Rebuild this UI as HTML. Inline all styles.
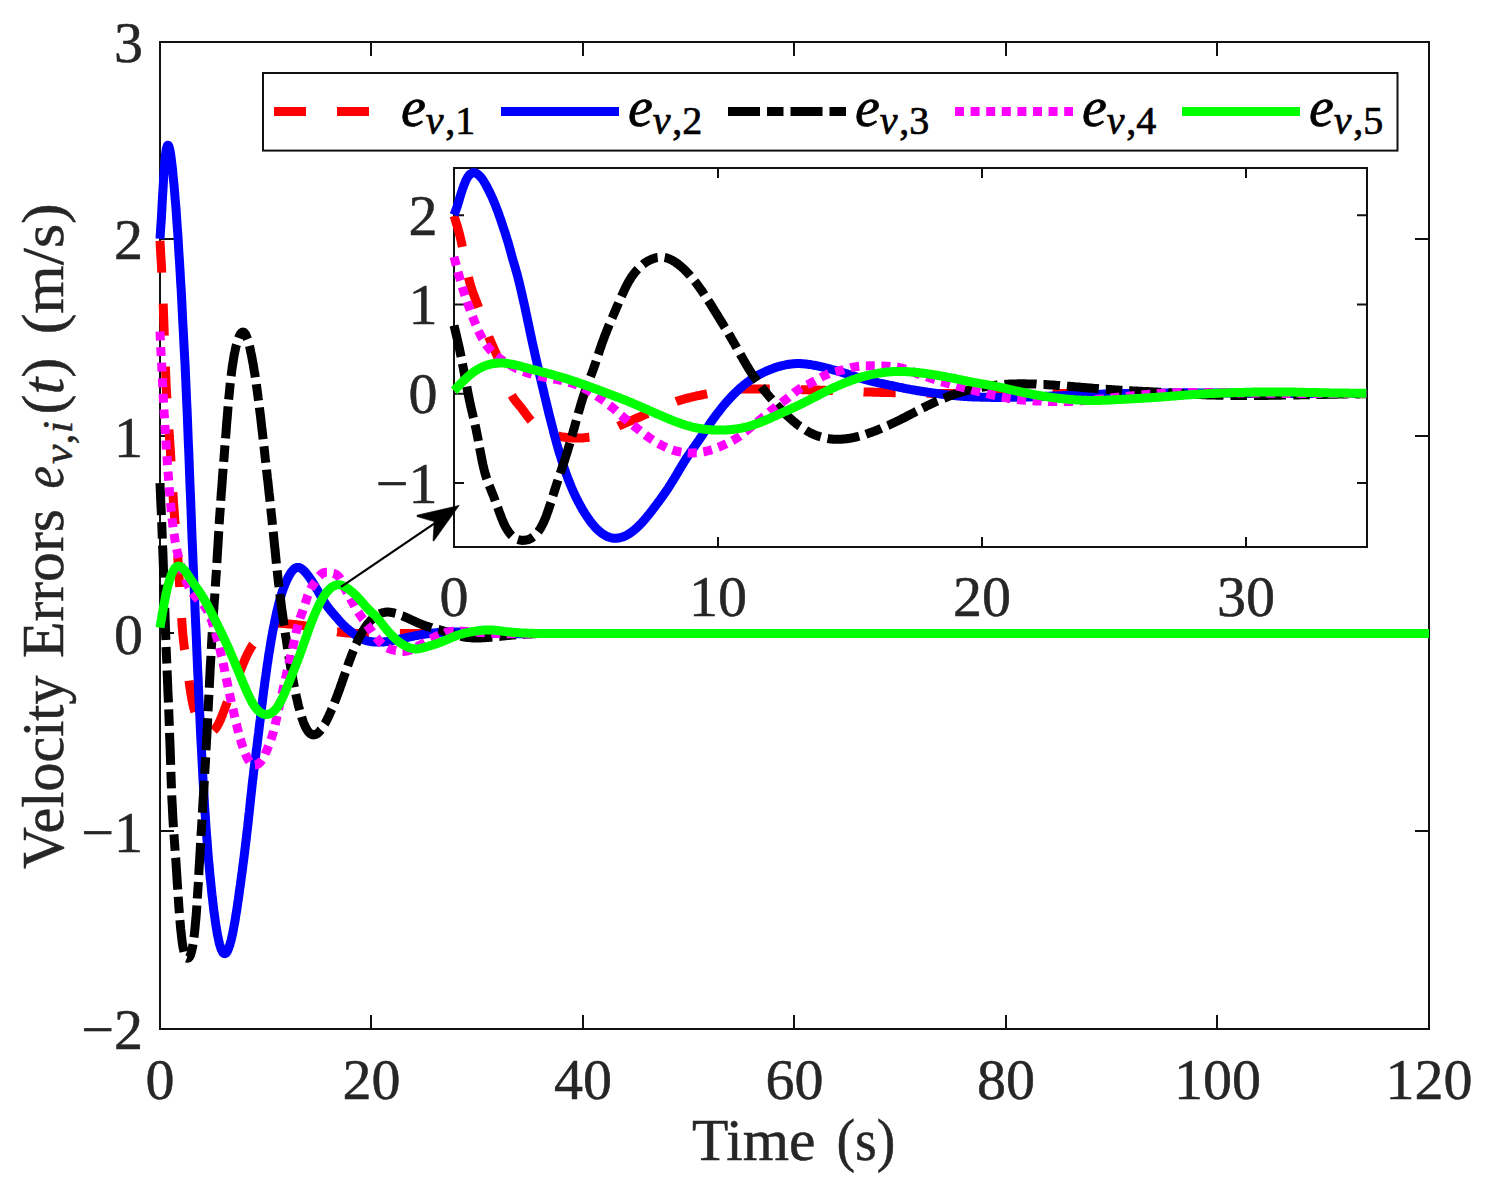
<!DOCTYPE html><html><head><meta charset="utf-8"><style>html,body{margin:0;padding:0;background:#fff;overflow:hidden}svg{display:block}</style></head><body>
<svg width="1486" height="1192" viewBox="0 0 1486 1192">
<rect width="1486" height="1192" fill="#fff"/>
<defs>
<clipPath id="cm"><rect x="154" y="42" width="1275" height="987"/></clipPath>
<clipPath id="ci"><rect x="448" y="168" width="919" height="379"/></clipPath>
</defs>
<rect x="160" y="42" width="1269" height="987" fill="none" stroke="#111111" stroke-width="2"/>
<path d="M160,1029 V1015 M160,42 V56 M371,1029 V1015 M371,42 V56 M583,1029 V1015 M583,42 V56 M794,1029 V1015 M794,42 V56 M1006,1029 V1015 M1006,42 V56 M1217,1029 V1015 M1217,42 V56 M1429,1029 V1015 M1429,42 V56 M160,1029 H174 M1429,1029 H1415 M160,831 H174 M1429,831 H1415 M160,633 H174 M1429,633 H1415 M160,436 H174 M1429,436 H1415 M160,239 H174 M1429,239 H1415 M160,42 H174 M1429,42 H1415" stroke="#111111" stroke-width="2" fill="none"/>
<path d="M160.0,240.7 L160.4,247.9 L160.8,255.2 L161.3,262.8 L161.7,270.8 L162.1,279.3 L162.5,288.5 L163.0,298.5 L163.4,309.4 L163.8,321.1 L164.2,333.3 L164.7,345.6 L165.1,357.6 L165.5,369.0 L165.9,379.4 L166.3,388.6 L166.8,396.8 L167.2,404.2 L167.6,411.0 L168.0,417.2 L168.5,423.2 L168.9,429.1 L169.3,435.0 L169.7,441.2 L170.2,447.7 L170.6,454.5 L171.0,461.4 L171.4,468.5 L171.8,475.5 L172.3,482.5 L172.7,489.4 L173.1,496.1 L173.5,502.6 L174.0,508.7 L174.4,514.4 L174.8,519.8 L175.2,525.1 L175.7,530.2 L176.1,535.3 L176.5,540.4 L176.9,545.7 L177.3,551.2 L177.8,557.0 L178.2,563.2 L178.6,569.7 L179.0,576.5 L179.5,583.4 L179.9,590.4 L180.3,597.4 L180.7,604.3 L181.2,611.0 L181.6,617.4 L182.0,623.4 L182.4,629.0 L182.8,633.9 L183.3,638.4 L183.7,642.3 L184.1,645.8 L184.5,649.1 L185.0,652.0 L185.4,654.8 L185.8,657.6 L186.2,660.3 L186.6,663.1 L187.1,666.1 L187.5,669.2 L187.9,672.3 L188.3,675.6 L188.8,678.8 L189.2,682.0 L189.6,685.1 L190.0,688.0 L190.5,690.9 L190.9,693.6 L191.3,696.1 L191.7,698.4 L192.1,700.7 L192.6,702.7 L193.0,704.7 L193.4,706.6 L193.8,708.3 L194.3,709.9 L194.7,711.4 L195.1,712.9 L195.5,714.2 L196.0,715.5 L196.4,716.7 L196.8,717.8 L197.2,718.9 L197.6,720.0 L198.1,720.9 L198.5,721.9 L198.9,722.8 L199.3,723.6 L199.8,724.4 L200.2,725.1 L200.6,725.8 L201.0,726.5 L201.5,727.1 L201.9,727.7 L202.3,728.3 L202.7,728.8 L203.1,729.2 L203.6,729.6 L204.0,730.0 L204.4,730.4 L204.8,730.7 L205.3,731.0 L205.7,731.3 L206.1,731.5 L206.5,731.7 L207.0,731.8 L207.4,732.0 L207.8,732.1 L208.2,732.2 L208.6,732.2 L209.1,732.2 L209.5,732.2 L209.9,732.2 L210.3,732.1 L210.8,732.0 L211.2,731.9 L211.6,731.7 L212.0,731.5 L212.5,731.3 L212.9,731.1 L213.3,730.8 L213.7,730.4 L214.1,730.0 L214.6,729.6 L215.0,729.1 L215.4,728.6 L215.8,728.1 L216.3,727.5 L216.7,726.9 L217.1,726.2 L217.5,725.5 L218.0,724.8 L218.4,724.0 L218.8,723.2 L219.2,722.3 L219.6,721.4 L220.1,720.5 L220.5,719.5 L220.9,718.5 L221.3,717.5 L221.8,716.4 L222.2,715.4 L222.6,714.3 L223.0,713.2 L223.4,712.1 L223.9,711.0 L224.3,709.8 L224.7,708.7 L225.1,707.6 L225.6,706.5 L226.0,705.5 L226.4,704.4 L226.8,703.3 L227.3,702.3 L227.7,701.2 L228.1,700.2 L228.5,699.2 L228.9,698.2 L229.4,697.1 L229.8,696.1 L230.2,695.1 L230.6,694.1 L231.1,693.1 L231.5,692.2 L231.9,691.2 L232.3,690.2 L232.8,689.2 L233.2,688.2 L233.6,687.2 L234.0,686.2 L234.4,685.2 L234.9,684.2 L235.3,683.2 L235.7,682.2 L236.1,681.2 L236.6,680.1 L237.0,679.1 L237.4,678.1 L237.8,677.0 L238.3,676.0 L238.7,674.9 L239.1,673.9 L239.5,672.8 L239.9,671.7 L240.4,670.7 L240.8,669.6 L241.2,668.6 L241.6,667.5 L242.1,666.5 L242.5,665.4 L242.9,664.4 L243.3,663.4 L243.8,662.3 L244.2,661.3 L244.6,660.4 L245.0,659.4 L245.4,658.4 L245.9,657.5 L246.3,656.5 L246.7,655.6 L247.1,654.7 L247.6,653.9 L248.0,653.0 L248.4,652.2 L248.8,651.4 L249.3,650.6 L249.7,649.9 L250.1,649.1 L250.5,648.4 L250.9,647.7 L251.4,647.0 L251.8,646.3 L252.2,645.7 L252.6,645.0 L253.1,644.4 L253.5,643.8 L253.9,643.2 L254.3,642.6 L254.8,642.1 L255.2,641.5 L255.6,641.0 L256.0,640.4 L256.4,639.9 L256.9,639.4 L257.3,638.9 L257.7,638.4 L258.1,637.9 L258.6,637.4 L259.0,636.9 L259.4,636.4 L259.8,635.9 L260.3,635.5 L260.7,635.0 L261.1,634.5 L261.5,634.1 L261.9,633.6 L262.4,633.2 L262.8,632.7 L263.2,632.3 L263.6,631.8 L264.1,631.4 L264.5,631.0 L264.9,630.6 L265.3,630.2 L265.8,629.8 L266.2,629.4 L266.6,629.0 L267.0,628.6 L267.4,628.2 L267.9,627.9 L268.3,627.6 L268.7,627.2 L269.1,626.9 L269.6,626.6 L270.0,626.3 L270.4,626.0 L270.8,625.7 L271.2,625.5 L271.7,625.2 L272.1,625.0 L272.5,624.8 L272.9,624.6 L273.4,624.4 L273.8,624.3 L274.2,624.1 L274.6,624.0 L275.1,623.9 L275.5,623.8 L275.9,623.7 L276.3,623.6 L276.7,623.5 L277.2,623.4 L277.6,623.4 L278.0,623.4 L278.4,623.3 L278.9,623.3 L279.3,623.3 L279.7,623.3 L280.1,623.3 L280.6,623.3 L281.0,623.3 L281.4,623.3 L281.8,623.3 L282.2,623.4 L282.7,623.4 L283.1,623.4 L283.5,623.5 L283.9,623.5 L284.4,623.6 L284.8,623.6 L285.2,623.6 L285.6,623.7 L286.1,623.7 L286.5,623.8 L286.9,623.8 L287.3,623.8 L287.7,623.9 L288.2,623.9 L288.6,624.0 L289.0,624.0 L289.4,624.1 L289.9,624.1 L290.3,624.1 L290.7,624.2 L291.1,624.2 L291.6,624.3 L292.0,624.3 L292.4,624.3 L292.8,624.4 L293.2,624.4 L293.7,624.5 L294.1,624.5 L294.5,624.6 L294.9,624.6 L295.4,624.7 L295.8,624.7 L296.2,624.7 L296.6,624.8 L297.1,624.8 L297.5,624.9 L297.9,624.9 L298.3,625.0 L298.7,625.0 L299.2,625.1 L299.6,625.1 L300.0,625.2 L300.4,625.2 L300.9,625.3 L301.3,625.3 L301.7,625.4 L302.1,625.5 L302.6,625.5 L303.0,625.6 L303.4,625.6 L303.8,625.7 L304.2,625.8 L304.7,625.8 L305.1,625.9 L305.5,626.0 L305.9,626.0 L306.4,626.1 L306.8,626.2 L307.2,626.2 L307.6,626.3 L308.1,626.4 L308.5,626.5 L308.9,626.5 L309.3,626.6 L309.7,626.7 L310.2,626.8 L310.6,626.9 L311.0,627.0 L311.4,627.1 L311.9,627.2 L312.3,627.3 L312.7,627.4 L313.1,627.5 L313.5,627.6 L314.0,627.7 L314.4,627.8 L314.8,627.8 L315.2,627.9 L315.7,628.0 L316.1,628.1 L316.5,628.2 L316.9,628.3 L317.4,628.4 L317.8,628.5 L318.2,628.6 L318.6,628.7 L319.0,628.8 L319.5,628.9 L319.9,629.0 L320.3,629.1 L320.7,629.2 L321.2,629.3 L321.6,629.4 L322.0,629.5 L322.4,629.6 L322.9,629.7 L323.3,629.7 L323.7,629.8 L324.1,629.9 L324.5,630.0 L325.0,630.1 L325.4,630.1 L325.8,630.2 L326.2,630.3 L326.7,630.3 L327.1,630.4 L327.5,630.5 L327.9,630.5 L328.4,630.6 L328.8,630.7 L329.2,630.7 L329.6,630.8 L330.0,630.9 L330.5,630.9 L330.9,631.0 L331.3,631.0 L331.7,631.1 L332.2,631.1 L332.6,631.2 L333.0,631.3 L333.4,631.3 L333.9,631.4 L334.3,631.4 L334.7,631.5 L335.1,631.5 L335.5,631.6 L336.0,631.6 L336.4,631.7 L336.8,631.8 L337.2,631.8 L337.7,631.9 L338.1,631.9 L338.5,632.0 L338.9,632.0 L339.4,632.1 L339.8,632.1 L340.2,632.2 L340.6,632.2 L341.0,632.3 L341.5,632.3 L341.9,632.4 L342.3,632.4 L342.7,632.5 L343.2,632.5 L343.6,632.6 L344.0,632.6 L344.4,632.7 L344.9,632.7 L345.3,632.7 L345.7,632.8 L346.1,632.8 L346.5,632.9 L347.0,632.9 L347.4,632.9 L347.8,633.0 L348.2,633.0 L348.7,633.0 L349.1,633.1 L349.5,633.1 L349.9,633.1 L350.4,633.1 L350.8,633.2 L351.2,633.2 L351.6,633.2 L352.0,633.2 L352.5,633.3 L352.9,633.3 L353.3,633.3 L353.7,633.3 L354.2,633.3 L354.6,633.3 L355.0,633.4 L355.4,633.4 L355.8,633.4 L356.3,633.4 L356.7,633.4 L357.1,633.4 L357.5,633.4 L358.0,633.5 L358.4,633.5 L358.8,633.5 L359.2,633.5 L359.7,633.5 L360.1,633.5 L360.5,633.5 L360.9,633.5 L361.3,633.5 L361.8,633.5 L362.2,633.5 L362.6,633.5 L363.0,633.5 L363.5,633.6 L363.9,633.6 L364.3,633.6 L364.7,633.6 L365.2,633.6 L365.6,633.6 L366.0,633.6 L366.4,633.6 L366.8,633.6 L367.3,633.6 L367.7,633.6 L368.1,633.6 L368.5,633.6 L369.0,633.6 L369.4,633.6 L369.8,633.6 L370.2,633.6 L370.7,633.6 L371.1,633.6 L371.5,633.6 L371.9,633.6 L372.3,633.6 L372.8,633.6 L373.2,633.6 L373.6,633.6 L374.0,633.6 L374.5,633.6 L374.9,633.6 L375.3,633.5 L375.7,633.5 L376.2,633.5 L376.6,633.5 L377.0,633.5 L377.4,633.5 L377.8,633.5 L378.3,633.5 L378.7,633.5 L379.1,633.5 L379.5,633.5 L380.0,633.5 L380.4,633.5 L380.8,633.5 L381.2,633.5 L381.7,633.5 L382.1,633.5 L382.5,633.5 L382.9,633.5 L383.3,633.5 L383.8,633.5 L384.2,633.5 L384.6,633.5 L385.0,633.5 L385.5,633.5 L385.9,633.5 L386.3,633.5 L386.7,633.5 L387.2,633.5 L387.6,633.5 L388.0,633.5 L388.4,633.5 L388.8,633.5 L389.3,633.5 L389.7,633.5 L390.1,633.5 L390.5,633.5 L391.0,633.5 L391.4,633.5 L391.8,633.5 L392.2,633.5 L392.6,633.5 L393.1,633.5 L393.5,633.5 L393.9,633.5 L394.3,633.5 L394.8,633.5 L395.2,633.5 L395.6,633.5 L396.0,633.5 L396.5,633.5 L396.9,633.5 L397.3,633.5 L397.7,633.5 L398.1,633.5 L398.6,633.5 L399.0,633.5 L399.4,633.5 L399.8,633.5 L400.3,633.5 L400.7,633.5 L401.1,633.5 L401.5,633.5 L402.0,633.5 L402.4,633.5 L402.8,633.5 L403.2,633.5 L403.6,633.5 L404.1,633.5 L404.5,633.5 L404.9,633.5 L405.3,633.5 L405.8,633.5 L406.2,633.5 L406.6,633.5 L407.0,633.5 L407.5,633.5 L407.9,633.5 L408.3,633.5 L408.7,633.5 L409.1,633.5 L409.6,633.5 L410.0,633.5 L410.4,633.5 L410.8,633.5 L411.3,633.5 L411.7,633.5 L412.1,633.5 L412.5,633.5 L413.0,633.5 L413.4,633.5 L413.8,633.5 L414.2,633.5 L414.6,633.5 L415.1,633.5 L415.5,633.5 L415.9,633.5 L416.3,633.5 L416.8,633.5 L417.2,633.5 L417.6,633.5 L418.0,633.5 L418.5,633.5 L418.9,633.5 L419.3,633.5 L419.7,633.5 L420.1,633.5 L420.6,633.5 L421.0,633.5 L421.4,633.5 L421.8,633.5 L422.3,633.5 L422.7,633.5 L423.1,633.5 L423.5,633.5 L424.0,633.5 L424.4,633.5 L424.8,633.5 L425.2,633.5 L425.6,633.5 L426.1,633.5 L426.5,633.5 L426.9,633.5 L427.3,633.5 L427.8,633.5 L428.2,633.5 L428.6,633.5 L429.0,633.5 L429.5,633.5 L429.9,633.5 L430.3,633.5 L430.7,633.5 L431.1,633.5 L431.6,633.5 L432.0,633.5 L432.4,633.5 L432.8,633.5 L433.3,633.5 L433.7,633.5 L434.1,633.5 L434.5,633.5 L434.9,633.5 L435.4,633.5 L435.8,633.5 L436.2,633.5 L436.6,633.5 L437.1,633.5 L437.5,633.5 L437.9,633.5 L438.3,633.5 L438.8,633.5 L439.2,633.5 L439.6,633.5 L440.0,633.5 L440.4,633.5 L440.9,633.5 L441.3,633.5 L441.7,633.6 L442.1,633.6 L442.6,633.6 L443.0,633.6 L443.4,633.6 L443.8,633.6 L444.3,633.6 L444.7,633.6 L445.1,633.6 L445.5,633.6 L445.9,633.6 L446.4,633.6 L446.8,633.6 L447.2,633.6 L447.6,633.6 L448.1,633.6 L448.5,633.6 L448.9,633.6 L449.3,633.6 L449.8,633.6 L450.2,633.6 L450.6,633.6 L451.0,633.6 L451.4,633.6 L451.9,633.6 L452.3,633.6 L452.7,633.6 L453.1,633.6 L453.6,633.6 L454.0,633.6 L454.4,633.6 L454.8,633.6 L455.3,633.6 L455.7,633.6 L456.1,633.6 L456.5,633.6 L456.9,633.6 L457.4,633.6 L457.8,633.6 L458.2,633.6 L458.6,633.6 L459.1,633.6 L459.5,633.6 L459.9,633.6 L460.3,633.6 L460.8,633.6 L461.2,633.6 L461.6,633.6 L462.0,633.6 L462.4,633.6 L462.9,633.6 L463.3,633.6 L463.7,633.6 L464.1,633.6 L464.6,633.6 L465.0,633.6 L465.4,633.6 L465.8,633.6 L466.3,633.6 L466.7,633.6 L467.1,633.6 L467.5,633.6 L467.9,633.6 L468.4,633.6 L468.8,633.6 L469.2,633.6 L469.6,633.6 L470.1,633.6 L470.5,633.6 L470.9,633.6 L471.3,633.6 L471.8,633.6 L472.2,633.6 L472.6,633.6 L473.0,633.6 L473.4,633.6 L473.9,633.6 L474.3,633.6 L474.7,633.6 L475.1,633.6 L475.6,633.6 L476.0,633.6 L476.4,633.6 L476.8,633.6 L477.2,633.6 L477.7,633.6 L478.1,633.6 L478.5,633.6 L478.9,633.6 L479.4,633.6 L479.8,633.6 L480.2,633.6 L480.6,633.6 L481.1,633.6 L481.5,633.6 L481.9,633.6 L482.3,633.6 L482.7,633.6 L483.2,633.6 L483.6,633.6 L484.0,633.6 L484.4,633.6 L484.9,633.6 L485.3,633.6 L485.7,633.6 L486.1,633.6 L486.6,633.6 L487.0,633.6 L487.4,633.6 L487.8,633.6 L488.2,633.6 L488.7,633.6 L489.1,633.6 L489.5,633.6 L489.9,633.6 L490.4,633.6 L490.8,633.6 L491.2,633.6 L491.6,633.6 L492.1,633.6 L492.5,633.6 L492.9,633.6 L493.3,633.6 L493.7,633.6 L494.2,633.6 L494.6,633.6 L495.0,633.6 L495.4,633.6 L495.9,633.6 L496.3,633.6 L496.7,633.6 L497.1,633.5 L497.6,633.5 L498.0,633.5 L498.4,633.5 L498.8,633.5 L499.2,633.5 L499.7,633.5 L500.1,633.5 L500.5,633.5 L500.9,633.5 L501.4,633.5 L501.8,633.5 L502.2,633.5 L502.6,633.5 L503.1,633.5 L503.5,633.5 L503.9,633.5 L504.3,633.5 L504.7,633.5 L505.2,633.5 L505.6,633.5 L506.0,633.5 L506.4,633.5 L506.9,633.5 L507.3,633.5 L507.7,633.5 L508.1,633.5 L508.6,633.5 L509.0,633.5 L509.4,633.5 L509.8,633.5 L510.2,633.5 L510.7,633.5 L511.1,633.5 L511.5,633.5 L511.9,633.5 L512.4,633.5 L512.8,633.5 L513.2,633.5 L513.6,633.5 L514.1,633.5 L514.5,633.5 L514.9,633.5 L515.3,633.5 L515.7,633.5 L516.2,633.5 L516.6,633.5 L517.0,633.5 L517.4,633.5 L517.9,633.5 L518.3,633.5 L518.7,633.5 L519.1,633.5 L519.5,633.5 L520.0,633.5 L520.4,633.5 L520.8,633.5 L521.2,633.5 L521.7,633.5 L522.1,633.5 L522.5,633.5 L522.9,633.5 L523.4,633.5 L523.8,633.5 L524.2,633.5 L524.6,633.5 L525.0,633.5 L525.5,633.5 L525.9,633.5 L526.3,633.5 L526.7,633.5 L527.2,633.5 L527.6,633.5 L528.0,633.5 L528.4,633.5 L528.9,633.5 L529.3,633.5 L529.7,633.5 L530.1,633.5 L530.5,633.5 L531.0,633.5 L531.4,633.5 L531.8,633.5 L532.2,633.5 L532.7,633.5 L533.1,633.5 L533.5,633.5 L533.9,633.5 L534.4,633.5 L534.8,633.5 L535.2,633.5 L535.6,633.5 L536.0,633.5 L536.5,633.5 L536.9,633.5 L537.3,633.5 L537.7,633.5 L538.2,633.5 L538.6,633.5 L539.0,633.5 L539.4,633.5 L539.9,633.5 L540.3,633.5 L540.7,633.5 L1429.0,633.5" fill="none" stroke="#ff0000" stroke-width="9" stroke-dasharray="32 31" stroke-linejoin="round" clip-path="url(#cm)"/>
<path d="M160.0,238.7 L160.4,232.8 L160.8,226.5 L161.3,219.6 L161.7,212.3 L162.1,204.7 L162.5,197.0 L163.0,189.5 L163.4,182.2 L163.8,175.4 L164.2,169.2 L164.7,163.7 L165.1,158.9 L165.5,154.9 L165.9,151.7 L166.3,149.1 L166.8,147.3 L167.2,146.0 L167.6,145.3 L168.0,145.2 L168.5,145.5 L168.9,146.4 L169.3,147.7 L169.7,149.4 L170.2,151.5 L170.6,154.0 L171.0,156.9 L171.4,160.0 L171.8,163.5 L172.3,167.3 L172.7,171.3 L173.1,175.6 L173.5,180.0 L174.0,184.7 L174.4,189.5 L174.8,194.4 L175.2,199.5 L175.7,204.8 L176.1,210.2 L176.5,215.9 L176.9,221.7 L177.3,227.8 L177.8,234.2 L178.2,240.8 L178.6,247.6 L179.0,254.5 L179.5,261.5 L179.9,268.5 L180.3,275.5 L180.7,282.7 L181.2,290.1 L181.6,297.9 L182.0,306.0 L182.4,314.4 L182.8,322.9 L183.3,331.3 L183.7,339.4 L184.1,347.2 L184.5,355.1 L185.0,363.4 L185.4,372.0 L185.8,381.1 L186.2,390.6 L186.6,400.4 L187.1,410.4 L187.5,420.7 L187.9,431.2 L188.3,441.8 L188.8,452.6 L189.2,463.5 L189.6,474.4 L190.0,485.3 L190.5,496.3 L190.9,507.2 L191.3,518.0 L191.7,528.8 L192.1,539.4 L192.6,549.9 L193.0,560.3 L193.4,570.6 L193.8,580.7 L194.3,590.8 L194.7,600.8 L195.1,610.7 L195.5,620.5 L196.0,630.3 L196.4,640.0 L196.8,649.7 L197.2,659.4 L197.6,669.0 L198.1,678.6 L198.5,688.0 L198.9,697.4 L199.3,706.6 L199.8,715.6 L200.2,724.5 L200.6,733.2 L201.0,741.7 L201.5,750.1 L201.9,758.2 L202.3,766.1 L202.7,773.8 L203.1,781.4 L203.6,788.7 L204.0,795.8 L204.4,802.7 L204.8,809.4 L205.3,815.9 L205.7,822.2 L206.1,828.2 L206.5,834.1 L207.0,839.7 L207.4,845.2 L207.8,850.5 L208.2,855.6 L208.6,860.5 L209.1,865.3 L209.5,870.0 L209.9,874.4 L210.3,878.8 L210.8,883.0 L211.2,887.1 L211.6,891.1 L212.0,895.0 L212.5,898.8 L212.9,902.4 L213.3,905.9 L213.7,909.4 L214.1,912.7 L214.6,915.9 L215.0,918.9 L215.4,921.9 L215.8,924.7 L216.3,927.4 L216.7,930.0 L217.1,932.4 L217.5,934.8 L218.0,936.9 L218.4,939.0 L218.8,940.9 L219.2,942.7 L219.6,944.3 L220.1,945.8 L220.5,947.2 L220.9,948.5 L221.3,949.6 L221.8,950.5 L222.2,951.4 L222.6,952.1 L223.0,952.7 L223.4,953.1 L223.9,953.5 L224.3,953.6 L224.7,953.7 L225.1,953.6 L225.6,953.4 L226.0,953.1 L226.4,952.6 L226.8,952.1 L227.3,951.4 L227.7,950.6 L228.1,949.6 L228.5,948.6 L228.9,947.5 L229.4,946.2 L229.8,944.9 L230.2,943.4 L230.6,941.9 L231.1,940.3 L231.5,938.5 L231.9,936.7 L232.3,934.8 L232.8,932.8 L233.2,930.7 L233.6,928.5 L234.0,926.3 L234.4,923.9 L234.9,921.5 L235.3,919.0 L235.7,916.4 L236.1,913.8 L236.6,911.1 L237.0,908.3 L237.4,905.5 L237.8,902.6 L238.3,899.7 L238.7,896.7 L239.1,893.7 L239.5,890.7 L239.9,887.7 L240.4,884.6 L240.8,881.6 L241.2,878.4 L241.6,875.3 L242.1,872.2 L242.5,869.0 L242.9,865.7 L243.3,862.5 L243.8,859.2 L244.2,855.8 L244.6,852.4 L245.0,849.0 L245.4,845.5 L245.9,842.0 L246.3,838.4 L246.7,834.8 L247.1,831.1 L247.6,827.3 L248.0,823.5 L248.4,819.7 L248.8,815.8 L249.3,811.8 L249.7,807.9 L250.1,803.9 L250.5,800.0 L250.9,796.0 L251.4,792.1 L251.8,788.3 L252.2,784.5 L252.6,780.8 L253.1,777.1 L253.5,773.6 L253.9,770.1 L254.3,766.6 L254.8,763.2 L255.2,759.9 L255.6,756.5 L256.0,753.2 L256.4,749.9 L256.9,746.6 L257.3,743.2 L257.7,739.9 L258.1,736.5 L258.6,733.1 L259.0,729.6 L259.4,726.1 L259.8,722.6 L260.3,719.1 L260.7,715.6 L261.1,712.0 L261.5,708.5 L261.9,705.1 L262.4,701.6 L262.8,698.2 L263.2,694.8 L263.6,691.5 L264.1,688.2 L264.5,685.0 L264.9,681.9 L265.3,678.8 L265.8,675.7 L266.2,672.7 L266.6,669.7 L267.0,666.8 L267.4,663.9 L267.9,661.0 L268.3,658.2 L268.7,655.4 L269.1,652.7 L269.6,650.0 L270.0,647.4 L270.4,644.9 L270.8,642.3 L271.2,639.9 L271.7,637.5 L272.1,635.1 L272.5,632.8 L272.9,630.5 L273.4,628.3 L273.8,626.1 L274.2,624.0 L274.6,621.9 L275.1,619.8 L275.5,617.8 L275.9,615.8 L276.3,613.9 L276.7,612.0 L277.2,610.2 L277.6,608.4 L278.0,606.7 L278.4,605.0 L278.9,603.3 L279.3,601.7 L279.7,600.2 L280.1,598.7 L280.6,597.2 L281.0,595.8 L281.4,594.5 L281.8,593.1 L282.2,591.9 L282.7,590.6 L283.1,589.4 L283.5,588.3 L283.9,587.1 L284.4,586.0 L284.8,584.9 L285.2,583.9 L285.6,582.9 L286.1,581.9 L286.5,580.9 L286.9,580.0 L287.3,579.1 L287.7,578.2 L288.2,577.3 L288.6,576.5 L289.0,575.7 L289.4,575.0 L289.9,574.3 L290.3,573.6 L290.7,572.9 L291.1,572.3 L291.6,571.7 L292.0,571.2 L292.4,570.7 L292.8,570.2 L293.2,569.7 L293.7,569.3 L294.1,569.0 L294.5,568.6 L294.9,568.3 L295.4,568.1 L295.8,567.9 L296.2,567.7 L296.6,567.5 L297.1,567.4 L297.5,567.4 L297.9,567.4 L298.3,567.4 L298.7,567.4 L299.2,567.5 L299.6,567.7 L300.0,567.8 L300.4,568.0 L300.9,568.3 L301.3,568.5 L301.7,568.8 L302.1,569.1 L302.6,569.5 L303.0,569.8 L303.4,570.2 L303.8,570.6 L304.2,571.0 L304.7,571.5 L305.1,572.0 L305.5,572.4 L305.9,572.9 L306.4,573.4 L306.8,573.9 L307.2,574.5 L307.6,575.0 L308.1,575.6 L308.5,576.1 L308.9,576.7 L309.3,577.3 L309.7,577.9 L310.2,578.5 L310.6,579.1 L311.0,579.8 L311.4,580.4 L311.9,581.0 L312.3,581.7 L312.7,582.4 L313.1,583.0 L313.5,583.7 L314.0,584.4 L314.4,585.1 L314.8,585.8 L315.2,586.5 L315.7,587.2 L316.1,587.9 L316.5,588.6 L316.9,589.4 L317.4,590.1 L317.8,590.8 L318.2,591.5 L318.6,592.3 L319.0,593.0 L319.5,593.7 L319.9,594.5 L320.3,595.2 L320.7,595.9 L321.2,596.6 L321.6,597.4 L322.0,598.1 L322.4,598.8 L322.9,599.5 L323.3,600.2 L323.7,600.9 L324.1,601.6 L324.5,602.2 L325.0,602.9 L325.4,603.5 L325.8,604.2 L326.2,604.8 L326.7,605.4 L327.1,606.0 L327.5,606.6 L327.9,607.2 L328.4,607.7 L328.8,608.3 L329.2,608.8 L329.6,609.4 L330.0,609.9 L330.5,610.4 L330.9,610.9 L331.3,611.4 L331.7,611.9 L332.2,612.4 L332.6,612.9 L333.0,613.4 L333.4,613.9 L333.9,614.4 L334.3,614.9 L334.7,615.4 L335.1,615.9 L335.5,616.4 L336.0,616.8 L336.4,617.3 L336.8,617.8 L337.2,618.3 L337.7,618.8 L338.1,619.3 L338.5,619.8 L338.9,620.3 L339.4,620.8 L339.8,621.2 L340.2,621.7 L340.6,622.2 L341.0,622.6 L341.5,623.1 L341.9,623.5 L342.3,624.0 L342.7,624.4 L343.2,624.8 L343.6,625.2 L344.0,625.7 L344.4,626.1 L344.9,626.4 L345.3,626.8 L345.7,627.2 L346.1,627.6 L346.5,628.0 L347.0,628.3 L347.4,628.7 L347.8,629.0 L348.2,629.4 L348.7,629.7 L349.1,630.1 L349.5,630.4 L349.9,630.8 L350.4,631.1 L350.8,631.4 L351.2,631.8 L351.6,632.1 L352.0,632.4 L352.5,632.7 L352.9,633.1 L353.3,633.4 L353.7,633.7 L354.2,634.0 L354.6,634.3 L355.0,634.7 L355.4,635.0 L355.8,635.3 L356.3,635.6 L356.7,635.9 L357.1,636.1 L357.5,636.4 L358.0,636.7 L358.4,637.0 L358.8,637.2 L359.2,637.5 L359.7,637.7 L360.1,638.0 L360.5,638.2 L360.9,638.4 L361.3,638.7 L361.8,638.9 L362.2,639.1 L362.6,639.3 L363.0,639.4 L363.5,639.6 L363.9,639.8 L364.3,639.9 L364.7,640.1 L365.2,640.2 L365.6,640.4 L366.0,640.5 L366.4,640.6 L366.8,640.8 L367.3,640.9 L367.7,641.0 L368.1,641.1 L368.5,641.2 L369.0,641.3 L369.4,641.3 L369.8,641.4 L370.2,641.5 L370.7,641.6 L371.1,641.6 L371.5,641.7 L371.9,641.7 L372.3,641.8 L372.8,641.8 L373.2,641.9 L373.6,641.9 L374.0,641.9 L374.5,642.0 L374.9,642.0 L375.3,642.0 L375.7,642.0 L376.2,642.1 L376.6,642.1 L377.0,642.1 L377.4,642.1 L377.8,642.1 L378.3,642.1 L378.7,642.1 L379.1,642.1 L379.5,642.1 L380.0,642.1 L380.4,642.1 L380.8,642.0 L381.2,642.0 L381.7,642.0 L382.1,642.0 L382.5,642.0 L382.9,641.9 L383.3,641.9 L383.8,641.9 L384.2,641.8 L384.6,641.8 L385.0,641.7 L385.5,641.7 L385.9,641.7 L386.3,641.6 L386.7,641.5 L387.2,641.5 L387.6,641.4 L388.0,641.4 L388.4,641.3 L388.8,641.3 L389.3,641.2 L389.7,641.1 L390.1,641.1 L390.5,641.0 L391.0,640.9 L391.4,640.8 L391.8,640.8 L392.2,640.7 L392.6,640.6 L393.1,640.5 L393.5,640.4 L393.9,640.4 L394.3,640.3 L394.8,640.2 L395.2,640.1 L395.6,640.0 L396.0,639.9 L396.5,639.8 L396.9,639.8 L397.3,639.7 L397.7,639.6 L398.1,639.5 L398.6,639.4 L399.0,639.3 L399.4,639.2 L399.8,639.1 L400.3,639.0 L400.7,638.9 L401.1,638.8 L401.5,638.7 L402.0,638.6 L402.4,638.5 L402.8,638.5 L403.2,638.4 L403.6,638.3 L404.1,638.2 L404.5,638.1 L404.9,638.0 L405.3,637.9 L405.8,637.8 L406.2,637.7 L406.6,637.6 L407.0,637.5 L407.5,637.4 L407.9,637.3 L408.3,637.2 L408.7,637.2 L409.1,637.1 L409.6,637.0 L410.0,636.9 L410.4,636.8 L410.8,636.7 L411.3,636.6 L411.7,636.5 L412.1,636.4 L412.5,636.4 L413.0,636.3 L413.4,636.2 L413.8,636.1 L414.2,636.0 L414.6,635.9 L415.1,635.8 L415.5,635.8 L415.9,635.7 L416.3,635.6 L416.8,635.5 L417.2,635.4 L417.6,635.4 L418.0,635.3 L418.5,635.2 L418.9,635.1 L419.3,635.0 L419.7,635.0 L420.1,634.9 L420.6,634.8 L421.0,634.7 L421.4,634.7 L421.8,634.6 L422.3,634.5 L422.7,634.5 L423.1,634.4 L423.5,634.3 L424.0,634.3 L424.4,634.2 L424.8,634.1 L425.2,634.1 L425.6,634.0 L426.1,633.9 L426.5,633.9 L426.9,633.8 L427.3,633.8 L427.8,633.7 L428.2,633.6 L428.6,633.6 L429.0,633.5 L429.5,633.5 L429.9,633.4 L430.3,633.4 L430.7,633.3 L431.1,633.3 L431.6,633.2 L432.0,633.2 L432.4,633.1 L432.8,633.1 L433.3,633.0 L433.7,633.0 L434.1,632.9 L434.5,632.9 L434.9,632.9 L435.4,632.8 L435.8,632.8 L436.2,632.7 L436.6,632.7 L437.1,632.7 L437.5,632.6 L437.9,632.6 L438.3,632.6 L438.8,632.5 L439.2,632.5 L439.6,632.5 L440.0,632.5 L440.4,632.4 L440.9,632.4 L441.3,632.4 L441.7,632.4 L442.1,632.3 L442.6,632.3 L443.0,632.3 L443.4,632.3 L443.8,632.3 L444.3,632.2 L444.7,632.2 L445.1,632.2 L445.5,632.2 L445.9,632.2 L446.4,632.2 L446.8,632.1 L447.2,632.1 L447.6,632.1 L448.1,632.1 L448.5,632.1 L448.9,632.1 L449.3,632.1 L449.8,632.1 L450.2,632.1 L450.6,632.1 L451.0,632.1 L451.4,632.1 L451.9,632.1 L452.3,632.1 L452.7,632.1 L453.1,632.1 L453.6,632.1 L454.0,632.1 L454.4,632.1 L454.8,632.1 L455.3,632.1 L455.7,632.1 L456.1,632.1 L456.5,632.1 L456.9,632.1 L457.4,632.1 L457.8,632.1 L458.2,632.1 L458.6,632.1 L459.1,632.1 L459.5,632.1 L459.9,632.1 L460.3,632.1 L460.8,632.1 L461.2,632.2 L461.6,632.2 L462.0,632.2 L462.4,632.2 L462.9,632.2 L463.3,632.2 L463.7,632.2 L464.1,632.2 L464.6,632.2 L465.0,632.3 L465.4,632.3 L465.8,632.3 L466.3,632.3 L466.7,632.3 L467.1,632.3 L467.5,632.3 L467.9,632.4 L468.4,632.4 L468.8,632.4 L469.2,632.4 L469.6,632.4 L470.1,632.4 L470.5,632.5 L470.9,632.5 L471.3,632.5 L471.8,632.5 L472.2,632.5 L472.6,632.5 L473.0,632.5 L473.4,632.6 L473.9,632.6 L474.3,632.6 L474.7,632.6 L475.1,632.6 L475.6,632.6 L476.0,632.7 L476.4,632.7 L476.8,632.7 L477.2,632.7 L477.7,632.7 L478.1,632.8 L478.5,632.8 L478.9,632.8 L479.4,632.8 L479.8,632.8 L480.2,632.8 L480.6,632.9 L481.1,632.9 L481.5,632.9 L481.9,632.9 L482.3,632.9 L482.7,632.9 L483.2,633.0 L483.6,633.0 L484.0,633.0 L484.4,633.0 L484.9,633.0 L485.3,633.1 L485.7,633.1 L486.1,633.1 L486.6,633.1 L487.0,633.1 L487.4,633.1 L487.8,633.2 L488.2,633.2 L488.7,633.2 L489.1,633.2 L489.5,633.2 L489.9,633.2 L490.4,633.2 L490.8,633.3 L491.2,633.3 L491.6,633.3 L492.1,633.3 L492.5,633.3 L492.9,633.3 L493.3,633.4 L493.7,633.4 L494.2,633.4 L494.6,633.4 L495.0,633.4 L495.4,633.4 L495.9,633.4 L496.3,633.4 L496.7,633.5 L497.1,633.5 L497.6,633.5 L498.0,633.5 L498.4,633.5 L498.8,633.5 L499.2,633.5 L499.7,633.5 L500.1,633.5 L500.5,633.5 L500.9,633.6 L501.4,633.6 L501.8,633.6 L502.2,633.6 L502.6,633.6 L503.1,633.6 L503.5,633.6 L503.9,633.6 L504.3,633.6 L504.7,633.6 L505.2,633.6 L505.6,633.6 L506.0,633.6 L506.4,633.6 L506.9,633.7 L507.3,633.7 L507.7,633.7 L508.1,633.7 L508.6,633.7 L509.0,633.7 L509.4,633.7 L509.8,633.7 L510.2,633.7 L510.7,633.7 L511.1,633.7 L511.5,633.7 L511.9,633.7 L512.4,633.7 L512.8,633.7 L513.2,633.7 L513.6,633.7 L514.1,633.7 L514.5,633.7 L514.9,633.7 L515.3,633.7 L515.7,633.7 L516.2,633.7 L516.6,633.7 L517.0,633.7 L517.4,633.7 L517.9,633.7 L518.3,633.7 L518.7,633.7 L519.1,633.7 L519.5,633.7 L520.0,633.7 L520.4,633.7 L520.8,633.7 L521.2,633.7 L521.7,633.7 L522.1,633.7 L522.5,633.7 L522.9,633.7 L523.4,633.7 L523.8,633.7 L524.2,633.7 L524.6,633.7 L525.0,633.7 L525.5,633.7 L525.9,633.7 L526.3,633.7 L526.7,633.7 L527.2,633.7 L527.6,633.6 L528.0,633.6 L528.4,633.6 L528.9,633.6 L529.3,633.6 L529.7,633.6 L530.1,633.6 L530.5,633.6 L531.0,633.6 L531.4,633.6 L531.8,633.6 L532.2,633.6 L532.7,633.6 L533.1,633.6 L533.5,633.6 L533.9,633.6 L534.4,633.6 L534.8,633.6 L535.2,633.6 L535.6,633.6 L536.0,633.6 L536.5,633.6 L536.9,633.5 L537.3,633.5 L537.7,633.5 L538.2,633.5 L538.6,633.5 L539.0,633.5 L539.4,633.5 L539.9,633.5 L540.3,633.5 L540.7,633.5 L1429.0,633.5" fill="none" stroke="#0000ff" stroke-width="9" stroke-linejoin="round" clip-path="url(#cm)"/>
<path d="M160.0,483.1 L160.4,492.7 L160.8,502.3 L161.3,512.2 L161.7,522.3 L162.1,532.8 L162.5,543.8 L163.0,555.3 L163.4,567.3 L163.8,579.6 L164.2,592.1 L164.7,604.7 L165.1,617.1 L165.5,629.4 L165.9,641.2 L166.3,652.5 L166.8,663.1 L167.2,673.3 L167.6,683.2 L168.0,693.1 L168.5,703.2 L168.9,713.9 L169.3,725.3 L169.7,737.5 L170.2,750.2 L170.6,762.9 L171.0,775.2 L171.4,786.7 L171.8,797.1 L172.3,806.4 L172.7,814.6 L173.1,822.0 L173.5,828.7 L174.0,834.9 L174.4,840.8 L174.8,846.5 L175.2,852.2 L175.7,858.1 L176.1,864.2 L176.5,870.5 L176.9,876.9 L177.3,883.4 L177.8,889.9 L178.2,896.3 L178.6,902.6 L179.0,908.6 L179.5,914.4 L179.9,919.7 L180.3,924.7 L180.7,929.2 L181.2,933.3 L181.6,937.1 L182.0,940.5 L182.4,943.5 L182.8,946.2 L183.3,948.5 L183.7,950.6 L184.1,952.4 L184.5,953.9 L185.0,955.1 L185.4,956.2 L185.8,957.0 L186.2,957.6 L186.6,958.0 L187.1,958.2 L187.5,958.3 L187.9,958.3 L188.3,958.1 L188.8,957.8 L189.2,957.3 L189.6,956.7 L190.0,956.0 L190.5,955.0 L190.9,953.8 L191.3,952.4 L191.7,950.8 L192.1,948.9 L192.6,946.7 L193.0,944.2 L193.4,941.4 L193.8,938.4 L194.3,934.9 L194.7,931.1 L195.1,927.0 L195.5,922.5 L196.0,917.5 L196.4,912.2 L196.8,906.4 L197.2,900.2 L197.6,893.6 L198.1,886.7 L198.5,879.6 L198.9,872.3 L199.3,864.9 L199.8,857.4 L200.2,850.0 L200.6,842.6 L201.0,835.3 L201.5,828.2 L201.9,821.2 L202.3,814.2 L202.7,807.3 L203.1,800.3 L203.6,793.3 L204.0,786.3 L204.4,779.1 L204.8,771.8 L205.3,764.4 L205.7,756.8 L206.1,749.0 L206.5,741.1 L207.0,733.1 L207.4,725.0 L207.8,716.7 L208.2,708.4 L208.6,700.0 L209.1,691.5 L209.5,683.1 L209.9,674.8 L210.3,666.6 L210.8,658.7 L211.2,650.9 L211.6,643.5 L212.0,636.5 L212.5,629.7 L212.9,623.1 L213.3,616.7 L213.7,610.5 L214.1,604.3 L214.6,598.2 L215.0,592.0 L215.4,585.7 L215.8,579.2 L216.3,572.6 L216.7,565.7 L217.1,558.7 L217.5,551.7 L218.0,544.5 L218.4,537.5 L218.8,530.6 L219.2,523.8 L219.6,517.3 L220.1,511.0 L220.5,504.8 L220.9,498.8 L221.3,492.9 L221.8,487.1 L222.2,481.4 L222.6,475.8 L223.0,470.3 L223.4,464.9 L223.9,459.5 L224.3,454.1 L224.7,448.7 L225.1,443.3 L225.6,437.9 L226.0,432.5 L226.4,427.1 L226.8,421.8 L227.3,416.5 L227.7,411.4 L228.1,406.4 L228.5,401.5 L228.9,396.8 L229.4,392.2 L229.8,387.9 L230.2,383.8 L230.6,379.9 L231.1,376.3 L231.5,372.9 L231.9,369.7 L232.3,366.6 L232.8,363.8 L233.2,361.1 L233.6,358.5 L234.0,356.1 L234.4,353.8 L234.9,351.7 L235.3,349.7 L235.7,347.8 L236.1,346.0 L236.6,344.3 L237.0,342.8 L237.4,341.3 L237.8,340.0 L238.3,338.8 L238.7,337.7 L239.1,336.7 L239.5,335.7 L239.9,334.9 L240.4,334.2 L240.8,333.5 L241.2,333.0 L241.6,332.6 L242.1,332.3 L242.5,332.1 L242.9,332.0 L243.3,332.1 L243.8,332.3 L244.2,332.6 L244.6,333.0 L245.0,333.5 L245.4,334.2 L245.9,335.0 L246.3,335.9 L246.7,337.0 L247.1,338.1 L247.6,339.3 L248.0,340.7 L248.4,342.1 L248.8,343.7 L249.3,345.3 L249.7,347.0 L250.1,348.8 L250.5,350.7 L250.9,352.7 L251.4,354.8 L251.8,356.9 L252.2,359.1 L252.6,361.4 L253.1,363.8 L253.5,366.2 L253.9,368.7 L254.3,371.3 L254.8,373.9 L255.2,376.7 L255.6,379.5 L256.0,382.3 L256.4,385.3 L256.9,388.3 L257.3,391.3 L257.7,394.4 L258.1,397.6 L258.6,400.9 L259.0,404.2 L259.4,407.6 L259.8,411.0 L260.3,414.5 L260.7,418.0 L261.1,421.6 L261.5,425.2 L261.9,428.9 L262.4,432.5 L262.8,436.3 L263.2,440.0 L263.6,443.7 L264.1,447.5 L264.5,451.3 L264.9,455.1 L265.3,458.8 L265.8,462.6 L266.2,466.4 L266.6,470.2 L267.0,474.0 L267.4,477.8 L267.9,481.6 L268.3,485.4 L268.7,489.3 L269.1,493.2 L269.6,497.1 L270.0,501.0 L270.4,504.9 L270.8,508.9 L271.2,512.9 L271.7,517.0 L272.1,521.1 L272.5,525.2 L272.9,529.3 L273.4,533.5 L273.8,537.7 L274.2,541.9 L274.6,546.1 L275.1,550.3 L275.5,554.4 L275.9,558.5 L276.3,562.6 L276.7,566.6 L277.2,570.6 L277.6,574.5 L278.0,578.3 L278.4,582.1 L278.9,585.7 L279.3,589.3 L279.7,592.8 L280.1,596.2 L280.6,599.5 L281.0,602.8 L281.4,606.0 L281.8,609.2 L282.2,612.3 L282.7,615.3 L283.1,618.3 L283.5,621.3 L283.9,624.2 L284.4,627.1 L284.8,630.0 L285.2,632.8 L285.6,635.6 L286.1,638.4 L286.5,641.1 L286.9,643.9 L287.3,646.6 L287.7,649.3 L288.2,651.9 L288.6,654.6 L289.0,657.2 L289.4,659.7 L289.9,662.3 L290.3,664.8 L290.7,667.2 L291.1,669.7 L291.6,672.1 L292.0,674.5 L292.4,676.8 L292.8,679.1 L293.2,681.3 L293.7,683.6 L294.1,685.7 L294.5,687.9 L294.9,690.0 L295.4,692.0 L295.8,694.0 L296.2,696.0 L296.6,697.9 L297.1,699.8 L297.5,701.6 L297.9,703.4 L298.3,705.1 L298.7,706.8 L299.2,708.4 L299.6,710.0 L300.0,711.6 L300.4,713.1 L300.9,714.5 L301.3,715.9 L301.7,717.3 L302.1,718.6 L302.6,719.8 L303.0,721.0 L303.4,722.2 L303.8,723.3 L304.2,724.3 L304.7,725.3 L305.1,726.2 L305.5,727.1 L305.9,727.9 L306.4,728.7 L306.8,729.4 L307.2,730.1 L307.6,730.7 L308.1,731.3 L308.5,731.9 L308.9,732.3 L309.3,732.8 L309.7,733.2 L310.2,733.5 L310.6,733.8 L311.0,734.1 L311.4,734.3 L311.9,734.5 L312.3,734.7 L312.7,734.8 L313.1,734.8 L313.5,734.9 L314.0,734.8 L314.4,734.8 L314.8,734.7 L315.2,734.6 L315.7,734.4 L316.1,734.2 L316.5,734.0 L316.9,733.7 L317.4,733.5 L317.8,733.1 L318.2,732.8 L318.6,732.4 L319.0,732.0 L319.5,731.5 L319.9,731.1 L320.3,730.6 L320.7,730.0 L321.2,729.5 L321.6,728.9 L322.0,728.3 L322.4,727.7 L322.9,727.1 L323.3,726.4 L323.7,725.7 L324.1,725.0 L324.5,724.2 L325.0,723.5 L325.4,722.7 L325.8,721.9 L326.2,721.1 L326.7,720.3 L327.1,719.5 L327.5,718.6 L327.9,717.7 L328.4,716.9 L328.8,716.0 L329.2,715.0 L329.6,714.1 L330.0,713.2 L330.5,712.2 L330.9,711.3 L331.3,710.3 L331.7,709.3 L332.2,708.3 L332.6,707.3 L333.0,706.3 L333.4,705.3 L333.9,704.2 L334.3,703.2 L334.7,702.1 L335.1,701.0 L335.5,699.9 L336.0,698.8 L336.4,697.7 L336.8,696.6 L337.2,695.5 L337.7,694.4 L338.1,693.2 L338.5,692.1 L338.9,690.9 L339.4,689.8 L339.8,688.6 L340.2,687.4 L340.6,686.2 L341.0,685.0 L341.5,683.8 L341.9,682.6 L342.3,681.4 L342.7,680.1 L343.2,678.9 L343.6,677.7 L344.0,676.5 L344.4,675.2 L344.9,674.0 L345.3,672.8 L345.7,671.6 L346.1,670.3 L346.5,669.1 L347.0,667.9 L347.4,666.7 L347.8,665.5 L348.2,664.3 L348.7,663.1 L349.1,661.9 L349.5,660.8 L349.9,659.6 L350.4,658.5 L350.8,657.3 L351.2,656.2 L351.6,655.1 L352.0,654.0 L352.5,652.9 L352.9,651.9 L353.3,650.8 L353.7,649.8 L354.2,648.7 L354.6,647.7 L355.0,646.7 L355.4,645.8 L355.8,644.8 L356.3,643.9 L356.7,642.9 L357.1,642.0 L357.5,641.1 L358.0,640.2 L358.4,639.3 L358.8,638.5 L359.2,637.6 L359.7,636.8 L360.1,636.0 L360.5,635.2 L360.9,634.4 L361.3,633.6 L361.8,632.9 L362.2,632.1 L362.6,631.4 L363.0,630.7 L363.5,630.0 L363.9,629.4 L364.3,628.7 L364.7,628.0 L365.2,627.4 L365.6,626.8 L366.0,626.2 L366.4,625.6 L366.8,625.0 L367.3,624.5 L367.7,623.9 L368.1,623.4 L368.5,622.9 L369.0,622.4 L369.4,621.9 L369.8,621.4 L370.2,621.0 L370.7,620.5 L371.1,620.1 L371.5,619.6 L371.9,619.2 L372.3,618.8 L372.8,618.4 L373.2,618.1 L373.6,617.7 L374.0,617.4 L374.5,617.0 L374.9,616.7 L375.3,616.4 L375.7,616.1 L376.2,615.8 L376.6,615.5 L377.0,615.2 L377.4,615.0 L377.8,614.7 L378.3,614.5 L378.7,614.3 L379.1,614.1 L379.5,613.9 L380.0,613.7 L380.4,613.5 L380.8,613.3 L381.2,613.2 L381.7,613.0 L382.1,612.9 L382.5,612.8 L382.9,612.7 L383.3,612.6 L383.8,612.5 L384.2,612.4 L384.6,612.3 L385.0,612.2 L385.5,612.2 L385.9,612.2 L386.3,612.1 L386.7,612.1 L387.2,612.1 L387.6,612.1 L388.0,612.1 L388.4,612.1 L388.8,612.1 L389.3,612.2 L389.7,612.2 L390.1,612.2 L390.5,612.3 L391.0,612.4 L391.4,612.4 L391.8,612.5 L392.2,612.6 L392.6,612.7 L393.1,612.7 L393.5,612.8 L393.9,612.9 L394.3,613.1 L394.8,613.2 L395.2,613.3 L395.6,613.4 L396.0,613.5 L396.5,613.7 L396.9,613.8 L397.3,613.9 L397.7,614.1 L398.1,614.2 L398.6,614.4 L399.0,614.5 L399.4,614.7 L399.8,614.8 L400.3,615.0 L400.7,615.2 L401.1,615.3 L401.5,615.5 L402.0,615.7 L402.4,615.8 L402.8,616.0 L403.2,616.2 L403.6,616.4 L404.1,616.5 L404.5,616.7 L404.9,616.9 L405.3,617.1 L405.8,617.3 L406.2,617.5 L406.6,617.7 L407.0,617.8 L407.5,618.0 L407.9,618.2 L408.3,618.4 L408.7,618.6 L409.1,618.8 L409.6,619.0 L410.0,619.2 L410.4,619.4 L410.8,619.6 L411.3,619.8 L411.7,620.0 L412.1,620.2 L412.5,620.4 L413.0,620.6 L413.4,620.8 L413.8,621.0 L414.2,621.2 L414.6,621.3 L415.1,621.5 L415.5,621.7 L415.9,621.9 L416.3,622.1 L416.8,622.3 L417.2,622.5 L417.6,622.7 L418.0,622.9 L418.5,623.0 L418.9,623.2 L419.3,623.4 L419.7,623.6 L420.1,623.8 L420.6,623.9 L421.0,624.1 L421.4,624.3 L421.8,624.5 L422.3,624.6 L422.7,624.8 L423.1,624.9 L423.5,625.1 L424.0,625.3 L424.4,625.4 L424.8,625.6 L425.2,625.7 L425.6,625.9 L426.1,626.0 L426.5,626.1 L426.9,626.3 L427.3,626.4 L427.8,626.5 L428.2,626.7 L428.6,626.8 L429.0,626.9 L429.5,627.1 L429.9,627.2 L430.3,627.3 L430.7,627.4 L431.1,627.5 L431.6,627.7 L432.0,627.8 L432.4,627.9 L432.8,628.0 L433.3,628.1 L433.7,628.2 L434.1,628.3 L434.5,628.4 L434.9,628.6 L435.4,628.7 L435.8,628.8 L436.2,628.9 L436.6,629.0 L437.1,629.1 L437.5,629.2 L437.9,629.3 L438.3,629.5 L438.8,629.6 L439.2,629.7 L439.6,629.8 L440.0,629.9 L440.4,630.0 L440.9,630.2 L441.3,630.3 L441.7,630.4 L442.1,630.5 L442.6,630.7 L443.0,630.8 L443.4,630.9 L443.8,631.1 L444.3,631.2 L444.7,631.3 L445.1,631.5 L445.5,631.6 L445.9,631.7 L446.4,631.9 L446.8,632.0 L447.2,632.2 L447.6,632.3 L448.1,632.4 L448.5,632.6 L448.9,632.7 L449.3,632.9 L449.8,633.0 L450.2,633.2 L450.6,633.3 L451.0,633.4 L451.4,633.6 L451.9,633.7 L452.3,633.9 L452.7,634.0 L453.1,634.1 L453.6,634.3 L454.0,634.4 L454.4,634.5 L454.8,634.7 L455.3,634.8 L455.7,634.9 L456.1,635.1 L456.5,635.2 L456.9,635.3 L457.4,635.4 L457.8,635.6 L458.2,635.7 L458.6,635.8 L459.1,635.9 L459.5,636.0 L459.9,636.1 L460.3,636.2 L460.8,636.3 L461.2,636.4 L461.6,636.5 L462.0,636.6 L462.4,636.7 L462.9,636.8 L463.3,636.8 L463.7,636.9 L464.1,637.0 L464.6,637.1 L465.0,637.1 L465.4,637.2 L465.8,637.3 L466.3,637.3 L466.7,637.4 L467.1,637.4 L467.5,637.5 L467.9,637.5 L468.4,637.6 L468.8,637.6 L469.2,637.6 L469.6,637.7 L470.1,637.7 L470.5,637.7 L470.9,637.8 L471.3,637.8 L471.8,637.8 L472.2,637.9 L472.6,637.9 L473.0,637.9 L473.4,637.9 L473.9,637.9 L474.3,637.9 L474.7,637.9 L475.1,637.9 L475.6,637.9 L476.0,638.0 L476.4,638.0 L476.8,638.0 L477.2,638.0 L477.7,637.9 L478.1,637.9 L478.5,637.9 L478.9,637.9 L479.4,637.9 L479.8,637.9 L480.2,637.9 L480.6,637.9 L481.1,637.9 L481.5,637.8 L481.9,637.8 L482.3,637.8 L482.7,637.8 L483.2,637.8 L483.6,637.7 L484.0,637.7 L484.4,637.7 L484.9,637.7 L485.3,637.6 L485.7,637.6 L486.1,637.6 L486.6,637.5 L487.0,637.5 L487.4,637.5 L487.8,637.4 L488.2,637.4 L488.7,637.4 L489.1,637.3 L489.5,637.3 L489.9,637.3 L490.4,637.2 L490.8,637.2 L491.2,637.2 L491.6,637.1 L492.1,637.1 L492.5,637.1 L492.9,637.0 L493.3,637.0 L493.7,636.9 L494.2,636.9 L494.6,636.9 L495.0,636.8 L495.4,636.8 L495.9,636.7 L496.3,636.7 L496.7,636.7 L497.1,636.6 L497.6,636.6 L498.0,636.5 L498.4,636.5 L498.8,636.4 L499.2,636.4 L499.7,636.4 L500.1,636.3 L500.5,636.3 L500.9,636.2 L501.4,636.2 L501.8,636.1 L502.2,636.1 L502.6,636.1 L503.1,636.0 L503.5,636.0 L503.9,635.9 L504.3,635.9 L504.7,635.8 L505.2,635.8 L505.6,635.8 L506.0,635.7 L506.4,635.7 L506.9,635.6 L507.3,635.6 L507.7,635.5 L508.1,635.5 L508.6,635.5 L509.0,635.4 L509.4,635.4 L509.8,635.3 L510.2,635.3 L510.7,635.3 L511.1,635.2 L511.5,635.2 L511.9,635.1 L512.4,635.1 L512.8,635.1 L513.2,635.0 L513.6,635.0 L514.1,634.9 L514.5,634.9 L514.9,634.9 L515.3,634.8 L515.7,634.8 L516.2,634.8 L516.6,634.7 L517.0,634.7 L517.4,634.6 L517.9,634.6 L518.3,634.6 L518.7,634.5 L519.1,634.5 L519.5,634.5 L520.0,634.5 L520.4,634.4 L520.8,634.4 L521.2,634.4 L521.7,634.3 L522.1,634.3 L522.5,634.3 L522.9,634.3 L523.4,634.2 L523.8,634.2 L524.2,634.2 L524.6,634.2 L525.0,634.1 L525.5,634.1 L525.9,634.1 L526.3,634.1 L526.7,634.0 L527.2,634.0 L527.6,634.0 L528.0,634.0 L528.4,634.0 L528.9,633.9 L529.3,633.9 L529.7,633.9 L530.1,633.9 L530.5,633.9 L531.0,633.9 L531.4,633.8 L531.8,633.8 L532.2,633.8 L532.7,633.8 L533.1,633.8 L533.5,633.8 L533.9,633.7 L534.4,633.7 L534.8,633.7 L535.2,633.7 L535.6,633.7 L536.0,633.7 L536.5,633.6 L536.9,633.6 L537.3,633.6 L537.7,633.6 L538.2,633.6 L538.6,633.6 L539.0,633.6 L539.4,633.5 L539.9,633.5 L540.3,633.5 L540.7,633.5 L1429.0,633.5" fill="none" stroke="#000000" stroke-width="9" stroke-dasharray="32 7 16.5 7" stroke-linejoin="round" clip-path="url(#cm)"/>
<path d="M160.0,331.5 L160.4,340.2 L160.8,348.9 L161.3,357.5 L161.7,366.1 L162.1,374.5 L162.5,382.9 L163.0,391.1 L163.4,399.1 L163.8,406.8 L164.2,414.2 L164.7,421.2 L165.1,428.0 L165.5,434.5 L165.9,440.8 L166.3,447.1 L166.8,453.4 L167.2,459.6 L167.6,465.7 L168.0,471.7 L168.5,477.6 L168.9,483.2 L169.3,488.7 L169.7,493.9 L170.2,499.0 L170.6,503.7 L171.0,508.3 L171.4,512.5 L171.8,516.5 L172.3,520.3 L172.7,523.8 L173.1,527.2 L173.5,530.3 L174.0,533.3 L174.4,536.1 L174.8,538.8 L175.2,541.3 L175.7,543.7 L176.1,545.9 L176.5,548.1 L176.9,550.1 L177.3,552.1 L177.8,554.0 L178.2,555.7 L178.6,557.4 L179.0,559.0 L179.5,560.6 L179.9,562.1 L180.3,563.6 L180.7,565.0 L181.2,566.4 L181.6,567.7 L182.0,569.1 L182.4,570.4 L182.8,571.7 L183.3,572.9 L183.7,574.1 L184.1,575.3 L184.5,576.5 L185.0,577.7 L185.4,578.8 L185.8,579.8 L186.2,580.9 L186.6,581.9 L187.1,582.9 L187.5,583.9 L187.9,584.8 L188.3,585.7 L188.8,586.6 L189.2,587.4 L189.6,588.2 L190.0,588.9 L190.5,589.7 L190.9,590.4 L191.3,591.1 L191.7,591.7 L192.1,592.4 L192.6,593.0 L193.0,593.6 L193.4,594.1 L193.8,594.7 L194.3,595.2 L194.7,595.7 L195.1,596.2 L195.5,596.7 L196.0,597.2 L196.4,597.6 L196.8,598.1 L197.2,598.5 L197.6,598.9 L198.1,599.4 L198.5,599.8 L198.9,600.2 L199.3,600.6 L199.8,601.0 L200.2,601.4 L200.6,601.9 L201.0,602.3 L201.5,602.7 L201.9,603.2 L202.3,603.6 L202.7,604.1 L203.1,604.6 L203.6,605.1 L204.0,605.6 L204.4,606.2 L204.8,606.8 L205.3,607.4 L205.7,608.0 L206.1,608.7 L206.5,609.3 L207.0,610.1 L207.4,610.8 L207.8,611.6 L208.2,612.4 L208.6,613.3 L209.1,614.2 L209.5,615.2 L209.9,616.2 L210.3,617.2 L210.8,618.3 L211.2,619.4 L211.6,620.5 L212.0,621.7 L212.5,623.0 L212.9,624.2 L213.3,625.5 L213.7,626.8 L214.1,628.2 L214.6,629.6 L215.0,631.0 L215.4,632.4 L215.8,633.9 L216.3,635.4 L216.7,636.9 L217.1,638.5 L217.5,640.1 L218.0,641.7 L218.4,643.3 L218.8,644.9 L219.2,646.6 L219.6,648.3 L220.1,650.0 L220.5,651.7 L220.9,653.5 L221.3,655.2 L221.8,657.0 L222.2,658.9 L222.6,660.8 L223.0,662.7 L223.4,664.6 L223.9,666.6 L224.3,668.6 L224.7,670.6 L225.1,672.7 L225.6,674.8 L226.0,676.8 L226.4,678.9 L226.8,681.0 L227.3,683.1 L227.7,685.2 L228.1,687.3 L228.5,689.3 L228.9,691.3 L229.4,693.2 L229.8,695.2 L230.2,697.1 L230.6,698.9 L231.1,700.8 L231.5,702.7 L231.9,704.5 L232.3,706.4 L232.8,708.2 L233.2,710.0 L233.6,711.9 L234.0,713.7 L234.4,715.5 L234.9,717.4 L235.3,719.2 L235.7,721.0 L236.1,722.8 L236.6,724.5 L237.0,726.3 L237.4,728.0 L237.8,729.7 L238.3,731.4 L238.7,733.0 L239.1,734.6 L239.5,736.2 L239.9,737.7 L240.4,739.2 L240.8,740.6 L241.2,742.0 L241.6,743.4 L242.1,744.7 L242.5,746.0 L242.9,747.3 L243.3,748.5 L243.8,749.7 L244.2,750.8 L244.6,751.9 L245.0,753.0 L245.4,754.0 L245.9,755.0 L246.3,755.9 L246.7,756.8 L247.1,757.7 L247.6,758.5 L248.0,759.3 L248.4,760.0 L248.8,760.6 L249.3,761.2 L249.7,761.8 L250.1,762.3 L250.5,762.8 L250.9,763.2 L251.4,763.5 L251.8,763.9 L252.2,764.1 L252.6,764.4 L253.1,764.5 L253.5,764.7 L253.9,764.8 L254.3,764.9 L254.8,764.9 L255.2,764.9 L255.6,764.8 L256.0,764.8 L256.4,764.7 L256.9,764.5 L257.3,764.4 L257.7,764.2 L258.1,763.9 L258.6,763.7 L259.0,763.3 L259.4,763.0 L259.8,762.6 L260.3,762.2 L260.7,761.7 L261.1,761.2 L261.5,760.6 L261.9,760.0 L262.4,759.3 L262.8,758.6 L263.2,757.9 L263.6,757.1 L264.1,756.3 L264.5,755.4 L264.9,754.6 L265.3,753.6 L265.8,752.7 L266.2,751.7 L266.6,750.8 L267.0,749.8 L267.4,748.8 L267.9,747.7 L268.3,746.7 L268.7,745.7 L269.1,744.6 L269.6,743.5 L270.0,742.4 L270.4,741.2 L270.8,740.0 L271.2,738.8 L271.7,737.5 L272.1,736.2 L272.5,734.8 L272.9,733.3 L273.4,731.8 L273.8,730.2 L274.2,728.6 L274.6,726.8 L275.1,725.1 L275.5,723.3 L275.9,721.4 L276.3,719.6 L276.7,717.7 L277.2,715.8 L277.6,713.8 L278.0,711.9 L278.4,710.0 L278.9,708.1 L279.3,706.2 L279.7,704.3 L280.1,702.4 L280.6,700.6 L281.0,698.7 L281.4,696.8 L281.8,694.9 L282.2,693.0 L282.7,691.1 L283.1,689.2 L283.5,687.3 L283.9,685.4 L284.4,683.5 L284.8,681.6 L285.2,679.7 L285.6,677.8 L286.1,675.9 L286.5,674.0 L286.9,672.1 L287.3,670.3 L287.7,668.4 L288.2,666.6 L288.6,664.8 L289.0,663.1 L289.4,661.3 L289.9,659.6 L290.3,657.8 L290.7,656.1 L291.1,654.3 L291.6,652.6 L292.0,650.8 L292.4,649.0 L292.8,647.2 L293.2,645.3 L293.7,643.5 L294.1,641.6 L294.5,639.6 L294.9,637.7 L295.4,635.8 L295.8,633.9 L296.2,632.0 L296.6,630.2 L297.1,628.5 L297.5,626.8 L297.9,625.2 L298.3,623.7 L298.7,622.3 L299.2,620.9 L299.6,619.6 L300.0,618.3 L300.4,617.1 L300.9,616.0 L301.3,614.8 L301.7,613.6 L302.1,612.5 L302.6,611.3 L303.0,610.1 L303.4,608.9 L303.8,607.7 L304.2,606.4 L304.7,605.1 L305.1,603.8 L305.5,602.5 L305.9,601.1 L306.4,599.8 L306.8,598.5 L307.2,597.2 L307.6,596.0 L308.1,594.8 L308.5,593.6 L308.9,592.6 L309.3,591.5 L309.7,590.6 L310.2,589.7 L310.6,588.9 L311.0,588.1 L311.4,587.4 L311.9,586.7 L312.3,586.1 L312.7,585.4 L313.1,584.8 L313.5,584.2 L314.0,583.6 L314.4,583.1 L314.8,582.5 L315.2,581.9 L315.7,581.3 L316.1,580.7 L316.5,580.0 L316.9,579.4 L317.4,578.8 L317.8,578.2 L318.2,577.6 L318.6,577.0 L319.0,576.5 L319.5,576.0 L319.9,575.5 L320.3,575.0 L320.7,574.6 L321.2,574.2 L321.6,573.8 L322.0,573.5 L322.4,573.3 L322.9,573.1 L323.3,572.9 L323.7,572.7 L324.1,572.6 L324.5,572.5 L325.0,572.4 L325.4,572.4 L325.8,572.3 L326.2,572.3 L326.7,572.3 L327.1,572.3 L327.5,572.3 L327.9,572.3 L328.4,572.4 L328.8,572.4 L329.2,572.4 L329.6,572.5 L330.0,572.5 L330.5,572.6 L330.9,572.7 L331.3,572.8 L331.7,572.8 L332.2,572.9 L332.6,573.1 L333.0,573.2 L333.4,573.3 L333.9,573.4 L334.3,573.6 L334.7,573.7 L335.1,573.9 L335.5,574.1 L336.0,574.4 L336.4,574.6 L336.8,574.9 L337.2,575.2 L337.7,575.6 L338.1,576.0 L338.5,576.4 L338.9,576.9 L339.4,577.5 L339.8,578.1 L340.2,578.7 L340.6,579.4 L341.0,580.2 L341.5,581.0 L341.9,581.8 L342.3,582.7 L342.7,583.5 L343.2,584.4 L343.6,585.3 L344.0,586.3 L344.4,587.2 L344.9,588.1 L345.3,589.0 L345.7,589.9 L346.1,590.7 L346.5,591.5 L347.0,592.4 L347.4,593.1 L347.8,593.9 L348.2,594.7 L348.7,595.4 L349.1,596.2 L349.5,596.9 L349.9,597.7 L350.4,598.4 L350.8,599.2 L351.2,599.9 L351.6,600.7 L352.0,601.5 L352.5,602.3 L352.9,603.0 L353.3,603.8 L353.7,604.6 L354.2,605.4 L354.6,606.1 L355.0,606.9 L355.4,607.6 L355.8,608.3 L356.3,609.0 L356.7,609.7 L357.1,610.4 L357.5,611.0 L358.0,611.7 L358.4,612.3 L358.8,613.0 L359.2,613.6 L359.7,614.2 L360.1,614.9 L360.5,615.5 L360.9,616.1 L361.3,616.7 L361.8,617.3 L362.2,617.9 L362.6,618.5 L363.0,619.1 L363.5,619.7 L363.9,620.3 L364.3,620.9 L364.7,621.5 L365.2,622.1 L365.6,622.7 L366.0,623.3 L366.4,623.9 L366.8,624.5 L367.3,625.1 L367.7,625.7 L368.1,626.3 L368.5,626.9 L369.0,627.5 L369.4,628.1 L369.8,628.7 L370.2,629.3 L370.7,629.9 L371.1,630.5 L371.5,631.0 L371.9,631.6 L372.3,632.2 L372.8,632.8 L373.2,633.4 L373.6,634.0 L374.0,634.5 L374.5,635.1 L374.9,635.7 L375.3,636.3 L375.7,636.8 L376.2,637.4 L376.6,637.9 L377.0,638.4 L377.4,639.0 L377.8,639.5 L378.3,640.0 L378.7,640.5 L379.1,641.0 L379.5,641.5 L380.0,641.9 L380.4,642.4 L380.8,642.8 L381.2,643.3 L381.7,643.7 L382.1,644.1 L382.5,644.5 L382.9,644.8 L383.3,645.2 L383.8,645.5 L384.2,645.8 L384.6,646.1 L385.0,646.4 L385.5,646.7 L385.9,647.0 L386.3,647.2 L386.7,647.5 L387.2,647.7 L387.6,647.9 L388.0,648.1 L388.4,648.3 L388.8,648.5 L389.3,648.7 L389.7,648.8 L390.1,649.0 L390.5,649.1 L391.0,649.3 L391.4,649.4 L391.8,649.5 L392.2,649.7 L392.6,649.8 L393.1,649.9 L393.5,650.0 L393.9,650.1 L394.3,650.2 L394.8,650.3 L395.2,650.4 L395.6,650.4 L396.0,650.5 L396.5,650.6 L396.9,650.7 L397.3,650.7 L397.7,650.8 L398.1,650.9 L398.6,651.0 L399.0,651.0 L399.4,651.1 L399.8,651.2 L400.3,651.2 L400.7,651.3 L401.1,651.3 L401.5,651.3 L402.0,651.4 L402.4,651.4 L402.8,651.4 L403.2,651.4 L403.6,651.4 L404.1,651.4 L404.5,651.3 L404.9,651.3 L405.3,651.3 L405.8,651.2 L406.2,651.1 L406.6,651.1 L407.0,651.0 L407.5,650.9 L407.9,650.7 L408.3,650.6 L408.7,650.5 L409.1,650.4 L409.6,650.2 L410.0,650.1 L410.4,649.9 L410.8,649.7 L411.3,649.5 L411.7,649.4 L412.1,649.2 L412.5,649.0 L413.0,648.8 L413.4,648.6 L413.8,648.4 L414.2,648.2 L414.6,648.0 L415.1,647.8 L415.5,647.5 L415.9,647.3 L416.3,647.1 L416.8,646.9 L417.2,646.7 L417.6,646.4 L418.0,646.2 L418.5,646.0 L418.9,645.8 L419.3,645.5 L419.7,645.3 L420.1,645.1 L420.6,644.8 L421.0,644.6 L421.4,644.4 L421.8,644.1 L422.3,643.9 L422.7,643.7 L423.1,643.4 L423.5,643.2 L424.0,643.0 L424.4,642.7 L424.8,642.5 L425.2,642.3 L425.6,642.0 L426.1,641.8 L426.5,641.6 L426.9,641.3 L427.3,641.1 L427.8,640.8 L428.2,640.6 L428.6,640.4 L429.0,640.1 L429.5,639.9 L429.9,639.7 L430.3,639.4 L430.7,639.2 L431.1,639.0 L431.6,638.8 L432.0,638.5 L432.4,638.3 L432.8,638.1 L433.3,637.9 L433.7,637.6 L434.1,637.4 L434.5,637.2 L434.9,637.0 L435.4,636.8 L435.8,636.6 L436.2,636.4 L436.6,636.2 L437.1,636.0 L437.5,635.8 L437.9,635.6 L438.3,635.4 L438.8,635.2 L439.2,635.0 L439.6,634.8 L440.0,634.7 L440.4,634.5 L440.9,634.3 L441.3,634.1 L441.7,634.0 L442.1,633.8 L442.6,633.7 L443.0,633.5 L443.4,633.4 L443.8,633.2 L444.3,633.1 L444.7,633.0 L445.1,632.8 L445.5,632.7 L445.9,632.6 L446.4,632.5 L446.8,632.4 L447.2,632.2 L447.6,632.1 L448.1,632.0 L448.5,632.0 L448.9,631.9 L449.3,631.8 L449.8,631.7 L450.2,631.6 L450.6,631.6 L451.0,631.5 L451.4,631.4 L451.9,631.4 L452.3,631.3 L452.7,631.3 L453.1,631.2 L453.6,631.2 L454.0,631.2 L454.4,631.2 L454.8,631.1 L455.3,631.1 L455.7,631.1 L456.1,631.1 L456.5,631.1 L456.9,631.1 L457.4,631.1 L457.8,631.1 L458.2,631.1 L458.6,631.1 L459.1,631.1 L459.5,631.1 L459.9,631.1 L460.3,631.1 L460.8,631.1 L461.2,631.2 L461.6,631.2 L462.0,631.2 L462.4,631.2 L462.9,631.3 L463.3,631.3 L463.7,631.3 L464.1,631.3 L464.6,631.4 L465.0,631.4 L465.4,631.4 L465.8,631.5 L466.3,631.5 L466.7,631.5 L467.1,631.6 L467.5,631.6 L467.9,631.6 L468.4,631.7 L468.8,631.7 L469.2,631.7 L469.6,631.7 L470.1,631.8 L470.5,631.8 L470.9,631.8 L471.3,631.9 L471.8,631.9 L472.2,631.9 L472.6,632.0 L473.0,632.0 L473.4,632.0 L473.9,632.1 L474.3,632.1 L474.7,632.1 L475.1,632.2 L475.6,632.2 L476.0,632.2 L476.4,632.2 L476.8,632.3 L477.2,632.3 L477.7,632.3 L478.1,632.4 L478.5,632.4 L478.9,632.4 L479.4,632.5 L479.8,632.5 L480.2,632.5 L480.6,632.5 L481.1,632.6 L481.5,632.6 L481.9,632.6 L482.3,632.7 L482.7,632.7 L483.2,632.7 L483.6,632.7 L484.0,632.8 L484.4,632.8 L484.9,632.8 L485.3,632.8 L485.7,632.9 L486.1,632.9 L486.6,632.9 L487.0,632.9 L487.4,633.0 L487.8,633.0 L488.2,633.0 L488.7,633.0 L489.1,633.1 L489.5,633.1 L489.9,633.1 L490.4,633.1 L490.8,633.2 L491.2,633.2 L491.6,633.2 L492.1,633.2 L492.5,633.2 L492.9,633.3 L493.3,633.3 L493.7,633.3 L494.2,633.3 L494.6,633.3 L495.0,633.4 L495.4,633.4 L495.9,633.4 L496.3,633.4 L496.7,633.4 L497.1,633.5 L497.6,633.5 L498.0,633.5 L498.4,633.5 L498.8,633.5 L499.2,633.5 L499.7,633.5 L500.1,633.6 L500.5,633.6 L500.9,633.6 L501.4,633.6 L501.8,633.6 L502.2,633.6 L502.6,633.6 L503.1,633.6 L503.5,633.6 L503.9,633.7 L504.3,633.7 L504.7,633.7 L505.2,633.7 L505.6,633.7 L506.0,633.7 L506.4,633.7 L506.9,633.7 L507.3,633.7 L507.7,633.7 L508.1,633.7 L508.6,633.7 L509.0,633.7 L509.4,633.8 L509.8,633.8 L510.2,633.8 L510.7,633.8 L511.1,633.8 L511.5,633.8 L511.9,633.8 L512.4,633.8 L512.8,633.8 L513.2,633.8 L513.6,633.8 L514.1,633.8 L514.5,633.8 L514.9,633.8 L515.3,633.8 L515.7,633.8 L516.2,633.8 L516.6,633.8 L517.0,633.8 L517.4,633.8 L517.9,633.8 L518.3,633.8 L518.7,633.8 L519.1,633.8 L519.5,633.8 L520.0,633.8 L520.4,633.8 L520.8,633.8 L521.2,633.8 L521.7,633.8 L522.1,633.8 L522.5,633.8 L522.9,633.8 L523.4,633.8 L523.8,633.8 L524.2,633.7 L524.6,633.7 L525.0,633.7 L525.5,633.7 L525.9,633.7 L526.3,633.7 L526.7,633.7 L527.2,633.7 L527.6,633.7 L528.0,633.7 L528.4,633.7 L528.9,633.7 L529.3,633.7 L529.7,633.7 L530.1,633.7 L530.5,633.7 L531.0,633.7 L531.4,633.7 L531.8,633.7 L532.2,633.6 L532.7,633.6 L533.1,633.6 L533.5,633.6 L533.9,633.6 L534.4,633.6 L534.8,633.6 L535.2,633.6 L535.6,633.6 L536.0,633.6 L536.5,633.6 L536.9,633.6 L537.3,633.6 L537.7,633.6 L538.2,633.5 L538.6,633.5 L539.0,633.5 L539.4,633.5 L539.9,633.5 L540.3,633.5 L540.7,633.5 L1429.0,633.5" fill="none" stroke="#ff00ff" stroke-width="9" stroke-dasharray="9 6.6" stroke-linejoin="round" clip-path="url(#cm)"/>
<path d="M160.0,627.6 L160.4,625.0 L160.8,622.5 L161.3,620.0 L161.7,617.5 L162.1,615.0 L162.5,612.6 L163.0,610.2 L163.4,607.8 L163.8,605.4 L164.2,603.1 L164.7,600.9 L165.1,598.7 L165.5,596.6 L165.9,594.5 L166.3,592.5 L166.8,590.6 L167.2,588.8 L167.6,587.0 L168.0,585.4 L168.5,583.8 L168.9,582.2 L169.3,580.8 L169.7,579.4 L170.2,578.1 L170.6,576.9 L171.0,575.7 L171.4,574.6 L171.8,573.6 L172.3,572.7 L172.7,571.8 L173.1,571.0 L173.5,570.2 L174.0,569.5 L174.4,568.9 L174.8,568.4 L175.2,567.9 L175.7,567.4 L176.1,567.1 L176.5,566.8 L176.9,566.5 L177.3,566.3 L177.8,566.2 L178.2,566.1 L178.6,566.1 L179.0,566.2 L179.5,566.2 L179.9,566.4 L180.3,566.5 L180.7,566.8 L181.2,567.0 L181.6,567.3 L182.0,567.7 L182.4,568.0 L182.8,568.4 L183.3,568.9 L183.7,569.3 L184.1,569.8 L184.5,570.3 L185.0,570.9 L185.4,571.4 L185.8,572.0 L186.2,572.6 L186.6,573.2 L187.1,573.8 L187.5,574.4 L187.9,575.0 L188.3,575.7 L188.8,576.3 L189.2,577.0 L189.6,577.6 L190.0,578.2 L190.5,578.9 L190.9,579.5 L191.3,580.1 L191.7,580.7 L192.1,581.3 L192.6,581.9 L193.0,582.6 L193.4,583.2 L193.8,583.8 L194.3,584.4 L194.7,585.0 L195.1,585.6 L195.5,586.2 L196.0,586.8 L196.4,587.4 L196.8,588.0 L197.2,588.6 L197.6,589.2 L198.1,589.8 L198.5,590.5 L198.9,591.1 L199.3,591.7 L199.8,592.3 L200.2,593.0 L200.6,593.6 L201.0,594.3 L201.5,594.9 L201.9,595.6 L202.3,596.3 L202.7,596.9 L203.1,597.6 L203.6,598.3 L204.0,599.0 L204.4,599.7 L204.8,600.5 L205.3,601.2 L205.7,601.9 L206.1,602.7 L206.5,603.4 L207.0,604.2 L207.4,605.0 L207.8,605.8 L208.2,606.5 L208.6,607.3 L209.1,608.1 L209.5,608.9 L209.9,609.7 L210.3,610.6 L210.8,611.4 L211.2,612.2 L211.6,613.0 L212.0,613.9 L212.5,614.7 L212.9,615.5 L213.3,616.4 L213.7,617.2 L214.1,618.1 L214.6,618.9 L215.0,619.8 L215.4,620.6 L215.8,621.5 L216.3,622.3 L216.7,623.2 L217.1,624.1 L217.5,624.9 L218.0,625.8 L218.4,626.7 L218.8,627.5 L219.2,628.4 L219.6,629.3 L220.1,630.1 L220.5,631.0 L220.9,631.9 L221.3,632.8 L221.8,633.6 L222.2,634.5 L222.6,635.4 L223.0,636.3 L223.4,637.2 L223.9,638.1 L224.3,639.0 L224.7,639.9 L225.1,640.8 L225.6,641.7 L226.0,642.6 L226.4,643.5 L226.8,644.4 L227.3,645.4 L227.7,646.3 L228.1,647.2 L228.5,648.2 L228.9,649.1 L229.4,650.1 L229.8,651.0 L230.2,652.0 L230.6,653.0 L231.1,654.0 L231.5,654.9 L231.9,655.9 L232.3,656.9 L232.8,657.9 L233.2,658.9 L233.6,659.9 L234.0,660.9 L234.4,661.9 L234.9,662.9 L235.3,664.0 L235.7,665.0 L236.1,666.0 L236.6,667.0 L237.0,668.0 L237.4,669.1 L237.8,670.1 L238.3,671.1 L238.7,672.1 L239.1,673.2 L239.5,674.2 L239.9,675.2 L240.4,676.3 L240.8,677.3 L241.2,678.3 L241.6,679.3 L242.1,680.3 L242.5,681.4 L242.9,682.4 L243.3,683.4 L243.8,684.4 L244.2,685.4 L244.6,686.4 L245.0,687.4 L245.4,688.4 L245.9,689.3 L246.3,690.3 L246.7,691.3 L247.1,692.2 L247.6,693.1 L248.0,694.1 L248.4,695.0 L248.8,695.9 L249.3,696.7 L249.7,697.6 L250.1,698.5 L250.5,699.3 L250.9,700.1 L251.4,700.9 L251.8,701.7 L252.2,702.4 L252.6,703.2 L253.1,703.9 L253.5,704.6 L253.9,705.3 L254.3,705.9 L254.8,706.5 L255.2,707.1 L255.6,707.7 L256.0,708.3 L256.4,708.8 L256.9,709.3 L257.3,709.7 L257.7,710.2 L258.1,710.6 L258.6,711.0 L259.0,711.4 L259.4,711.8 L259.8,712.1 L260.3,712.4 L260.7,712.7 L261.1,712.9 L261.5,713.2 L261.9,713.4 L262.4,713.6 L262.8,713.8 L263.2,713.9 L263.6,714.1 L264.1,714.2 L264.5,714.3 L264.9,714.3 L265.3,714.4 L265.8,714.4 L266.2,714.4 L266.6,714.4 L267.0,714.4 L267.4,714.4 L267.9,714.3 L268.3,714.2 L268.7,714.1 L269.1,714.0 L269.6,713.9 L270.0,713.7 L270.4,713.5 L270.8,713.3 L271.2,713.1 L271.7,712.8 L272.1,712.5 L272.5,712.2 L272.9,711.9 L273.4,711.6 L273.8,711.2 L274.2,710.8 L274.6,710.4 L275.1,709.9 L275.5,709.5 L275.9,709.0 L276.3,708.4 L276.7,707.9 L277.2,707.3 L277.6,706.7 L278.0,706.1 L278.4,705.4 L278.9,704.7 L279.3,704.0 L279.7,703.3 L280.1,702.5 L280.6,701.7 L281.0,700.9 L281.4,700.1 L281.8,699.2 L282.2,698.3 L282.7,697.4 L283.1,696.5 L283.5,695.5 L283.9,694.6 L284.4,693.6 L284.8,692.6 L285.2,691.6 L285.6,690.6 L286.1,689.6 L286.5,688.6 L286.9,687.5 L287.3,686.5 L287.7,685.4 L288.2,684.4 L288.6,683.3 L289.0,682.3 L289.4,681.2 L289.9,680.1 L290.3,679.1 L290.7,678.0 L291.1,676.9 L291.6,675.9 L292.0,674.8 L292.4,673.8 L292.8,672.7 L293.2,671.7 L293.7,670.6 L294.1,669.6 L294.5,668.5 L294.9,667.4 L295.4,666.4 L295.8,665.3 L296.2,664.2 L296.6,663.1 L297.1,662.1 L297.5,661.0 L297.9,659.9 L298.3,658.7 L298.7,657.6 L299.2,656.5 L299.6,655.3 L300.0,654.2 L300.4,653.0 L300.9,651.8 L301.3,650.6 L301.7,649.4 L302.1,648.2 L302.6,647.0 L303.0,645.8 L303.4,644.6 L303.8,643.4 L304.2,642.2 L304.7,641.0 L305.1,639.8 L305.5,638.6 L305.9,637.4 L306.4,636.2 L306.8,635.0 L307.2,633.8 L307.6,632.6 L308.1,631.4 L308.5,630.2 L308.9,629.0 L309.3,627.9 L309.7,626.7 L310.2,625.6 L310.6,624.5 L311.0,623.4 L311.4,622.3 L311.9,621.2 L312.3,620.1 L312.7,619.0 L313.1,618.0 L313.5,616.9 L314.0,615.9 L314.4,614.9 L314.8,613.9 L315.2,612.9 L315.7,611.9 L316.1,611.0 L316.5,610.0 L316.9,609.1 L317.4,608.2 L317.8,607.3 L318.2,606.4 L318.6,605.6 L319.0,604.7 L319.5,603.9 L319.9,603.0 L320.3,602.2 L320.7,601.5 L321.2,600.7 L321.6,599.9 L322.0,599.2 L322.4,598.5 L322.9,597.8 L323.3,597.1 L323.7,596.4 L324.1,595.8 L324.5,595.2 L325.0,594.6 L325.4,594.0 L325.8,593.4 L326.2,592.8 L326.7,592.3 L327.1,591.8 L327.5,591.3 L327.9,590.8 L328.4,590.3 L328.8,589.9 L329.2,589.4 L329.6,589.0 L330.0,588.6 L330.5,588.3 L330.9,587.9 L331.3,587.6 L331.7,587.2 L332.2,586.9 L332.6,586.7 L333.0,586.4 L333.4,586.2 L333.9,585.9 L334.3,585.7 L334.7,585.5 L335.1,585.4 L335.5,585.2 L336.0,585.1 L336.4,585.0 L336.8,584.9 L337.2,584.8 L337.7,584.8 L338.1,584.8 L338.5,584.7 L338.9,584.7 L339.4,584.8 L339.8,584.8 L340.2,584.9 L340.6,585.0 L341.0,585.1 L341.5,585.2 L341.9,585.3 L342.3,585.5 L342.7,585.6 L343.2,585.8 L343.6,586.0 L344.0,586.2 L344.4,586.4 L344.9,586.7 L345.3,586.9 L345.7,587.1 L346.1,587.4 L346.5,587.7 L347.0,588.0 L347.4,588.3 L347.8,588.5 L348.2,588.9 L348.7,589.2 L349.1,589.5 L349.5,589.8 L349.9,590.1 L350.4,590.5 L350.8,590.8 L351.2,591.2 L351.6,591.5 L352.0,591.9 L352.5,592.2 L352.9,592.6 L353.3,593.0 L353.7,593.4 L354.2,593.8 L354.6,594.2 L355.0,594.6 L355.4,595.0 L355.8,595.4 L356.3,595.8 L356.7,596.3 L357.1,596.7 L357.5,597.1 L358.0,597.6 L358.4,598.0 L358.8,598.5 L359.2,599.0 L359.7,599.4 L360.1,599.9 L360.5,600.4 L360.9,600.9 L361.3,601.3 L361.8,601.8 L362.2,602.3 L362.6,602.8 L363.0,603.3 L363.5,603.8 L363.9,604.3 L364.3,604.8 L364.7,605.3 L365.2,605.7 L365.6,606.2 L366.0,606.7 L366.4,607.1 L366.8,607.6 L367.3,608.1 L367.7,608.5 L368.1,608.9 L368.5,609.4 L369.0,609.8 L369.4,610.2 L369.8,610.6 L370.2,611.0 L370.7,611.4 L371.1,611.8 L371.5,612.2 L371.9,612.6 L372.3,613.0 L372.8,613.4 L373.2,613.8 L373.6,614.2 L374.0,614.6 L374.5,615.0 L374.9,615.4 L375.3,615.8 L375.7,616.3 L376.2,616.7 L376.6,617.2 L377.0,617.7 L377.4,618.1 L377.8,618.6 L378.3,619.1 L378.7,619.6 L379.1,620.2 L379.5,620.7 L380.0,621.2 L380.4,621.8 L380.8,622.3 L381.2,622.8 L381.7,623.4 L382.1,623.9 L382.5,624.4 L382.9,625.0 L383.3,625.5 L383.8,626.1 L384.2,626.6 L384.6,627.1 L385.0,627.6 L385.5,628.2 L385.9,628.7 L386.3,629.2 L386.7,629.7 L387.2,630.2 L387.6,630.7 L388.0,631.2 L388.4,631.7 L388.8,632.1 L389.3,632.6 L389.7,633.1 L390.1,633.5 L390.5,634.0 L391.0,634.4 L391.4,634.9 L391.8,635.3 L392.2,635.8 L392.6,636.2 L393.1,636.6 L393.5,637.0 L393.9,637.4 L394.3,637.8 L394.8,638.2 L395.2,638.6 L395.6,639.0 L396.0,639.4 L396.5,639.8 L396.9,640.1 L397.3,640.5 L397.7,640.8 L398.1,641.2 L398.6,641.5 L399.0,641.8 L399.4,642.2 L399.8,642.5 L400.3,642.8 L400.7,643.1 L401.1,643.4 L401.5,643.7 L402.0,643.9 L402.4,644.2 L402.8,644.5 L403.2,644.7 L403.6,645.0 L404.1,645.2 L404.5,645.5 L404.9,645.7 L405.3,645.9 L405.8,646.1 L406.2,646.3 L406.6,646.5 L407.0,646.7 L407.5,646.9 L407.9,647.1 L408.3,647.2 L408.7,647.4 L409.1,647.6 L409.6,647.7 L410.0,647.9 L410.4,648.0 L410.8,648.1 L411.3,648.2 L411.7,648.3 L412.1,648.4 L412.5,648.5 L413.0,648.6 L413.4,648.7 L413.8,648.7 L414.2,648.8 L414.6,648.8 L415.1,648.9 L415.5,648.9 L415.9,648.9 L416.3,648.9 L416.8,648.9 L417.2,648.9 L417.6,648.9 L418.0,648.8 L418.5,648.8 L418.9,648.7 L419.3,648.6 L419.7,648.6 L420.1,648.5 L420.6,648.4 L421.0,648.3 L421.4,648.2 L421.8,648.1 L422.3,648.0 L422.7,647.9 L423.1,647.8 L423.5,647.6 L424.0,647.5 L424.4,647.4 L424.8,647.3 L425.2,647.1 L425.6,647.0 L426.1,646.9 L426.5,646.8 L426.9,646.6 L427.3,646.5 L427.8,646.4 L428.2,646.3 L428.6,646.1 L429.0,646.0 L429.5,645.9 L429.9,645.8 L430.3,645.6 L430.7,645.5 L431.1,645.4 L431.6,645.3 L432.0,645.1 L432.4,645.0 L432.8,644.9 L433.3,644.7 L433.7,644.6 L434.1,644.5 L434.5,644.3 L434.9,644.2 L435.4,644.1 L435.8,643.9 L436.2,643.8 L436.6,643.7 L437.1,643.5 L437.5,643.4 L437.9,643.2 L438.3,643.1 L438.8,642.9 L439.2,642.8 L439.6,642.6 L440.0,642.5 L440.4,642.3 L440.9,642.1 L441.3,642.0 L441.7,641.8 L442.1,641.6 L442.6,641.5 L443.0,641.3 L443.4,641.1 L443.8,640.9 L444.3,640.8 L444.7,640.6 L445.1,640.4 L445.5,640.2 L445.9,640.0 L446.4,639.9 L446.8,639.7 L447.2,639.5 L447.6,639.3 L448.1,639.1 L448.5,638.9 L448.9,638.7 L449.3,638.6 L449.8,638.4 L450.2,638.2 L450.6,638.0 L451.0,637.8 L451.4,637.6 L451.9,637.4 L452.3,637.3 L452.7,637.1 L453.1,636.9 L453.6,636.7 L454.0,636.6 L454.4,636.4 L454.8,636.2 L455.3,636.1 L455.7,635.9 L456.1,635.7 L456.5,635.6 L456.9,635.4 L457.4,635.3 L457.8,635.1 L458.2,635.0 L458.6,634.9 L459.1,634.7 L459.5,634.6 L459.9,634.5 L460.3,634.3 L460.8,634.2 L461.2,634.1 L461.6,634.0 L462.0,633.9 L462.4,633.7 L462.9,633.6 L463.3,633.5 L463.7,633.4 L464.1,633.3 L464.6,633.2 L465.0,633.1 L465.4,633.0 L465.8,632.9 L466.3,632.8 L466.7,632.7 L467.1,632.6 L467.5,632.5 L467.9,632.5 L468.4,632.4 L468.8,632.3 L469.2,632.2 L469.6,632.1 L470.1,632.1 L470.5,632.0 L470.9,631.9 L471.3,631.8 L471.8,631.7 L472.2,631.7 L472.6,631.6 L473.0,631.5 L473.4,631.5 L473.9,631.4 L474.3,631.3 L474.7,631.2 L475.1,631.2 L475.6,631.1 L476.0,631.0 L476.4,631.0 L476.8,630.9 L477.2,630.9 L477.7,630.8 L478.1,630.7 L478.5,630.7 L478.9,630.6 L479.4,630.6 L479.8,630.5 L480.2,630.5 L480.6,630.4 L481.1,630.4 L481.5,630.3 L481.9,630.3 L482.3,630.2 L482.7,630.2 L483.2,630.2 L483.6,630.1 L484.0,630.1 L484.4,630.1 L484.9,630.1 L485.3,630.0 L485.7,630.0 L486.1,630.0 L486.6,630.0 L487.0,630.0 L487.4,630.0 L487.8,629.9 L488.2,629.9 L488.7,629.9 L489.1,629.9 L489.5,630.0 L489.9,630.0 L490.4,630.0 L490.8,630.0 L491.2,630.0 L491.6,630.0 L492.1,630.1 L492.5,630.1 L492.9,630.1 L493.3,630.1 L493.7,630.2 L494.2,630.2 L494.6,630.2 L495.0,630.3 L495.4,630.3 L495.9,630.4 L496.3,630.4 L496.7,630.5 L497.1,630.5 L497.6,630.5 L498.0,630.6 L498.4,630.6 L498.8,630.7 L499.2,630.7 L499.7,630.8 L500.1,630.9 L500.5,630.9 L500.9,631.0 L501.4,631.0 L501.8,631.1 L502.2,631.1 L502.6,631.2 L503.1,631.2 L503.5,631.3 L503.9,631.3 L504.3,631.4 L504.7,631.4 L505.2,631.5 L505.6,631.6 L506.0,631.6 L506.4,631.7 L506.9,631.7 L507.3,631.7 L507.7,631.8 L508.1,631.8 L508.6,631.9 L509.0,631.9 L509.4,632.0 L509.8,632.0 L510.2,632.1 L510.7,632.1 L511.1,632.1 L511.5,632.2 L511.9,632.2 L512.4,632.3 L512.8,632.3 L513.2,632.3 L513.6,632.4 L514.1,632.4 L514.5,632.4 L514.9,632.5 L515.3,632.5 L515.7,632.5 L516.2,632.6 L516.6,632.6 L517.0,632.6 L517.4,632.7 L517.9,632.7 L518.3,632.7 L518.7,632.7 L519.1,632.8 L519.5,632.8 L520.0,632.8 L520.4,632.8 L520.8,632.9 L521.2,632.9 L521.7,632.9 L522.1,632.9 L522.5,633.0 L522.9,633.0 L523.4,633.0 L523.8,633.0 L524.2,633.0 L524.6,633.1 L525.0,633.1 L525.5,633.1 L525.9,633.1 L526.3,633.1 L526.7,633.1 L527.2,633.2 L527.6,633.2 L528.0,633.2 L528.4,633.2 L528.9,633.2 L529.3,633.2 L529.7,633.2 L530.1,633.3 L530.5,633.3 L531.0,633.3 L531.4,633.3 L531.8,633.3 L532.2,633.3 L532.7,633.3 L533.1,633.3 L533.5,633.3 L533.9,633.4 L534.4,633.4 L534.8,633.4 L535.2,633.4 L535.6,633.4 L536.0,633.4 L536.5,633.4 L536.9,633.4 L537.3,633.4 L537.7,633.4 L538.2,633.4 L538.6,633.5 L539.0,633.5 L539.4,633.5 L539.9,633.5 L540.3,633.5 L540.7,633.5 L1429.0,633.5" fill="none" stroke="#00ff00" stroke-width="9" stroke-linejoin="round" clip-path="url(#cm)"/>
<g font-family="Liberation Serif" font-size="58" fill="#262626" stroke="#262626" stroke-width="0.5"><text x="160.00" y="1098.6" text-anchor="middle">0</text><text x="371.50" y="1098.6" text-anchor="middle">20</text><text x="583.00" y="1098.6" text-anchor="middle">40</text><text x="794.50" y="1098.6" text-anchor="middle">60</text><text x="1006.00" y="1098.6" text-anchor="middle">80</text><text x="1217.50" y="1098.6" text-anchor="middle">100</text><text x="1429.00" y="1098.6" text-anchor="middle">120</text><text x="143" y="1049.00" text-anchor="end">&#8722;2</text><text x="143" y="851.60" text-anchor="end">&#8722;1</text><text x="143" y="654.20" text-anchor="end">0</text><text x="143" y="456.80" text-anchor="end">1</text><text x="143" y="259.40" text-anchor="end">2</text><text x="143" y="62.00" text-anchor="end">3</text></g>
<g font-family="Liberation Serif" font-size="60" fill="#262626" stroke="#262626" stroke-width="0.5"><text x="691.91" y="1160" textLength="123.6" lengthAdjust="spacingAndGlyphs">Time</text><text x="836.44" y="1160" textLength="58.91" lengthAdjust="spacingAndGlyphs">(s)</text></g>
<g transform="translate(63,0) rotate(-90)" font-family="Liberation Serif" font-size="60" fill="#262626" stroke="#262626" stroke-width="0.5"><text x="-869" y="0" textLength="193.45" lengthAdjust="spacingAndGlyphs">Velocity</text><text x="-657.99" y="0" textLength="148.93" lengthAdjust="spacingAndGlyphs">Errors</text><text x="-488.54" y="0" textLength="22.48" lengthAdjust="spacingAndGlyphs" font-style="italic">e</text><text x="-464" y="0" textLength="42.87" lengthAdjust="spacingAndGlyphs" font-size="42" dy="8.5"><tspan font-style="italic">v</tspan>,<tspan font-style="italic">i</tspan></text><text x="-414.6" y="0" textLength="56.75" lengthAdjust="spacingAndGlyphs">(<tspan font-style="italic">t</tspan>)</text><text x="-334.37" y="0" textLength="131.12" lengthAdjust="spacingAndGlyphs">(m/s)</text></g>
<rect x="454" y="168" width="913" height="379" fill="#fff"/>
<rect x="454" y="168" width="913" height="379" fill="none" stroke="#111111" stroke-width="2"/>
<path d="M454.00,547 V537 M454.00,168 V178 M718.00,547 V537 M718.00,168 V178 M982.00,547 V537 M982.00,168 V178 M1246.00,547 V537 M1246.00,168 V178 M454,483.00 H464 M1367,483.00 H1357 M454,393.75 H464 M1367,393.75 H1357 M454,304.50 H464 M1367,304.50 H1357 M454,215.25 H464 M1367,215.25 H1357" stroke="#111111" stroke-width="2" fill="none"/>
<path d="M454.0,215.9 L455.1,219.1 L456.1,222.5 L457.2,225.9 L458.2,229.5 L459.3,233.4 L460.3,237.5 L461.4,242.0 L462.4,247.0 L463.5,252.3 L464.6,257.8 L465.6,263.3 L466.7,268.7 L467.7,273.9 L468.8,278.6 L469.8,282.8 L470.9,286.5 L472.0,289.8 L473.0,292.9 L474.1,295.7 L475.1,298.4 L476.2,301.1 L477.2,303.8 L478.3,306.6 L479.3,309.5 L480.4,312.6 L481.5,315.7 L482.5,318.9 L483.6,322.1 L484.6,325.2 L485.7,328.4 L486.7,331.4 L487.8,334.3 L488.8,337.1 L489.9,339.6 L491.0,342.1 L492.0,344.5 L493.1,346.8 L494.1,349.1 L495.2,351.4 L496.2,353.8 L497.3,356.3 L498.4,358.9 L499.4,361.7 L500.5,364.6 L501.5,367.7 L502.6,370.9 L503.6,374.0 L504.7,377.2 L505.7,380.3 L506.8,383.3 L507.9,386.2 L508.9,388.9 L510.0,391.4 L511.0,393.7 L512.1,395.7 L513.1,397.5 L514.2,399.1 L515.2,400.5 L516.3,401.9 L517.4,403.1 L518.4,404.4 L519.5,405.6 L520.5,406.9 L521.6,408.2 L522.6,409.6 L523.7,411.1 L524.8,412.5 L525.8,414.0 L526.9,415.4 L527.9,416.8 L529.0,418.2 L530.0,419.4 L531.1,420.7 L532.1,421.8 L533.2,422.9 L534.3,423.9 L535.3,424.8 L536.4,425.7 L537.4,426.5 L538.5,427.3 L539.5,428.0 L540.6,428.7 L541.6,429.4 L542.7,430.0 L543.8,430.6 L544.8,431.1 L545.9,431.6 L546.9,432.1 L548.0,432.6 L549.0,433.0 L550.1,433.5 L551.2,433.9 L552.2,434.2 L553.3,434.6 L554.3,434.9 L555.4,435.3 L556.4,435.6 L557.5,435.8 L558.5,436.1 L559.6,436.3 L560.7,436.6 L561.7,436.8 L562.8,437.0 L563.8,437.1 L564.9,437.3 L565.9,437.5 L567.0,437.6 L568.0,437.7 L569.1,437.8 L570.2,437.9 L571.2,438.0 L572.3,438.0 L573.3,438.1 L574.4,438.1 L575.4,438.1 L576.5,438.1 L577.6,438.1 L578.6,438.1 L579.7,438.1 L580.7,438.0 L581.8,438.0 L582.8,437.9 L583.9,437.8 L584.9,437.7 L586.0,437.6 L587.1,437.5 L588.1,437.3 L589.2,437.1 L590.2,437.0 L591.3,436.7 L592.3,436.5 L593.4,436.3 L594.4,436.0 L595.5,435.7 L596.6,435.4 L597.6,435.1 L598.7,434.8 L599.7,434.4 L600.8,434.1 L601.8,433.7 L602.9,433.3 L604.0,432.8 L605.0,432.4 L606.1,431.9 L607.1,431.5 L608.2,431.0 L609.2,430.5 L610.3,430.0 L611.3,429.5 L612.4,429.0 L613.5,428.5 L614.5,428.0 L615.6,427.5 L616.6,427.0 L617.7,426.5 L618.7,426.0 L619.8,425.5 L620.8,425.1 L621.9,424.6 L623.0,424.1 L624.0,423.7 L625.1,423.2 L626.1,422.7 L627.2,422.3 L628.2,421.8 L629.3,421.4 L630.4,420.9 L631.4,420.5 L632.5,420.0 L633.5,419.6 L634.6,419.1 L635.6,418.7 L636.7,418.2 L637.7,417.8 L638.8,417.3 L639.9,416.9 L640.9,416.4 L642.0,416.0 L643.0,415.5 L644.1,415.1 L645.1,414.6 L646.2,414.1 L647.2,413.7 L648.3,413.2 L649.4,412.7 L650.4,412.2 L651.5,411.7 L652.5,411.3 L653.6,410.8 L654.6,410.3 L655.7,409.8 L656.8,409.3 L657.8,408.9 L658.9,408.4 L659.9,407.9 L661.0,407.5 L662.0,407.0 L663.1,406.5 L664.1,406.1 L665.2,405.6 L666.3,405.2 L667.3,404.8 L668.4,404.3 L669.4,403.9 L670.5,403.5 L671.5,403.1 L672.6,402.7 L673.6,402.3 L674.7,402.0 L675.8,401.6 L676.8,401.2 L677.9,400.9 L678.9,400.6 L680.0,400.2 L681.0,399.9 L682.1,399.6 L683.2,399.3 L684.2,399.0 L685.3,398.7 L686.3,398.4 L687.4,398.2 L688.4,397.9 L689.5,397.6 L690.5,397.4 L691.6,397.1 L692.7,396.9 L693.7,396.6 L694.8,396.4 L695.8,396.2 L696.9,395.9 L697.9,395.7 L699.0,395.5 L700.0,395.3 L701.1,395.0 L702.2,394.8 L703.2,394.6 L704.3,394.4 L705.3,394.2 L706.4,394.0 L707.4,393.8 L708.5,393.6 L709.6,393.4 L710.6,393.1 L711.7,392.9 L712.7,392.8 L713.8,392.6 L714.8,392.4 L715.9,392.2 L716.9,392.0 L718.0,391.8 L719.1,391.6 L720.1,391.5 L721.2,391.3 L722.2,391.1 L723.3,391.0 L724.3,390.8 L725.4,390.7 L726.4,390.5 L727.5,390.4 L728.6,390.2 L729.6,390.1 L730.7,390.0 L731.7,389.9 L732.8,389.8 L733.8,389.7 L734.9,389.6 L736.0,389.5 L737.0,389.4 L738.1,389.3 L739.1,389.3 L740.2,389.2 L741.2,389.1 L742.3,389.1 L743.3,389.1 L744.4,389.0 L745.5,389.0 L746.5,389.0 L747.6,388.9 L748.6,388.9 L749.7,388.9 L750.7,388.9 L751.8,388.9 L752.8,388.9 L753.9,388.9 L755.0,388.9 L756.0,388.9 L757.1,388.9 L758.1,388.9 L759.2,388.9 L760.2,388.9 L761.3,389.0 L762.4,389.0 L763.4,389.0 L764.5,389.0 L765.5,389.0 L766.6,389.0 L767.6,389.1 L768.7,389.1 L769.7,389.1 L770.8,389.1 L771.9,389.1 L772.9,389.2 L774.0,389.2 L775.0,389.2 L776.1,389.2 L777.1,389.2 L778.2,389.2 L779.2,389.3 L780.3,389.3 L781.4,389.3 L782.4,389.3 L783.5,389.3 L784.5,389.4 L785.6,389.4 L786.6,389.4 L787.7,389.4 L788.8,389.4 L789.8,389.5 L790.9,389.5 L791.9,389.5 L793.0,389.5 L794.0,389.5 L795.1,389.6 L796.1,389.6 L797.2,389.6 L798.3,389.6 L799.3,389.7 L800.4,389.7 L801.4,389.7 L802.5,389.7 L803.5,389.7 L804.6,389.8 L805.6,389.8 L806.7,389.8 L807.8,389.8 L808.8,389.9 L809.9,389.9 L810.9,389.9 L812.0,389.9 L813.0,390.0 L814.1,390.0 L815.2,390.0 L816.2,390.1 L817.3,390.1 L818.3,390.1 L819.4,390.2 L820.4,390.2 L821.5,390.2 L822.5,390.3 L823.6,390.3 L824.7,390.3 L825.7,390.4 L826.8,390.4 L827.8,390.4 L828.9,390.5 L829.9,390.5 L831.0,390.6 L832.0,390.6 L833.1,390.6 L834.2,390.7 L835.2,390.7 L836.3,390.8 L837.3,390.8 L838.4,390.9 L839.4,390.9 L840.5,390.9 L841.6,391.0 L842.6,391.0 L843.7,391.1 L844.7,391.1 L845.8,391.2 L846.8,391.2 L847.9,391.3 L848.9,391.3 L850.0,391.3 L851.1,391.4 L852.1,391.4 L853.2,391.5 L854.2,391.5 L855.3,391.6 L856.3,391.6 L857.4,391.6 L858.4,391.7 L859.5,391.7 L860.6,391.8 L861.6,391.8 L862.7,391.8 L863.7,391.9 L864.8,391.9 L865.8,391.9 L866.9,392.0 L868.0,392.0 L869.0,392.0 L870.1,392.1 L871.1,392.1 L872.2,392.1 L873.2,392.2 L874.3,392.2 L875.3,392.2 L876.4,392.2 L877.5,392.3 L878.5,392.3 L879.6,392.3 L880.6,392.4 L881.7,392.4 L882.7,392.4 L883.8,392.4 L884.8,392.5 L885.9,392.5 L887.0,392.5 L888.0,392.5 L889.1,392.6 L890.1,392.6 L891.2,392.6 L892.2,392.6 L893.3,392.7 L894.4,392.7 L895.4,392.7 L896.5,392.7 L897.5,392.8 L898.6,392.8 L899.6,392.8 L900.7,392.8 L901.7,392.9 L902.8,392.9 L903.9,392.9 L904.9,392.9 L906.0,392.9 L907.0,393.0 L908.1,393.0 L909.1,393.0 L910.2,393.0 L911.2,393.1 L912.3,393.1 L913.4,393.1 L914.4,393.1 L915.5,393.1 L916.5,393.2 L917.6,393.2 L918.6,393.2 L919.7,393.2 L920.8,393.2 L921.8,393.2 L922.9,393.3 L923.9,393.3 L925.0,393.3 L926.0,393.3 L927.1,393.3 L928.1,393.3 L929.2,393.3 L930.3,393.3 L931.3,393.4 L932.4,393.4 L933.4,393.4 L934.5,393.4 L935.5,393.4 L936.6,393.4 L937.6,393.4 L938.7,393.4 L939.8,393.4 L940.8,393.4 L941.9,393.4 L942.9,393.5 L944.0,393.5 L945.0,393.5 L946.1,393.5 L947.2,393.5 L948.2,393.5 L949.3,393.5 L950.3,393.5 L951.4,393.5 L952.4,393.5 L953.5,393.5 L954.5,393.5 L955.6,393.5 L956.7,393.5 L957.7,393.5 L958.8,393.5 L959.8,393.5 L960.9,393.5 L961.9,393.5 L963.0,393.5 L964.0,393.5 L965.1,393.5 L966.2,393.5 L967.2,393.5 L968.3,393.5 L969.3,393.5 L970.4,393.5 L971.4,393.5 L972.5,393.5 L973.6,393.5 L974.6,393.5 L975.7,393.5 L976.7,393.5 L977.8,393.5 L978.8,393.5 L979.9,393.5 L980.9,393.5 L982.0,393.5 L983.1,393.5 L984.1,393.5 L985.2,393.5 L986.2,393.5 L987.3,393.5 L988.3,393.5 L989.4,393.5 L990.4,393.5 L991.5,393.5 L992.6,393.5 L993.6,393.5 L994.7,393.5 L995.7,393.5 L996.8,393.5 L997.8,393.5 L998.9,393.5 L1000.0,393.5 L1001.0,393.5 L1002.1,393.5 L1003.1,393.5 L1004.2,393.5 L1005.2,393.5 L1006.3,393.5 L1007.3,393.5 L1008.4,393.5 L1009.5,393.5 L1010.5,393.5 L1011.6,393.5 L1012.6,393.5 L1013.7,393.5 L1014.7,393.5 L1015.8,393.5 L1016.8,393.5 L1017.9,393.5 L1019.0,393.5 L1020.0,393.5 L1021.1,393.5 L1022.1,393.5 L1023.2,393.5 L1024.2,393.5 L1025.3,393.5 L1026.4,393.5 L1027.4,393.5 L1028.5,393.5 L1029.5,393.5 L1030.6,393.5 L1031.6,393.5 L1032.7,393.5 L1033.7,393.5 L1034.8,393.5 L1035.9,393.5 L1036.9,393.5 L1038.0,393.5 L1039.0,393.5 L1040.1,393.5 L1041.1,393.5 L1042.2,393.5 L1043.2,393.5 L1044.3,393.5 L1045.4,393.5 L1046.4,393.5 L1047.5,393.5 L1048.5,393.5 L1049.6,393.5 L1050.6,393.5 L1051.7,393.5 L1052.8,393.5 L1053.8,393.5 L1054.9,393.5 L1055.9,393.5 L1057.0,393.5 L1058.0,393.5 L1059.1,393.5 L1060.1,393.5 L1061.2,393.5 L1062.3,393.5 L1063.3,393.5 L1064.4,393.5 L1065.4,393.5 L1066.5,393.5 L1067.5,393.5 L1068.6,393.5 L1069.6,393.5 L1070.7,393.5 L1071.8,393.5 L1072.8,393.5 L1073.9,393.5 L1074.9,393.5 L1076.0,393.5 L1077.0,393.5 L1078.1,393.5 L1079.2,393.5 L1080.2,393.5 L1081.3,393.5 L1082.3,393.5 L1083.4,393.5 L1084.4,393.5 L1085.5,393.5 L1086.5,393.5 L1087.6,393.5 L1088.7,393.5 L1089.7,393.5 L1090.8,393.5 L1091.8,393.5 L1092.9,393.5 L1093.9,393.5 L1095.0,393.5 L1096.0,393.5 L1097.1,393.5 L1098.2,393.5 L1099.2,393.5 L1100.3,393.5 L1101.3,393.5 L1102.4,393.5 L1103.4,393.5 L1104.5,393.5 L1105.6,393.5 L1106.6,393.5 L1107.7,393.5 L1108.7,393.5 L1109.8,393.5 L1110.8,393.5 L1111.9,393.5 L1112.9,393.5 L1114.0,393.5 L1115.1,393.5 L1116.1,393.5 L1117.2,393.5 L1118.2,393.5 L1119.3,393.5 L1120.3,393.5 L1121.4,393.5 L1122.4,393.5 L1123.5,393.5 L1124.6,393.5 L1125.6,393.5 L1126.7,393.5 L1127.7,393.5 L1128.8,393.5 L1129.8,393.5 L1130.9,393.5 L1132.0,393.5 L1133.0,393.5 L1134.1,393.5 L1135.1,393.5 L1136.2,393.5 L1137.2,393.5 L1138.3,393.5 L1139.3,393.5 L1140.4,393.5 L1141.5,393.5 L1142.5,393.5 L1143.6,393.5 L1144.6,393.5 L1145.7,393.5 L1146.7,393.5 L1147.8,393.5 L1148.8,393.5 L1149.9,393.5 L1151.0,393.5 L1152.0,393.5 L1153.1,393.5 L1154.1,393.5 L1155.2,393.5 L1156.2,393.5 L1157.3,393.5 L1158.4,393.5 L1159.4,393.5 L1160.5,393.5 L1161.5,393.5 L1162.6,393.5 L1163.6,393.5 L1164.7,393.5 L1165.7,393.5 L1166.8,393.5 L1167.9,393.5 L1168.9,393.5 L1170.0,393.5 L1171.0,393.5 L1172.1,393.5 L1173.1,393.5 L1174.2,393.5 L1175.2,393.5 L1176.3,393.5 L1177.4,393.5 L1178.4,393.5 L1179.5,393.5 L1180.5,393.5 L1181.6,393.5 L1182.6,393.5 L1183.7,393.5 L1184.8,393.5 L1185.8,393.5 L1186.9,393.5 L1187.9,393.5 L1189.0,393.5 L1190.0,393.5 L1191.1,393.5 L1192.1,393.5 L1193.2,393.5 L1194.3,393.5 L1195.3,393.5 L1196.4,393.5 L1197.4,393.5 L1198.5,393.5 L1199.5,393.5 L1200.6,393.5 L1201.6,393.5 L1202.7,393.5 L1203.8,393.5 L1204.8,393.5 L1205.9,393.5 L1206.9,393.5 L1208.0,393.5 L1209.0,393.5 L1210.1,393.5 L1211.2,393.5 L1212.2,393.5 L1213.3,393.5 L1214.3,393.5 L1215.4,393.5 L1216.4,393.5 L1217.5,393.5 L1218.5,393.5 L1219.6,393.5 L1220.7,393.5 L1221.7,393.5 L1222.8,393.5 L1223.8,393.5 L1224.9,393.5 L1225.9,393.5 L1227.0,393.5 L1228.0,393.5 L1229.1,393.5 L1230.2,393.5 L1231.2,393.5 L1232.3,393.5 L1233.3,393.5 L1234.4,393.5 L1235.4,393.5 L1236.5,393.5 L1237.6,393.5 L1238.6,393.5 L1239.7,393.5 L1240.7,393.5 L1241.8,393.5 L1242.8,393.5 L1243.9,393.5 L1244.9,393.5 L1246.0,393.5 L1247.1,393.5 L1248.1,393.5 L1249.2,393.5 L1250.2,393.5 L1251.3,393.5 L1252.3,393.5 L1253.4,393.5 L1254.4,393.5 L1255.5,393.5 L1256.6,393.5 L1257.6,393.5 L1258.7,393.5 L1259.7,393.5 L1260.8,393.5 L1261.8,393.5 L1262.9,393.5 L1264.0,393.5 L1265.0,393.5 L1266.1,393.5 L1267.1,393.5 L1268.2,393.5 L1269.2,393.5 L1270.3,393.5 L1271.3,393.5 L1272.4,393.5 L1273.5,393.5 L1274.5,393.5 L1275.6,393.5 L1276.6,393.5 L1277.7,393.5 L1278.7,393.5 L1279.8,393.5 L1280.8,393.5 L1281.9,393.5 L1283.0,393.5 L1284.0,393.5 L1285.1,393.5 L1286.1,393.5 L1287.2,393.5 L1288.2,393.5 L1289.3,393.5 L1290.4,393.5 L1291.4,393.5 L1292.5,393.5 L1293.5,393.5 L1294.6,393.5 L1295.6,393.5 L1296.7,393.5 L1297.7,393.5 L1298.8,393.5 L1299.9,393.5 L1300.9,393.5 L1302.0,393.5 L1303.0,393.5 L1304.1,393.5 L1305.1,393.5 L1306.2,393.5 L1307.2,393.5 L1308.3,393.5 L1309.4,393.5 L1310.4,393.5 L1311.5,393.5 L1312.5,393.5 L1313.6,393.5 L1314.6,393.5 L1315.7,393.5 L1316.8,393.5 L1317.8,393.5 L1318.9,393.5 L1319.9,393.5 L1321.0,393.5 L1322.0,393.5 L1323.1,393.5 L1324.1,393.5 L1325.2,393.5 L1326.3,393.5 L1327.3,393.5 L1328.4,393.5 L1329.4,393.5 L1330.5,393.5 L1331.5,393.5 L1332.6,393.5 L1333.6,393.5 L1334.7,393.5 L1335.8,393.5 L1336.8,393.5 L1337.9,393.5 L1338.9,393.5 L1340.0,393.5 L1341.0,393.5 L1342.1,393.5 L1343.2,393.5 L1344.2,393.5 L1345.3,393.5 L1346.3,393.5 L1347.4,393.5 L1348.4,393.5 L1349.5,393.5 L1350.5,393.5 L1351.6,393.5 L1352.7,393.5 L1353.7,393.5 L1354.8,393.5 L1355.8,393.5 L1356.9,393.5 L1357.9,393.5 L1359.0,393.5 L1360.0,393.5 L1361.1,393.5 L1362.2,393.5 L1363.2,393.5 L1364.3,393.5 L1365.3,393.5 L1366.4,393.5" fill="none" stroke="#ff0000" stroke-width="9" stroke-dasharray="32 31" stroke-linejoin="round" clip-path="url(#ci)"/>
<path d="M454.0,215.0 L455.1,212.3 L456.1,209.5 L457.2,206.4 L458.2,203.1 L459.3,199.6 L460.3,196.1 L461.4,192.7 L462.4,189.5 L463.5,186.4 L464.6,183.6 L465.6,181.1 L466.7,178.9 L467.7,177.1 L468.8,175.7 L469.8,174.5 L470.9,173.7 L472.0,173.1 L473.0,172.8 L474.1,172.7 L475.1,172.9 L476.2,173.3 L477.2,173.8 L478.3,174.6 L479.3,175.6 L480.4,176.7 L481.5,178.0 L482.5,179.4 L483.6,181.0 L484.6,182.7 L485.7,184.5 L486.7,186.5 L487.8,188.5 L488.8,190.6 L489.9,192.7 L491.0,195.0 L492.0,197.3 L493.1,199.7 L494.1,202.1 L495.2,204.7 L496.2,207.3 L497.3,210.1 L498.4,213.0 L499.4,216.0 L500.5,219.0 L501.5,222.1 L502.6,225.3 L503.6,228.5 L504.7,231.6 L505.7,234.9 L506.8,238.3 L507.9,241.8 L508.9,245.4 L510.0,249.2 L511.0,253.1 L512.1,256.9 L513.1,260.5 L514.2,264.1 L515.2,267.6 L516.3,271.4 L517.4,275.3 L518.4,279.4 L519.5,283.7 L520.5,288.1 L521.6,292.6 L522.6,297.3 L523.7,302.0 L524.8,306.8 L525.8,311.7 L526.9,316.6 L527.9,321.6 L529.0,326.5 L530.0,331.5 L531.1,336.4 L532.1,341.3 L533.2,346.2 L534.3,351.0 L535.3,355.7 L536.4,360.4 L537.4,365.0 L538.5,369.6 L539.5,374.2 L540.6,378.7 L541.6,383.2 L542.7,387.6 L543.8,392.1 L544.8,396.5 L545.9,400.8 L546.9,405.2 L548.0,409.6 L549.0,413.9 L550.1,418.2 L551.2,422.4 L552.2,426.5 L553.3,430.6 L554.3,434.7 L555.4,438.6 L556.4,442.4 L557.5,446.2 L558.5,449.9 L559.6,453.5 L560.7,457.0 L561.7,460.4 L562.8,463.7 L563.8,466.9 L564.9,470.0 L565.9,473.0 L567.0,476.0 L568.0,478.8 L569.1,481.5 L570.2,484.2 L571.2,486.7 L572.3,489.2 L573.3,491.6 L574.4,493.9 L575.4,496.2 L576.5,498.3 L577.6,500.4 L578.6,502.4 L579.7,504.4 L580.7,506.3 L581.8,508.2 L582.8,510.0 L583.9,511.7 L584.9,513.4 L586.0,515.1 L587.1,516.7 L588.1,518.2 L589.2,519.7 L590.2,521.2 L591.3,522.6 L592.3,523.9 L593.4,525.2 L594.4,526.4 L595.5,527.6 L596.6,528.7 L597.6,529.7 L598.7,530.7 L599.7,531.6 L600.8,532.5 L601.8,533.3 L602.9,534.0 L604.0,534.7 L605.0,535.3 L606.1,535.9 L607.1,536.4 L608.2,536.8 L609.2,537.2 L610.3,537.6 L611.3,537.8 L612.4,538.0 L613.5,538.2 L614.5,538.2 L615.6,538.3 L616.6,538.2 L617.7,538.1 L618.7,538.0 L619.8,537.8 L620.8,537.5 L621.9,537.2 L623.0,536.9 L624.0,536.4 L625.1,536.0 L626.1,535.5 L627.2,534.9 L628.2,534.3 L629.3,533.6 L630.4,532.9 L631.4,532.2 L632.5,531.4 L633.5,530.6 L634.6,529.7 L635.6,528.8 L636.7,527.9 L637.7,526.9 L638.8,525.9 L639.9,524.8 L640.9,523.7 L642.0,522.6 L643.0,521.4 L644.1,520.2 L645.1,519.0 L646.2,517.8 L647.2,516.5 L648.3,515.2 L649.4,513.9 L650.4,512.5 L651.5,511.2 L652.5,509.8 L653.6,508.4 L654.6,507.0 L655.7,505.7 L656.8,504.2 L657.8,502.8 L658.9,501.4 L659.9,500.0 L661.0,498.5 L662.0,497.0 L663.1,495.5 L664.1,494.0 L665.2,492.5 L666.3,490.9 L667.3,489.4 L668.4,487.8 L669.4,486.1 L670.5,484.5 L671.5,482.8 L672.6,481.1 L673.6,479.4 L674.7,477.7 L675.8,475.9 L676.8,474.1 L677.9,472.3 L678.9,470.5 L680.0,468.8 L681.0,467.0 L682.1,465.2 L683.2,463.5 L684.2,461.8 L685.3,460.1 L686.3,458.4 L687.4,456.8 L688.4,455.2 L689.5,453.7 L690.5,452.1 L691.6,450.6 L692.7,449.1 L693.7,447.6 L694.8,446.1 L695.8,444.6 L696.9,443.1 L697.9,441.6 L699.0,440.1 L700.0,438.5 L701.1,436.9 L702.2,435.4 L703.2,433.8 L704.3,432.2 L705.3,430.6 L706.4,429.0 L707.4,427.4 L708.5,425.9 L709.6,424.3 L710.6,422.7 L711.7,421.2 L712.7,419.7 L713.8,418.2 L714.8,416.8 L715.9,415.4 L716.9,414.0 L718.0,412.6 L719.1,411.2 L720.1,409.9 L721.2,408.5 L722.2,407.2 L723.3,405.9 L724.3,404.7 L725.4,403.4 L726.4,402.2 L727.5,401.0 L728.6,399.8 L729.6,398.6 L730.7,397.5 L731.7,396.4 L732.8,395.3 L733.8,394.2 L734.9,393.2 L736.0,392.1 L737.0,391.1 L738.1,390.2 L739.1,389.2 L740.2,388.2 L741.2,387.3 L742.3,386.4 L743.3,385.5 L744.4,384.6 L745.5,383.8 L746.5,383.0 L747.6,382.2 L748.6,381.4 L749.7,380.6 L750.7,379.8 L751.8,379.1 L752.8,378.4 L753.9,377.7 L755.0,377.1 L756.0,376.5 L757.1,375.8 L758.1,375.2 L759.2,374.7 L760.2,374.1 L761.3,373.6 L762.4,373.0 L763.4,372.5 L764.5,372.0 L765.5,371.5 L766.6,371.1 L767.6,370.6 L768.7,370.2 L769.7,369.7 L770.8,369.3 L771.9,368.9 L772.9,368.5 L774.0,368.1 L775.0,367.7 L776.1,367.4 L777.1,367.0 L778.2,366.7 L779.2,366.4 L780.3,366.1 L781.4,365.8 L782.4,365.6 L783.5,365.3 L784.5,365.1 L785.6,364.9 L786.6,364.7 L787.7,364.5 L788.8,364.3 L789.8,364.2 L790.9,364.0 L791.9,363.9 L793.0,363.8 L794.0,363.7 L795.1,363.7 L796.1,363.6 L797.2,363.6 L798.3,363.6 L799.3,363.6 L800.4,363.6 L801.4,363.7 L802.5,363.7 L803.5,363.8 L804.6,363.9 L805.6,364.0 L806.7,364.1 L807.8,364.3 L808.8,364.4 L809.9,364.5 L810.9,364.7 L812.0,364.9 L813.0,365.1 L814.1,365.3 L815.2,365.5 L816.2,365.7 L817.3,365.9 L818.3,366.1 L819.4,366.3 L820.4,366.6 L821.5,366.8 L822.5,367.1 L823.6,367.3 L824.7,367.6 L825.7,367.8 L826.8,368.1 L827.8,368.4 L828.9,368.6 L829.9,368.9 L831.0,369.2 L832.0,369.5 L833.1,369.8 L834.2,370.1 L835.2,370.4 L836.3,370.7 L837.3,371.0 L838.4,371.3 L839.4,371.6 L840.5,371.9 L841.6,372.2 L842.6,372.6 L843.7,372.9 L844.7,373.2 L845.8,373.5 L846.8,373.9 L847.9,374.2 L848.9,374.5 L850.0,374.9 L851.1,375.2 L852.1,375.5 L853.2,375.9 L854.2,376.2 L855.3,376.5 L856.3,376.8 L857.4,377.2 L858.4,377.5 L859.5,377.8 L860.6,378.1 L861.6,378.4 L862.7,378.7 L863.7,379.1 L864.8,379.4 L865.8,379.7 L866.9,380.0 L868.0,380.2 L869.0,380.5 L870.1,380.8 L871.1,381.1 L872.2,381.3 L873.2,381.6 L874.3,381.9 L875.3,382.1 L876.4,382.3 L877.5,382.6 L878.5,382.8 L879.6,383.1 L880.6,383.3 L881.7,383.5 L882.7,383.7 L883.8,384.0 L884.8,384.2 L885.9,384.4 L887.0,384.6 L888.0,384.9 L889.1,385.1 L890.1,385.3 L891.2,385.5 L892.2,385.7 L893.3,386.0 L894.4,386.2 L895.4,386.4 L896.5,386.6 L897.5,386.9 L898.6,387.1 L899.6,387.3 L900.7,387.5 L901.7,387.7 L902.8,388.0 L903.9,388.2 L904.9,388.4 L906.0,388.6 L907.0,388.8 L908.1,389.0 L909.1,389.2 L910.2,389.4 L911.2,389.6 L912.3,389.8 L913.4,390.0 L914.4,390.1 L915.5,390.3 L916.5,390.5 L917.6,390.7 L918.6,390.8 L919.7,391.0 L920.8,391.2 L921.8,391.3 L922.9,391.5 L923.9,391.6 L925.0,391.8 L926.0,392.0 L927.1,392.1 L928.1,392.3 L929.2,392.4 L930.3,392.6 L931.3,392.7 L932.4,392.9 L933.4,393.0 L934.5,393.2 L935.5,393.3 L936.6,393.5 L937.6,393.6 L938.7,393.7 L939.8,393.9 L940.8,394.0 L941.9,394.2 L942.9,394.3 L944.0,394.4 L945.0,394.6 L946.1,394.7 L947.2,394.8 L948.2,394.9 L949.3,395.1 L950.3,395.2 L951.4,395.3 L952.4,395.4 L953.5,395.5 L954.5,395.6 L955.6,395.7 L956.7,395.8 L957.7,395.9 L958.8,396.0 L959.8,396.1 L960.9,396.2 L961.9,396.3 L963.0,396.3 L964.0,396.4 L965.1,396.5 L966.2,396.5 L967.2,396.6 L968.3,396.7 L969.3,396.7 L970.4,396.8 L971.4,396.8 L972.5,396.9 L973.6,396.9 L974.6,397.0 L975.7,397.0 L976.7,397.0 L977.8,397.1 L978.8,397.1 L979.9,397.1 L980.9,397.2 L982.0,397.2 L983.1,397.2 L984.1,397.2 L985.2,397.3 L986.2,397.3 L987.3,397.3 L988.3,397.3 L989.4,397.3 L990.4,397.3 L991.5,397.4 L992.6,397.4 L993.6,397.4 L994.7,397.4 L995.7,397.4 L996.8,397.4 L997.8,397.4 L998.9,397.4 L1000.0,397.4 L1001.0,397.4 L1002.1,397.4 L1003.1,397.4 L1004.2,397.4 L1005.2,397.4 L1006.3,397.4 L1007.3,397.3 L1008.4,397.3 L1009.5,397.3 L1010.5,397.3 L1011.6,397.3 L1012.6,397.3 L1013.7,397.3 L1014.7,397.2 L1015.8,397.2 L1016.8,397.2 L1017.9,397.2 L1019.0,397.2 L1020.0,397.1 L1021.1,397.1 L1022.1,397.1 L1023.2,397.1 L1024.2,397.0 L1025.3,397.0 L1026.4,397.0 L1027.4,396.9 L1028.5,396.9 L1029.5,396.9 L1030.6,396.9 L1031.6,396.8 L1032.7,396.8 L1033.7,396.7 L1034.8,396.7 L1035.9,396.7 L1036.9,396.6 L1038.0,396.6 L1039.0,396.6 L1040.1,396.5 L1041.1,396.5 L1042.2,396.4 L1043.2,396.4 L1044.3,396.4 L1045.4,396.3 L1046.4,396.3 L1047.5,396.2 L1048.5,396.2 L1049.6,396.2 L1050.6,396.1 L1051.7,396.1 L1052.8,396.0 L1053.8,396.0 L1054.9,396.0 L1055.9,395.9 L1057.0,395.9 L1058.0,395.8 L1059.1,395.8 L1060.1,395.7 L1061.2,395.7 L1062.3,395.7 L1063.3,395.6 L1064.4,395.6 L1065.4,395.5 L1066.5,395.5 L1067.5,395.4 L1068.6,395.4 L1069.6,395.4 L1070.7,395.3 L1071.8,395.3 L1072.8,395.2 L1073.9,395.2 L1074.9,395.2 L1076.0,395.1 L1077.0,395.1 L1078.1,395.0 L1079.2,395.0 L1080.2,394.9 L1081.3,394.9 L1082.3,394.9 L1083.4,394.8 L1084.4,394.8 L1085.5,394.8 L1086.5,394.7 L1087.6,394.7 L1088.7,394.6 L1089.7,394.6 L1090.8,394.6 L1091.8,394.5 L1092.9,394.5 L1093.9,394.4 L1095.0,394.4 L1096.0,394.4 L1097.1,394.3 L1098.2,394.3 L1099.2,394.3 L1100.3,394.2 L1101.3,394.2 L1102.4,394.2 L1103.4,394.1 L1104.5,394.1 L1105.6,394.1 L1106.6,394.0 L1107.7,394.0 L1108.7,394.0 L1109.8,393.9 L1110.8,393.9 L1111.9,393.9 L1112.9,393.8 L1114.0,393.8 L1115.1,393.8 L1116.1,393.8 L1117.2,393.7 L1118.2,393.7 L1119.3,393.7 L1120.3,393.6 L1121.4,393.6 L1122.4,393.6 L1123.5,393.6 L1124.6,393.5 L1125.6,393.5 L1126.7,393.5 L1127.7,393.5 L1128.8,393.4 L1129.8,393.4 L1130.9,393.4 L1132.0,393.4 L1133.0,393.4 L1134.1,393.3 L1135.1,393.3 L1136.2,393.3 L1137.2,393.3 L1138.3,393.3 L1139.3,393.2 L1140.4,393.2 L1141.5,393.2 L1142.5,393.2 L1143.6,393.2 L1144.6,393.1 L1145.7,393.1 L1146.7,393.1 L1147.8,393.1 L1148.8,393.1 L1149.9,393.1 L1151.0,393.1 L1152.0,393.0 L1153.1,393.0 L1154.1,393.0 L1155.2,393.0 L1156.2,393.0 L1157.3,393.0 L1158.4,393.0 L1159.4,393.0 L1160.5,393.0 L1161.5,392.9 L1162.6,392.9 L1163.6,392.9 L1164.7,392.9 L1165.7,392.9 L1166.8,392.9 L1167.9,392.9 L1168.9,392.9 L1170.0,392.9 L1171.0,392.9 L1172.1,392.9 L1173.1,392.9 L1174.2,392.9 L1175.2,392.9 L1176.3,392.9 L1177.4,392.9 L1178.4,392.9 L1179.5,392.9 L1180.5,392.9 L1181.6,392.9 L1182.6,392.9 L1183.7,392.8 L1184.8,392.8 L1185.8,392.8 L1186.9,392.8 L1187.9,392.8 L1189.0,392.8 L1190.0,392.9 L1191.1,392.9 L1192.1,392.9 L1193.2,392.9 L1194.3,392.9 L1195.3,392.9 L1196.4,392.9 L1197.4,392.9 L1198.5,392.9 L1199.5,392.9 L1200.6,392.9 L1201.6,392.9 L1202.7,392.9 L1203.8,392.9 L1204.8,392.9 L1205.9,392.9 L1206.9,392.9 L1208.0,392.9 L1209.0,392.9 L1210.1,392.9 L1211.2,392.9 L1212.2,392.9 L1213.3,392.9 L1214.3,392.9 L1215.4,392.9 L1216.4,392.9 L1217.5,393.0 L1218.5,393.0 L1219.6,393.0 L1220.7,393.0 L1221.7,393.0 L1222.8,393.0 L1223.8,393.0 L1224.9,393.0 L1225.9,393.0 L1227.0,393.0 L1228.0,393.0 L1229.1,393.0 L1230.2,393.0 L1231.2,393.0 L1232.3,393.0 L1233.3,393.1 L1234.4,393.1 L1235.4,393.1 L1236.5,393.1 L1237.6,393.1 L1238.6,393.1 L1239.7,393.1 L1240.7,393.1 L1241.8,393.1 L1242.8,393.1 L1243.9,393.1 L1244.9,393.1 L1246.0,393.1 L1247.1,393.2 L1248.1,393.2 L1249.2,393.2 L1250.2,393.2 L1251.3,393.2 L1252.3,393.2 L1253.4,393.2 L1254.4,393.2 L1255.5,393.2 L1256.6,393.2 L1257.6,393.2 L1258.7,393.2 L1259.7,393.3 L1260.8,393.3 L1261.8,393.3 L1262.9,393.3 L1264.0,393.3 L1265.0,393.3 L1266.1,393.3 L1267.1,393.3 L1268.2,393.3 L1269.2,393.3 L1270.3,393.3 L1271.3,393.3 L1272.4,393.3 L1273.5,393.4 L1274.5,393.4 L1275.6,393.4 L1276.6,393.4 L1277.7,393.4 L1278.7,393.4 L1279.8,393.4 L1280.8,393.4 L1281.9,393.4 L1283.0,393.4 L1284.0,393.4 L1285.1,393.4 L1286.1,393.4 L1287.2,393.4 L1288.2,393.4 L1289.3,393.5 L1290.4,393.5 L1291.4,393.5 L1292.5,393.5 L1293.5,393.5 L1294.6,393.5 L1295.6,393.5 L1296.7,393.5 L1297.7,393.5 L1298.8,393.5 L1299.9,393.5 L1300.9,393.5 L1302.0,393.5 L1303.0,393.5 L1304.1,393.5 L1305.1,393.5 L1306.2,393.5 L1307.2,393.5 L1308.3,393.5 L1309.4,393.5 L1310.4,393.5 L1311.5,393.5 L1312.5,393.6 L1313.6,393.6 L1314.6,393.6 L1315.7,393.6 L1316.8,393.6 L1317.8,393.6 L1318.9,393.6 L1319.9,393.6 L1321.0,393.6 L1322.0,393.6 L1323.1,393.6 L1324.1,393.6 L1325.2,393.6 L1326.3,393.6 L1327.3,393.6 L1328.4,393.6 L1329.4,393.6 L1330.5,393.6 L1331.5,393.6 L1332.6,393.6 L1333.6,393.6 L1334.7,393.6 L1335.8,393.6 L1336.8,393.6 L1337.9,393.6 L1338.9,393.6 L1340.0,393.6 L1341.0,393.6 L1342.1,393.6 L1343.2,393.6 L1344.2,393.6 L1345.3,393.6 L1346.3,393.6 L1347.4,393.6 L1348.4,393.6 L1349.5,393.6 L1350.5,393.6 L1351.6,393.6 L1352.7,393.6 L1353.7,393.6 L1354.8,393.6 L1355.8,393.6 L1356.9,393.6 L1357.9,393.6 L1359.0,393.6 L1360.0,393.6 L1361.1,393.6 L1362.2,393.6 L1363.2,393.6 L1364.3,393.6 L1365.3,393.6 L1366.4,393.6" fill="none" stroke="#0000ff" stroke-width="9" stroke-linejoin="round" clip-path="url(#ci)"/>
<path d="M454.0,325.5 L455.1,329.8 L456.1,334.2 L457.2,338.7 L458.2,343.2 L459.3,348.0 L460.3,353.0 L461.4,358.2 L462.4,363.6 L463.5,369.1 L464.6,374.8 L465.6,380.5 L466.7,386.1 L467.7,391.6 L468.8,397.0 L469.8,402.1 L470.9,406.9 L472.0,411.5 L473.0,416.0 L474.1,420.4 L475.1,425.0 L476.2,429.8 L477.2,435.0 L478.3,440.5 L479.3,446.2 L480.4,452.0 L481.5,457.6 L482.5,462.8 L483.6,467.5 L484.6,471.7 L485.7,475.4 L486.7,478.7 L487.8,481.7 L488.8,484.6 L489.9,487.2 L491.0,489.8 L492.0,492.4 L493.1,495.0 L494.1,497.8 L495.2,500.6 L496.2,503.6 L497.3,506.5 L498.4,509.4 L499.4,512.3 L500.5,515.2 L501.5,517.9 L502.6,520.5 L503.6,522.9 L504.7,525.2 L505.7,527.2 L506.8,529.1 L507.9,530.8 L508.9,532.3 L510.0,533.7 L511.0,534.9 L512.1,535.9 L513.1,536.9 L514.2,537.7 L515.2,538.4 L516.3,538.9 L517.4,539.4 L518.4,539.7 L519.5,540.0 L520.5,540.2 L521.6,540.3 L522.6,540.4 L523.7,540.3 L524.8,540.3 L525.8,540.1 L526.9,539.9 L527.9,539.6 L529.0,539.3 L530.0,538.9 L531.1,538.3 L532.1,537.7 L533.2,536.9 L534.3,536.1 L535.3,535.1 L536.4,534.0 L537.4,532.7 L538.5,531.3 L539.5,529.8 L540.6,528.1 L541.6,526.2 L542.7,524.2 L543.8,521.9 L544.8,519.5 L545.9,516.9 L546.9,514.1 L548.0,511.1 L549.0,508.0 L550.1,504.8 L551.2,501.5 L552.2,498.1 L553.3,494.7 L554.3,491.4 L555.4,488.0 L556.4,484.8 L557.5,481.5 L558.5,478.4 L559.6,475.2 L560.7,472.1 L561.7,468.9 L562.8,465.8 L563.8,462.6 L564.9,459.3 L565.9,456.0 L567.0,452.7 L568.0,449.2 L569.1,445.7 L570.2,442.2 L571.2,438.5 L572.3,434.9 L573.3,431.1 L574.4,427.4 L575.4,423.6 L576.5,419.7 L577.6,415.9 L578.6,412.2 L579.7,408.5 L580.7,404.9 L581.8,401.4 L582.8,398.0 L583.9,394.8 L584.9,391.8 L586.0,388.8 L587.1,385.9 L588.1,383.1 L589.2,380.3 L590.2,377.5 L591.3,374.7 L592.3,371.9 L593.4,369.0 L594.4,366.0 L595.5,362.9 L596.6,359.7 L597.6,356.5 L598.7,353.3 L599.7,350.1 L600.8,347.0 L601.8,343.9 L602.9,341.0 L604.0,338.1 L605.0,335.3 L606.1,332.6 L607.1,329.9 L608.2,327.3 L609.2,324.7 L610.3,322.2 L611.3,319.7 L612.4,317.3 L613.5,314.8 L614.5,312.4 L615.6,309.9 L616.6,307.5 L617.7,305.0 L618.7,302.6 L619.8,300.2 L620.8,297.8 L621.9,295.4 L623.0,293.1 L624.0,290.8 L625.1,288.6 L626.1,286.5 L627.2,284.4 L628.2,282.5 L629.3,280.6 L630.4,278.8 L631.4,277.2 L632.5,275.7 L633.5,274.2 L634.6,272.8 L635.6,271.6 L636.7,270.3 L637.7,269.2 L638.8,268.1 L639.9,267.1 L640.9,266.1 L642.0,265.2 L643.0,264.3 L644.1,263.5 L645.1,262.8 L646.2,262.1 L647.2,261.4 L648.3,260.8 L649.4,260.3 L650.4,259.8 L651.5,259.3 L652.5,258.9 L653.6,258.5 L654.6,258.2 L655.7,257.9 L656.8,257.6 L657.8,257.5 L658.9,257.3 L659.9,257.2 L661.0,257.2 L662.0,257.2 L663.1,257.3 L664.1,257.4 L665.2,257.6 L666.3,257.9 L667.3,258.2 L668.4,258.5 L669.4,259.0 L670.5,259.4 L671.5,259.9 L672.6,260.5 L673.6,261.1 L674.7,261.8 L675.8,262.5 L676.8,263.2 L677.9,264.0 L678.9,264.8 L680.0,265.7 L681.0,266.5 L682.1,267.5 L683.2,268.4 L684.2,269.4 L685.3,270.5 L686.3,271.5 L687.4,272.6 L688.4,273.8 L689.5,274.9 L690.5,276.1 L691.6,277.4 L692.7,278.6 L693.7,279.9 L694.8,281.3 L695.8,282.6 L696.9,284.0 L697.9,285.4 L699.0,286.9 L700.0,288.3 L701.1,289.8 L702.2,291.4 L703.2,292.9 L704.3,294.5 L705.3,296.1 L706.4,297.7 L707.4,299.3 L708.5,301.0 L709.6,302.6 L710.6,304.3 L711.7,306.0 L712.7,307.7 L713.8,309.4 L714.8,311.1 L715.9,312.8 L716.9,314.5 L718.0,316.2 L719.1,318.0 L720.1,319.7 L721.2,321.4 L722.2,323.1 L723.3,324.8 L724.3,326.6 L725.4,328.3 L726.4,330.1 L727.5,331.8 L728.6,333.6 L729.6,335.4 L730.7,337.2 L731.7,339.0 L732.8,340.8 L733.8,342.7 L734.9,344.5 L736.0,346.4 L737.0,348.3 L738.1,350.2 L739.1,352.1 L740.2,354.0 L741.2,355.9 L742.3,357.7 L743.3,359.6 L744.4,361.4 L745.5,363.3 L746.5,365.1 L747.6,366.8 L748.6,368.6 L749.7,370.2 L750.7,371.9 L751.8,373.5 L752.8,375.1 L753.9,376.6 L755.0,378.1 L756.0,379.6 L757.1,381.1 L758.1,382.5 L759.2,383.9 L760.2,385.3 L761.3,386.6 L762.4,388.0 L763.4,389.3 L764.5,390.6 L765.5,391.9 L766.6,393.2 L767.6,394.5 L768.7,395.7 L769.7,397.0 L770.8,398.2 L771.9,399.4 L772.9,400.6 L774.0,401.8 L775.0,403.0 L776.1,404.2 L777.1,405.4 L778.2,406.5 L779.2,407.6 L780.3,408.8 L781.4,409.9 L782.4,410.9 L783.5,412.0 L784.5,413.1 L785.6,414.1 L786.6,415.1 L787.7,416.1 L788.8,417.1 L789.8,418.1 L790.9,419.0 L791.9,419.9 L793.0,420.9 L794.0,421.7 L795.1,422.6 L796.1,423.5 L797.2,424.3 L798.3,425.1 L799.3,425.9 L800.4,426.6 L801.4,427.4 L802.5,428.1 L803.5,428.8 L804.6,429.5 L805.6,430.1 L806.7,430.8 L807.8,431.4 L808.8,432.0 L809.9,432.5 L810.9,433.1 L812.0,433.6 L813.0,434.1 L814.1,434.6 L815.2,435.0 L816.2,435.4 L817.3,435.8 L818.3,436.2 L819.4,436.5 L820.4,436.9 L821.5,437.2 L822.5,437.5 L823.6,437.7 L824.7,438.0 L825.7,438.2 L826.8,438.4 L827.8,438.6 L828.9,438.7 L829.9,438.9 L831.0,439.0 L832.0,439.1 L833.1,439.2 L834.2,439.2 L835.2,439.3 L836.3,439.3 L837.3,439.3 L838.4,439.3 L839.4,439.3 L840.5,439.3 L841.6,439.2 L842.6,439.1 L843.7,439.0 L844.7,438.9 L845.8,438.8 L846.8,438.7 L847.9,438.5 L848.9,438.4 L850.0,438.2 L851.1,438.0 L852.1,437.8 L853.2,437.6 L854.2,437.4 L855.3,437.2 L856.3,436.9 L857.4,436.6 L858.4,436.4 L859.5,436.1 L860.6,435.8 L861.6,435.5 L862.7,435.2 L863.7,434.9 L864.8,434.5 L865.8,434.2 L866.9,433.8 L868.0,433.5 L869.0,433.1 L870.1,432.7 L871.1,432.4 L872.2,432.0 L873.2,431.6 L874.3,431.2 L875.3,430.8 L876.4,430.4 L877.5,430.0 L878.5,429.5 L879.6,429.1 L880.6,428.7 L881.7,428.2 L882.7,427.8 L883.8,427.3 L884.8,426.9 L885.9,426.4 L887.0,425.9 L888.0,425.5 L889.1,425.0 L890.1,424.5 L891.2,424.0 L892.2,423.5 L893.3,423.0 L894.4,422.5 L895.4,422.0 L896.5,421.5 L897.5,421.0 L898.6,420.5 L899.6,420.0 L900.7,419.5 L901.7,418.9 L902.8,418.4 L903.9,417.9 L904.9,417.3 L906.0,416.8 L907.0,416.2 L908.1,415.7 L909.1,415.1 L910.2,414.6 L911.2,414.0 L912.3,413.5 L913.4,412.9 L914.4,412.4 L915.5,411.8 L916.5,411.3 L917.6,410.7 L918.6,410.2 L919.7,409.6 L920.8,409.1 L921.8,408.5 L922.9,408.0 L923.9,407.4 L925.0,406.9 L926.0,406.4 L927.1,405.8 L928.1,405.3 L929.2,404.8 L930.3,404.3 L931.3,403.8 L932.4,403.3 L933.4,402.8 L934.5,402.3 L935.5,401.8 L936.6,401.3 L937.6,400.9 L938.7,400.4 L939.8,399.9 L940.8,399.5 L941.9,399.0 L942.9,398.6 L944.0,398.2 L945.0,397.8 L946.1,397.3 L947.2,396.9 L948.2,396.5 L949.3,396.1 L950.3,395.7 L951.4,395.4 L952.4,395.0 L953.5,394.6 L954.5,394.3 L955.6,393.9 L956.7,393.6 L957.7,393.2 L958.8,392.9 L959.8,392.6 L960.9,392.2 L961.9,391.9 L963.0,391.6 L964.0,391.3 L965.1,391.0 L966.2,390.8 L967.2,390.5 L968.3,390.2 L969.3,389.9 L970.4,389.7 L971.4,389.4 L972.5,389.2 L973.6,388.9 L974.6,388.7 L975.7,388.5 L976.7,388.3 L977.8,388.0 L978.8,387.8 L979.9,387.6 L980.9,387.4 L982.0,387.2 L983.1,387.0 L984.1,386.9 L985.2,386.7 L986.2,386.5 L987.3,386.4 L988.3,386.2 L989.4,386.0 L990.4,385.9 L991.5,385.8 L992.6,385.6 L993.6,385.5 L994.7,385.4 L995.7,385.2 L996.8,385.1 L997.8,385.0 L998.9,384.9 L1000.0,384.8 L1001.0,384.7 L1002.1,384.6 L1003.1,384.5 L1004.2,384.5 L1005.2,384.4 L1006.3,384.3 L1007.3,384.2 L1008.4,384.2 L1009.5,384.1 L1010.5,384.1 L1011.6,384.0 L1012.6,384.0 L1013.7,384.0 L1014.7,383.9 L1015.8,383.9 L1016.8,383.9 L1017.9,383.8 L1019.0,383.8 L1020.0,383.8 L1021.1,383.8 L1022.1,383.8 L1023.2,383.8 L1024.2,383.8 L1025.3,383.8 L1026.4,383.9 L1027.4,383.9 L1028.5,383.9 L1029.5,383.9 L1030.6,383.9 L1031.6,384.0 L1032.7,384.0 L1033.7,384.0 L1034.8,384.1 L1035.9,384.1 L1036.9,384.2 L1038.0,384.2 L1039.0,384.3 L1040.1,384.3 L1041.1,384.4 L1042.2,384.4 L1043.2,384.5 L1044.3,384.5 L1045.4,384.6 L1046.4,384.7 L1047.5,384.7 L1048.5,384.8 L1049.6,384.9 L1050.6,384.9 L1051.7,385.0 L1052.8,385.1 L1053.8,385.1 L1054.9,385.2 L1055.9,385.3 L1057.0,385.4 L1058.0,385.4 L1059.1,385.5 L1060.1,385.6 L1061.2,385.7 L1062.3,385.8 L1063.3,385.8 L1064.4,385.9 L1065.4,386.0 L1066.5,386.1 L1067.5,386.2 L1068.6,386.3 L1069.6,386.3 L1070.7,386.4 L1071.8,386.5 L1072.8,386.6 L1073.9,386.7 L1074.9,386.8 L1076.0,386.9 L1077.0,386.9 L1078.1,387.0 L1079.2,387.1 L1080.2,387.2 L1081.3,387.3 L1082.3,387.4 L1083.4,387.5 L1084.4,387.6 L1085.5,387.7 L1086.5,387.7 L1087.6,387.8 L1088.7,387.9 L1089.7,388.0 L1090.8,388.1 L1091.8,388.2 L1092.9,388.3 L1093.9,388.4 L1095.0,388.4 L1096.0,388.5 L1097.1,388.6 L1098.2,388.7 L1099.2,388.8 L1100.3,388.9 L1101.3,388.9 L1102.4,389.0 L1103.4,389.1 L1104.5,389.2 L1105.6,389.3 L1106.6,389.3 L1107.7,389.4 L1108.7,389.5 L1109.8,389.6 L1110.8,389.6 L1111.9,389.7 L1112.9,389.8 L1114.0,389.8 L1115.1,389.9 L1116.1,390.0 L1117.2,390.0 L1118.2,390.1 L1119.3,390.2 L1120.3,390.2 L1121.4,390.3 L1122.4,390.4 L1123.5,390.4 L1124.6,390.5 L1125.6,390.5 L1126.7,390.6 L1127.7,390.6 L1128.8,390.7 L1129.8,390.7 L1130.9,390.8 L1132.0,390.9 L1133.0,390.9 L1134.1,391.0 L1135.1,391.0 L1136.2,391.1 L1137.2,391.1 L1138.3,391.2 L1139.3,391.2 L1140.4,391.3 L1141.5,391.3 L1142.5,391.4 L1143.6,391.4 L1144.6,391.5 L1145.7,391.5 L1146.7,391.6 L1147.8,391.6 L1148.8,391.7 L1149.9,391.7 L1151.0,391.8 L1152.0,391.8 L1153.1,391.9 L1154.1,391.9 L1155.2,392.0 L1156.2,392.0 L1157.3,392.1 L1158.4,392.2 L1159.4,392.2 L1160.5,392.3 L1161.5,392.3 L1162.6,392.4 L1163.6,392.5 L1164.7,392.5 L1165.7,392.6 L1166.8,392.6 L1167.9,392.7 L1168.9,392.8 L1170.0,392.8 L1171.0,392.9 L1172.1,393.0 L1173.1,393.0 L1174.2,393.1 L1175.2,393.2 L1176.3,393.2 L1177.4,393.3 L1178.4,393.3 L1179.5,393.4 L1180.5,393.5 L1181.6,393.5 L1182.6,393.6 L1183.7,393.7 L1184.8,393.7 L1185.8,393.8 L1186.9,393.9 L1187.9,393.9 L1189.0,394.0 L1190.0,394.0 L1191.1,394.1 L1192.1,394.2 L1193.2,394.2 L1194.3,394.3 L1195.3,394.3 L1196.4,394.4 L1197.4,394.4 L1198.5,394.5 L1199.5,394.5 L1200.6,394.6 L1201.6,394.6 L1202.7,394.7 L1203.8,394.7 L1204.8,394.8 L1205.9,394.8 L1206.9,394.9 L1208.0,394.9 L1209.0,394.9 L1210.1,395.0 L1211.2,395.0 L1212.2,395.0 L1213.3,395.1 L1214.3,395.1 L1215.4,395.1 L1216.4,395.2 L1217.5,395.2 L1218.5,395.2 L1219.6,395.3 L1220.7,395.3 L1221.7,395.3 L1222.8,395.3 L1223.8,395.3 L1224.9,395.4 L1225.9,395.4 L1227.0,395.4 L1228.0,395.4 L1229.1,395.4 L1230.2,395.4 L1231.2,395.4 L1232.3,395.5 L1233.3,395.5 L1234.4,395.5 L1235.4,395.5 L1236.5,395.5 L1237.6,395.5 L1238.6,395.5 L1239.7,395.5 L1240.7,395.5 L1241.8,395.5 L1242.8,395.5 L1243.9,395.5 L1244.9,395.5 L1246.0,395.5 L1247.1,395.5 L1248.1,395.5 L1249.2,395.5 L1250.2,395.5 L1251.3,395.5 L1252.3,395.5 L1253.4,395.5 L1254.4,395.5 L1255.5,395.5 L1256.6,395.5 L1257.6,395.5 L1258.7,395.4 L1259.7,395.4 L1260.8,395.4 L1261.8,395.4 L1262.9,395.4 L1264.0,395.4 L1265.0,395.4 L1266.1,395.4 L1267.1,395.4 L1268.2,395.3 L1269.2,395.3 L1270.3,395.3 L1271.3,395.3 L1272.4,395.3 L1273.5,395.3 L1274.5,395.3 L1275.6,395.2 L1276.6,395.2 L1277.7,395.2 L1278.7,395.2 L1279.8,395.2 L1280.8,395.2 L1281.9,395.1 L1283.0,395.1 L1284.0,395.1 L1285.1,395.1 L1286.1,395.1 L1287.2,395.1 L1288.2,395.0 L1289.3,395.0 L1290.4,395.0 L1291.4,395.0 L1292.5,395.0 L1293.5,394.9 L1294.6,394.9 L1295.6,394.9 L1296.7,394.9 L1297.7,394.9 L1298.8,394.9 L1299.9,394.8 L1300.9,394.8 L1302.0,394.8 L1303.0,394.8 L1304.1,394.8 L1305.1,394.7 L1306.2,394.7 L1307.2,394.7 L1308.3,394.7 L1309.4,394.7 L1310.4,394.6 L1311.5,394.6 L1312.5,394.6 L1313.6,394.6 L1314.6,394.6 L1315.7,394.5 L1316.8,394.5 L1317.8,394.5 L1318.9,394.5 L1319.9,394.5 L1321.0,394.4 L1322.0,394.4 L1323.1,394.4 L1324.1,394.4 L1325.2,394.4 L1326.3,394.3 L1327.3,394.3 L1328.4,394.3 L1329.4,394.3 L1330.5,394.3 L1331.5,394.3 L1332.6,394.2 L1333.6,394.2 L1334.7,394.2 L1335.8,394.2 L1336.8,394.2 L1337.9,394.1 L1338.9,394.1 L1340.0,394.1 L1341.0,394.1 L1342.1,394.1 L1343.2,394.1 L1344.2,394.1 L1345.3,394.0 L1346.3,394.0 L1347.4,394.0 L1348.4,394.0 L1349.5,394.0 L1350.5,394.0 L1351.6,393.9 L1352.7,393.9 L1353.7,393.9 L1354.8,393.9 L1355.8,393.9 L1356.9,393.9 L1357.9,393.9 L1359.0,393.9 L1360.0,393.8 L1361.1,393.8 L1362.2,393.8 L1363.2,393.8 L1364.3,393.8 L1365.3,393.8 L1366.4,393.8" fill="none" stroke="#000000" stroke-width="9" stroke-dasharray="32 7 16.5 7" stroke-linejoin="round" clip-path="url(#ci)"/>
<path d="M454.0,256.9 L455.1,260.9 L456.1,264.8 L457.2,268.7 L458.2,272.6 L459.3,276.4 L460.3,280.2 L461.4,283.9 L462.4,287.5 L463.5,291.0 L464.6,294.4 L465.6,297.5 L466.7,300.6 L467.7,303.5 L468.8,306.4 L469.8,309.2 L470.9,312.1 L472.0,314.9 L473.0,317.6 L474.1,320.4 L475.1,323.0 L476.2,325.6 L477.2,328.0 L478.3,330.4 L479.3,332.7 L480.4,334.8 L481.5,336.9 L482.5,338.8 L483.6,340.6 L484.6,342.3 L485.7,343.9 L486.7,345.4 L487.8,346.9 L488.8,348.2 L489.9,349.5 L491.0,350.7 L492.0,351.8 L493.1,352.9 L494.1,353.9 L495.2,354.9 L496.2,355.8 L497.3,356.7 L498.4,357.5 L499.4,358.3 L500.5,359.1 L501.5,359.8 L502.6,360.5 L503.6,361.2 L504.7,361.9 L505.7,362.5 L506.8,363.2 L507.9,363.8 L508.9,364.4 L510.0,365.0 L511.0,365.5 L512.1,366.1 L513.1,366.7 L514.2,367.2 L515.2,367.7 L516.3,368.3 L517.4,368.8 L518.4,369.2 L519.5,369.7 L520.5,370.2 L521.6,370.6 L522.6,371.1 L523.7,371.5 L524.8,371.9 L525.8,372.3 L526.9,372.6 L527.9,373.0 L529.0,373.4 L530.0,373.7 L531.1,374.0 L532.1,374.3 L533.2,374.6 L534.3,374.9 L535.3,375.2 L536.4,375.4 L537.4,375.7 L538.5,376.0 L539.5,376.2 L540.6,376.4 L541.6,376.6 L542.7,376.9 L543.8,377.1 L544.8,377.3 L545.9,377.5 L546.9,377.7 L548.0,377.9 L549.0,378.1 L550.1,378.3 L551.2,378.4 L552.2,378.6 L553.3,378.8 L554.3,379.0 L555.4,379.2 L556.4,379.4 L557.5,379.6 L558.5,379.8 L559.6,380.0 L560.7,380.2 L561.7,380.4 L562.8,380.7 L563.8,380.9 L564.9,381.2 L565.9,381.4 L567.0,381.7 L568.0,382.0 L569.1,382.3 L570.2,382.6 L571.2,382.9 L572.3,383.2 L573.3,383.6 L574.4,384.0 L575.4,384.4 L576.5,384.8 L577.6,385.2 L578.6,385.7 L579.7,386.1 L580.7,386.6 L581.8,387.1 L582.8,387.6 L583.9,388.2 L584.9,388.7 L586.0,389.3 L587.1,389.9 L588.1,390.5 L589.2,391.1 L590.2,391.7 L591.3,392.4 L592.3,393.0 L593.4,393.7 L594.4,394.4 L595.5,395.1 L596.6,395.8 L597.6,396.5 L598.7,397.2 L599.7,397.9 L600.8,398.7 L601.8,399.4 L602.9,400.2 L604.0,401.0 L605.0,401.7 L606.1,402.5 L607.1,403.3 L608.2,404.1 L609.2,405.0 L610.3,405.8 L611.3,406.7 L612.4,407.6 L613.5,408.4 L614.5,409.4 L615.6,410.3 L616.6,411.2 L617.7,412.2 L618.7,413.1 L619.8,414.0 L620.8,415.0 L621.9,415.9 L623.0,416.9 L624.0,417.8 L625.1,418.7 L626.1,419.6 L627.2,420.5 L628.2,421.4 L629.3,422.2 L630.4,423.1 L631.4,423.9 L632.5,424.8 L633.5,425.6 L634.6,426.4 L635.6,427.3 L636.7,428.1 L637.7,428.9 L638.8,429.8 L639.9,430.6 L640.9,431.4 L642.0,432.2 L643.0,433.1 L644.1,433.9 L645.1,434.7 L646.2,435.5 L647.2,436.2 L648.3,437.0 L649.4,437.8 L650.4,438.5 L651.5,439.2 L652.5,439.9 L653.6,440.6 L654.6,441.3 L655.7,441.9 L656.8,442.6 L657.8,443.2 L658.9,443.8 L659.9,444.4 L661.0,444.9 L662.0,445.5 L663.1,446.0 L664.1,446.5 L665.2,447.0 L666.3,447.5 L667.3,448.0 L668.4,448.4 L669.4,448.9 L670.5,449.3 L671.5,449.7 L672.6,450.0 L673.6,450.4 L674.7,450.7 L675.8,451.0 L676.8,451.3 L677.9,451.5 L678.9,451.7 L680.0,452.0 L681.0,452.1 L682.1,452.3 L683.2,452.4 L684.2,452.6 L685.3,452.7 L686.3,452.7 L687.4,452.8 L688.4,452.9 L689.5,452.9 L690.5,452.9 L691.6,452.9 L692.7,452.9 L693.7,452.9 L694.8,452.8 L695.8,452.7 L696.9,452.7 L697.9,452.6 L699.0,452.5 L700.0,452.3 L701.1,452.2 L702.2,452.0 L703.2,451.9 L704.3,451.7 L705.3,451.5 L706.4,451.2 L707.4,451.0 L708.5,450.7 L709.6,450.4 L710.6,450.1 L711.7,449.7 L712.7,449.4 L713.8,449.0 L714.8,448.6 L715.9,448.2 L716.9,447.8 L718.0,447.4 L719.1,447.0 L720.1,446.5 L721.2,446.1 L722.2,445.6 L723.3,445.1 L724.3,444.7 L725.4,444.2 L726.4,443.7 L727.5,443.2 L728.6,442.7 L729.6,442.2 L730.7,441.7 L731.7,441.1 L732.8,440.5 L733.8,439.9 L734.9,439.3 L736.0,438.6 L737.0,437.9 L738.1,437.2 L739.1,436.5 L740.2,435.7 L741.2,434.9 L742.3,434.1 L743.3,433.3 L744.4,432.4 L745.5,431.6 L746.5,430.7 L747.6,429.8 L748.6,429.0 L749.7,428.1 L750.7,427.2 L751.8,426.4 L752.8,425.5 L753.9,424.7 L755.0,423.8 L756.0,423.0 L757.1,422.1 L758.1,421.3 L759.2,420.4 L760.2,419.6 L761.3,418.7 L762.4,417.8 L763.4,417.0 L764.5,416.1 L765.5,415.2 L766.6,414.4 L767.6,413.5 L768.7,412.7 L769.7,411.8 L770.8,411.0 L771.9,410.1 L772.9,409.3 L774.0,408.5 L775.0,407.7 L776.1,406.9 L777.1,406.1 L778.2,405.3 L779.2,404.5 L780.3,403.7 L781.4,402.9 L782.4,402.1 L783.5,401.3 L784.5,400.5 L785.6,399.7 L786.6,398.9 L787.7,398.0 L788.8,397.1 L789.8,396.3 L790.9,395.4 L791.9,394.5 L793.0,393.7 L794.0,392.8 L795.1,392.0 L796.1,391.2 L797.2,390.5 L798.3,389.8 L799.3,389.1 L800.4,388.4 L801.4,387.8 L802.5,387.2 L803.5,386.7 L804.6,386.1 L805.6,385.6 L806.7,385.0 L807.8,384.5 L808.8,384.0 L809.9,383.5 L810.9,382.9 L812.0,382.4 L813.0,381.8 L814.1,381.3 L815.2,380.7 L816.2,380.1 L817.3,379.5 L818.3,378.9 L819.4,378.3 L820.4,377.7 L821.5,377.1 L822.5,376.5 L823.6,376.0 L824.7,375.5 L825.7,375.0 L826.8,374.5 L827.8,374.1 L828.9,373.7 L829.9,373.3 L831.0,373.0 L832.0,372.7 L833.1,372.3 L834.2,372.0 L835.2,371.8 L836.3,371.5 L837.3,371.2 L838.4,371.0 L839.4,370.7 L840.5,370.4 L841.6,370.2 L842.6,369.9 L843.7,369.6 L844.7,369.3 L845.8,369.0 L846.8,368.8 L847.9,368.5 L848.9,368.2 L850.0,368.0 L851.1,367.7 L852.1,367.5 L853.2,367.3 L854.2,367.0 L855.3,366.9 L856.3,366.7 L857.4,366.5 L858.4,366.4 L859.5,366.3 L860.6,366.2 L861.6,366.1 L862.7,366.0 L863.7,366.0 L864.8,365.9 L865.8,365.9 L866.9,365.9 L868.0,365.8 L869.0,365.8 L870.1,365.8 L871.1,365.8 L872.2,365.8 L873.2,365.8 L874.3,365.9 L875.3,365.9 L876.4,365.9 L877.5,365.9 L878.5,365.9 L879.6,366.0 L880.6,366.0 L881.7,366.0 L882.7,366.1 L883.8,366.1 L884.8,366.2 L885.9,366.2 L887.0,366.3 L888.0,366.3 L889.1,366.4 L890.1,366.5 L891.2,366.6 L892.2,366.7 L893.3,366.8 L894.4,366.9 L895.4,367.0 L896.5,367.2 L897.5,367.3 L898.6,367.5 L899.6,367.7 L900.7,367.9 L901.7,368.2 L902.8,368.4 L903.9,368.7 L904.9,369.1 L906.0,369.4 L907.0,369.8 L908.1,370.1 L909.1,370.5 L910.2,370.9 L911.2,371.3 L912.3,371.7 L913.4,372.1 L914.4,372.6 L915.5,373.0 L916.5,373.4 L917.6,373.8 L918.6,374.2 L919.7,374.5 L920.8,374.9 L921.8,375.3 L922.9,375.6 L923.9,376.0 L925.0,376.3 L926.0,376.6 L927.1,377.0 L928.1,377.3 L929.2,377.6 L930.3,378.0 L931.3,378.3 L932.4,378.7 L933.4,379.0 L934.5,379.4 L935.5,379.7 L936.6,380.1 L937.6,380.4 L938.7,380.8 L939.8,381.1 L940.8,381.5 L941.9,381.8 L942.9,382.1 L944.0,382.4 L945.0,382.7 L946.1,383.0 L947.2,383.3 L948.2,383.6 L949.3,383.9 L950.3,384.2 L951.4,384.5 L952.4,384.8 L953.5,385.1 L954.5,385.3 L955.6,385.6 L956.7,385.9 L957.7,386.2 L958.8,386.4 L959.8,386.7 L960.9,387.0 L961.9,387.3 L963.0,387.5 L964.0,387.8 L965.1,388.1 L966.2,388.3 L967.2,388.6 L968.3,388.9 L969.3,389.2 L970.4,389.4 L971.4,389.7 L972.5,390.0 L973.6,390.2 L974.6,390.5 L975.7,390.8 L976.7,391.1 L977.8,391.3 L978.8,391.6 L979.9,391.9 L980.9,392.1 L982.0,392.4 L983.1,392.7 L984.1,392.9 L985.2,393.2 L986.2,393.4 L987.3,393.7 L988.3,394.0 L989.4,394.2 L990.4,394.5 L991.5,394.7 L992.6,395.0 L993.6,395.2 L994.7,395.5 L995.7,395.7 L996.8,396.0 L997.8,396.2 L998.9,396.4 L1000.0,396.7 L1001.0,396.9 L1002.1,397.1 L1003.1,397.3 L1004.2,397.5 L1005.2,397.7 L1006.3,397.9 L1007.3,398.1 L1008.4,398.3 L1009.5,398.5 L1010.5,398.6 L1011.6,398.8 L1012.6,398.9 L1013.7,399.1 L1014.7,399.2 L1015.8,399.3 L1016.8,399.5 L1017.9,399.6 L1019.0,399.7 L1020.0,399.8 L1021.1,399.9 L1022.1,400.0 L1023.2,400.1 L1024.2,400.2 L1025.3,400.3 L1026.4,400.4 L1027.4,400.4 L1028.5,400.5 L1029.5,400.6 L1030.6,400.6 L1031.6,400.7 L1032.7,400.8 L1033.7,400.8 L1034.8,400.9 L1035.9,400.9 L1036.9,401.0 L1038.0,401.0 L1039.0,401.0 L1040.1,401.1 L1041.1,401.1 L1042.2,401.2 L1043.2,401.2 L1044.3,401.2 L1045.4,401.3 L1046.4,401.3 L1047.5,401.3 L1048.5,401.4 L1049.6,401.4 L1050.6,401.4 L1051.7,401.5 L1052.8,401.5 L1053.8,401.5 L1054.9,401.5 L1055.9,401.5 L1057.0,401.6 L1058.0,401.6 L1059.1,401.6 L1060.1,401.6 L1061.2,401.6 L1062.3,401.6 L1063.3,401.6 L1064.4,401.6 L1065.4,401.6 L1066.5,401.5 L1067.5,401.5 L1068.6,401.5 L1069.6,401.4 L1070.7,401.4 L1071.8,401.3 L1072.8,401.3 L1073.9,401.2 L1074.9,401.2 L1076.0,401.1 L1077.0,401.1 L1078.1,401.0 L1079.2,400.9 L1080.2,400.8 L1081.3,400.8 L1082.3,400.7 L1083.4,400.6 L1084.4,400.5 L1085.5,400.4 L1086.5,400.3 L1087.6,400.2 L1088.7,400.1 L1089.7,400.0 L1090.8,399.9 L1091.8,399.8 L1092.9,399.7 L1093.9,399.6 L1095.0,399.5 L1096.0,399.4 L1097.1,399.3 L1098.2,399.2 L1099.2,399.1 L1100.3,399.0 L1101.3,398.9 L1102.4,398.8 L1103.4,398.7 L1104.5,398.6 L1105.6,398.5 L1106.6,398.4 L1107.7,398.3 L1108.7,398.2 L1109.8,398.1 L1110.8,398.0 L1111.9,397.9 L1112.9,397.8 L1114.0,397.7 L1115.1,397.6 L1116.1,397.5 L1117.2,397.4 L1118.2,397.2 L1119.3,397.1 L1120.3,397.0 L1121.4,396.9 L1122.4,396.8 L1123.5,396.7 L1124.6,396.6 L1125.6,396.5 L1126.7,396.4 L1127.7,396.3 L1128.8,396.2 L1129.8,396.1 L1130.9,396.0 L1132.0,395.9 L1133.0,395.8 L1134.1,395.7 L1135.1,395.6 L1136.2,395.5 L1137.2,395.4 L1138.3,395.3 L1139.3,395.2 L1140.4,395.1 L1141.5,395.0 L1142.5,394.9 L1143.6,394.8 L1144.6,394.7 L1145.7,394.6 L1146.7,394.5 L1147.8,394.4 L1148.8,394.3 L1149.9,394.3 L1151.0,394.2 L1152.0,394.1 L1153.1,394.0 L1154.1,393.9 L1155.2,393.9 L1156.2,393.8 L1157.3,393.7 L1158.4,393.6 L1159.4,393.6 L1160.5,393.5 L1161.5,393.4 L1162.6,393.4 L1163.6,393.3 L1164.7,393.3 L1165.7,393.2 L1166.8,393.1 L1167.9,393.1 L1168.9,393.0 L1170.0,393.0 L1171.0,392.9 L1172.1,392.9 L1173.1,392.8 L1174.2,392.8 L1175.2,392.8 L1176.3,392.7 L1177.4,392.7 L1178.4,392.7 L1179.5,392.6 L1180.5,392.6 L1181.6,392.6 L1182.6,392.5 L1183.7,392.5 L1184.8,392.5 L1185.8,392.5 L1186.9,392.5 L1187.9,392.5 L1189.0,392.4 L1190.0,392.4 L1191.1,392.4 L1192.1,392.4 L1193.2,392.4 L1194.3,392.4 L1195.3,392.4 L1196.4,392.4 L1197.4,392.4 L1198.5,392.4 L1199.5,392.4 L1200.6,392.4 L1201.6,392.4 L1202.7,392.4 L1203.8,392.4 L1204.8,392.4 L1205.9,392.4 L1206.9,392.5 L1208.0,392.5 L1209.0,392.5 L1210.1,392.5 L1211.2,392.5 L1212.2,392.5 L1213.3,392.5 L1214.3,392.5 L1215.4,392.6 L1216.4,392.6 L1217.5,392.6 L1218.5,392.6 L1219.6,392.6 L1220.7,392.6 L1221.7,392.6 L1222.8,392.7 L1223.8,392.7 L1224.9,392.7 L1225.9,392.7 L1227.0,392.7 L1228.0,392.7 L1229.1,392.7 L1230.2,392.8 L1231.2,392.8 L1232.3,392.8 L1233.3,392.8 L1234.4,392.8 L1235.4,392.8 L1236.5,392.8 L1237.6,392.9 L1238.6,392.9 L1239.7,392.9 L1240.7,392.9 L1241.8,392.9 L1242.8,392.9 L1243.9,392.9 L1244.9,392.9 L1246.0,393.0 L1247.1,393.0 L1248.1,393.0 L1249.2,393.0 L1250.2,393.0 L1251.3,393.0 L1252.3,393.0 L1253.4,393.1 L1254.4,393.1 L1255.5,393.1 L1256.6,393.1 L1257.6,393.1 L1258.7,393.1 L1259.7,393.1 L1260.8,393.1 L1261.8,393.2 L1262.9,393.2 L1264.0,393.2 L1265.0,393.2 L1266.1,393.2 L1267.1,393.2 L1268.2,393.2 L1269.2,393.2 L1270.3,393.3 L1271.3,393.3 L1272.4,393.3 L1273.5,393.3 L1274.5,393.3 L1275.6,393.3 L1276.6,393.3 L1277.7,393.3 L1278.7,393.3 L1279.8,393.3 L1280.8,393.4 L1281.9,393.4 L1283.0,393.4 L1284.0,393.4 L1285.1,393.4 L1286.1,393.4 L1287.2,393.4 L1288.2,393.4 L1289.3,393.4 L1290.4,393.4 L1291.4,393.4 L1292.5,393.5 L1293.5,393.5 L1294.6,393.5 L1295.6,393.5 L1296.7,393.5 L1297.7,393.5 L1298.8,393.5 L1299.9,393.5 L1300.9,393.5 L1302.0,393.5 L1303.0,393.5 L1304.1,393.5 L1305.1,393.5 L1306.2,393.5 L1307.2,393.5 L1308.3,393.6 L1309.4,393.6 L1310.4,393.6 L1311.5,393.6 L1312.5,393.6 L1313.6,393.6 L1314.6,393.6 L1315.7,393.6 L1316.8,393.6 L1317.8,393.6 L1318.9,393.6 L1319.9,393.6 L1321.0,393.6 L1322.0,393.6 L1323.1,393.6 L1324.1,393.6 L1325.2,393.6 L1326.3,393.6 L1327.3,393.6 L1328.4,393.6 L1329.4,393.6 L1330.5,393.6 L1331.5,393.6 L1332.6,393.6 L1333.6,393.6 L1334.7,393.6 L1335.8,393.6 L1336.8,393.6 L1337.9,393.6 L1338.9,393.6 L1340.0,393.6 L1341.0,393.6 L1342.1,393.6 L1343.2,393.6 L1344.2,393.6 L1345.3,393.6 L1346.3,393.6 L1347.4,393.6 L1348.4,393.6 L1349.5,393.6 L1350.5,393.6 L1351.6,393.6 L1352.7,393.6 L1353.7,393.6 L1354.8,393.6 L1355.8,393.6 L1356.9,393.6 L1357.9,393.6 L1359.0,393.6 L1360.0,393.6 L1361.1,393.6 L1362.2,393.6 L1363.2,393.6 L1364.3,393.6 L1365.3,393.6 L1366.4,393.6" fill="none" stroke="#ff00ff" stroke-width="9" stroke-dasharray="9 6.6" stroke-linejoin="round" clip-path="url(#ci)"/>
<path d="M454.0,390.8 L455.1,389.7 L456.1,388.5 L457.2,387.4 L458.2,386.3 L459.3,385.1 L460.3,384.0 L461.4,382.9 L462.4,381.9 L463.5,380.8 L464.6,379.8 L465.6,378.8 L466.7,377.8 L467.7,376.8 L468.8,375.9 L469.8,375.0 L470.9,374.1 L472.0,373.3 L473.0,372.5 L474.1,371.7 L475.1,371.0 L476.2,370.3 L477.2,369.7 L478.3,369.0 L479.3,368.5 L480.4,367.9 L481.5,367.4 L482.5,366.9 L483.6,366.4 L484.6,366.0 L485.7,365.6 L486.7,365.2 L487.8,364.9 L488.8,364.6 L489.9,364.3 L491.0,364.1 L492.0,363.8 L493.1,363.6 L494.1,363.5 L495.2,363.3 L496.2,363.2 L497.3,363.1 L498.4,363.1 L499.4,363.0 L500.5,363.0 L501.5,363.1 L502.6,363.1 L503.6,363.1 L504.7,363.2 L505.7,363.3 L506.8,363.4 L507.9,363.6 L508.9,363.7 L510.0,363.9 L511.0,364.1 L512.1,364.3 L513.1,364.5 L514.2,364.7 L515.2,364.9 L516.3,365.2 L517.4,365.4 L518.4,365.7 L519.5,366.0 L520.5,366.2 L521.6,366.5 L522.6,366.8 L523.7,367.1 L524.8,367.4 L525.8,367.6 L526.9,367.9 L527.9,368.2 L529.0,368.5 L530.0,368.8 L531.1,369.1 L532.1,369.4 L533.2,369.6 L534.3,369.9 L535.3,370.2 L536.4,370.5 L537.4,370.7 L538.5,371.0 L539.5,371.3 L540.6,371.6 L541.6,371.8 L542.7,372.1 L543.8,372.4 L544.8,372.7 L545.9,372.9 L546.9,373.2 L548.0,373.5 L549.0,373.8 L550.1,374.0 L551.2,374.3 L552.2,374.6 L553.3,374.9 L554.3,375.2 L555.4,375.5 L556.4,375.8 L557.5,376.1 L558.5,376.4 L559.6,376.7 L560.7,377.0 L561.7,377.3 L562.8,377.6 L563.8,377.9 L564.9,378.2 L565.9,378.6 L567.0,378.9 L568.0,379.2 L569.1,379.6 L570.2,379.9 L571.2,380.3 L572.3,380.6 L573.3,381.0 L574.4,381.3 L575.4,381.7 L576.5,382.0 L577.6,382.4 L578.6,382.8 L579.7,383.1 L580.7,383.5 L581.8,383.9 L582.8,384.2 L583.9,384.6 L584.9,385.0 L586.0,385.4 L587.1,385.8 L588.1,386.1 L589.2,386.5 L590.2,386.9 L591.3,387.3 L592.3,387.7 L593.4,388.1 L594.4,388.5 L595.5,388.8 L596.6,389.2 L597.6,389.6 L598.7,390.0 L599.7,390.4 L600.8,390.8 L601.8,391.2 L602.9,391.6 L604.0,392.0 L605.0,392.4 L606.1,392.8 L607.1,393.2 L608.2,393.6 L609.2,394.0 L610.3,394.4 L611.3,394.8 L612.4,395.2 L613.5,395.6 L614.5,396.0 L615.6,396.4 L616.6,396.8 L617.7,397.2 L618.7,397.6 L619.8,398.0 L620.8,398.5 L621.9,398.9 L623.0,399.3 L624.0,399.7 L625.1,400.1 L626.1,400.6 L627.2,401.0 L628.2,401.4 L629.3,401.9 L630.4,402.3 L631.4,402.7 L632.5,403.2 L633.5,403.6 L634.6,404.1 L635.6,404.5 L636.7,405.0 L637.7,405.4 L638.8,405.9 L639.9,406.4 L640.9,406.8 L642.0,407.3 L643.0,407.7 L644.1,408.2 L645.1,408.7 L646.2,409.1 L647.2,409.6 L648.3,410.0 L649.4,410.5 L650.4,411.0 L651.5,411.4 L652.5,411.9 L653.6,412.4 L654.6,412.8 L655.7,413.3 L656.8,413.8 L657.8,414.2 L658.9,414.7 L659.9,415.1 L661.0,415.6 L662.0,416.1 L663.1,416.5 L664.1,417.0 L665.2,417.4 L666.3,417.9 L667.3,418.3 L668.4,418.7 L669.4,419.2 L670.5,419.6 L671.5,420.0 L672.6,420.5 L673.6,420.9 L674.7,421.3 L675.8,421.7 L676.8,422.1 L677.9,422.5 L678.9,422.9 L680.0,423.2 L681.0,423.6 L682.1,424.0 L683.2,424.3 L684.2,424.7 L685.3,425.0 L686.3,425.3 L687.4,425.6 L688.4,425.9 L689.5,426.2 L690.5,426.5 L691.6,426.8 L692.7,427.1 L693.7,427.3 L694.8,427.5 L695.8,427.8 L696.9,428.0 L697.9,428.2 L699.0,428.4 L700.0,428.5 L701.1,428.7 L702.2,428.9 L703.2,429.0 L704.3,429.2 L705.3,429.3 L706.4,429.4 L707.4,429.5 L708.5,429.6 L709.6,429.7 L710.6,429.8 L711.7,429.9 L712.7,429.9 L713.8,430.0 L714.8,430.0 L715.9,430.1 L716.9,430.1 L718.0,430.1 L719.1,430.1 L720.1,430.1 L721.2,430.1 L722.2,430.1 L723.3,430.0 L724.3,430.0 L725.4,430.0 L726.4,429.9 L727.5,429.8 L728.6,429.8 L729.6,429.7 L730.7,429.6 L731.7,429.5 L732.8,429.4 L733.8,429.2 L734.9,429.1 L736.0,429.0 L737.0,428.8 L738.1,428.6 L739.1,428.4 L740.2,428.3 L741.2,428.1 L742.3,427.8 L743.3,427.6 L744.4,427.4 L745.5,427.1 L746.5,426.9 L747.6,426.6 L748.6,426.3 L749.7,426.0 L750.7,425.7 L751.8,425.4 L752.8,425.1 L753.9,424.7 L755.0,424.3 L756.0,424.0 L757.1,423.6 L758.1,423.2 L759.2,422.8 L760.2,422.4 L761.3,422.0 L762.4,421.6 L763.4,421.1 L764.5,420.7 L765.5,420.2 L766.6,419.8 L767.6,419.3 L768.7,418.9 L769.7,418.4 L770.8,417.9 L771.9,417.5 L772.9,417.0 L774.0,416.5 L775.0,416.0 L776.1,415.5 L777.1,415.1 L778.2,414.6 L779.2,414.1 L780.3,413.6 L781.4,413.1 L782.4,412.7 L783.5,412.2 L784.5,411.7 L785.6,411.2 L786.6,410.8 L787.7,410.3 L788.8,409.8 L789.8,409.3 L790.9,408.8 L791.9,408.4 L793.0,407.9 L794.0,407.4 L795.1,406.9 L796.1,406.4 L797.2,405.9 L798.3,405.4 L799.3,404.9 L800.4,404.4 L801.4,403.9 L802.5,403.4 L803.5,402.8 L804.6,402.3 L805.6,401.8 L806.7,401.2 L807.8,400.7 L808.8,400.2 L809.9,399.6 L810.9,399.1 L812.0,398.5 L813.0,398.0 L814.1,397.4 L815.2,396.9 L816.2,396.3 L817.3,395.8 L818.3,395.2 L819.4,394.7 L820.4,394.2 L821.5,393.6 L822.5,393.1 L823.6,392.5 L824.7,392.0 L825.7,391.5 L826.8,391.0 L827.8,390.4 L828.9,389.9 L829.9,389.4 L831.0,388.9 L832.0,388.4 L833.1,387.9 L834.2,387.4 L835.2,387.0 L836.3,386.5 L837.3,386.0 L838.4,385.5 L839.4,385.1 L840.5,384.6 L841.6,384.2 L842.6,383.8 L843.7,383.3 L844.7,382.9 L845.8,382.5 L846.8,382.1 L847.9,381.7 L848.9,381.3 L850.0,380.9 L851.1,380.5 L852.1,380.1 L853.2,379.7 L854.2,379.4 L855.3,379.0 L856.3,378.7 L857.4,378.3 L858.4,378.0 L859.5,377.7 L860.6,377.4 L861.6,377.0 L862.7,376.7 L863.7,376.5 L864.8,376.2 L865.8,375.9 L866.9,375.6 L868.0,375.4 L869.0,375.1 L870.1,374.9 L871.1,374.6 L872.2,374.4 L873.2,374.2 L874.3,374.0 L875.3,373.8 L876.4,373.6 L877.5,373.4 L878.5,373.2 L879.6,373.0 L880.6,372.9 L881.7,372.7 L882.7,372.6 L883.8,372.5 L884.8,372.3 L885.9,372.2 L887.0,372.1 L888.0,372.0 L889.1,371.9 L890.1,371.8 L891.2,371.7 L892.2,371.7 L893.3,371.6 L894.4,371.6 L895.4,371.5 L896.5,371.5 L897.5,371.5 L898.6,371.5 L899.6,371.5 L900.7,371.5 L901.7,371.5 L902.8,371.5 L903.9,371.5 L904.9,371.6 L906.0,371.6 L907.0,371.7 L908.1,371.7 L909.1,371.8 L910.2,371.9 L911.2,371.9 L912.3,372.0 L913.4,372.1 L914.4,372.2 L915.5,372.3 L916.5,372.4 L917.6,372.5 L918.6,372.7 L919.7,372.8 L920.8,372.9 L921.8,373.0 L922.9,373.2 L923.9,373.3 L925.0,373.5 L926.0,373.6 L927.1,373.7 L928.1,373.9 L929.2,374.0 L930.3,374.2 L931.3,374.4 L932.4,374.5 L933.4,374.7 L934.5,374.8 L935.5,375.0 L936.6,375.2 L937.6,375.4 L938.7,375.5 L939.8,375.7 L940.8,375.9 L941.9,376.1 L942.9,376.3 L944.0,376.5 L945.0,376.7 L946.1,376.9 L947.2,377.1 L948.2,377.3 L949.3,377.5 L950.3,377.7 L951.4,377.9 L952.4,378.1 L953.5,378.3 L954.5,378.5 L955.6,378.7 L956.7,379.0 L957.7,379.2 L958.8,379.4 L959.8,379.6 L960.9,379.8 L961.9,380.1 L963.0,380.3 L964.0,380.5 L965.1,380.7 L966.2,380.9 L967.2,381.2 L968.3,381.4 L969.3,381.6 L970.4,381.8 L971.4,382.0 L972.5,382.2 L973.6,382.4 L974.6,382.6 L975.7,382.8 L976.7,383.0 L977.8,383.1 L978.8,383.3 L979.9,383.5 L980.9,383.7 L982.0,383.9 L983.1,384.0 L984.1,384.2 L985.2,384.4 L986.2,384.6 L987.3,384.8 L988.3,384.9 L989.4,385.1 L990.4,385.3 L991.5,385.5 L992.6,385.7 L993.6,385.9 L994.7,386.1 L995.7,386.3 L996.8,386.6 L997.8,386.8 L998.9,387.0 L1000.0,387.2 L1001.0,387.5 L1002.1,387.7 L1003.1,387.9 L1004.2,388.2 L1005.2,388.4 L1006.3,388.7 L1007.3,388.9 L1008.4,389.2 L1009.5,389.4 L1010.5,389.7 L1011.6,389.9 L1012.6,390.1 L1013.7,390.4 L1014.7,390.6 L1015.8,390.9 L1016.8,391.1 L1017.9,391.3 L1019.0,391.5 L1020.0,391.8 L1021.1,392.0 L1022.1,392.2 L1023.2,392.4 L1024.2,392.7 L1025.3,392.9 L1026.4,393.1 L1027.4,393.3 L1028.5,393.5 L1029.5,393.7 L1030.6,393.9 L1031.6,394.1 L1032.7,394.3 L1033.7,394.5 L1034.8,394.7 L1035.9,394.9 L1036.9,395.1 L1038.0,395.3 L1039.0,395.5 L1040.1,395.6 L1041.1,395.8 L1042.2,396.0 L1043.2,396.2 L1044.3,396.3 L1045.4,396.5 L1046.4,396.7 L1047.5,396.8 L1048.5,397.0 L1049.6,397.1 L1050.6,397.3 L1051.7,397.4 L1052.8,397.6 L1053.8,397.7 L1054.9,397.8 L1055.9,398.0 L1057.0,398.1 L1058.0,398.2 L1059.1,398.3 L1060.1,398.5 L1061.2,398.6 L1062.3,398.7 L1063.3,398.8 L1064.4,398.9 L1065.4,399.0 L1066.5,399.1 L1067.5,399.2 L1068.6,399.3 L1069.6,399.4 L1070.7,399.5 L1071.8,399.6 L1072.8,399.6 L1073.9,399.7 L1074.9,399.8 L1076.0,399.9 L1077.0,399.9 L1078.1,400.0 L1079.2,400.0 L1080.2,400.1 L1081.3,400.2 L1082.3,400.2 L1083.4,400.3 L1084.4,400.3 L1085.5,400.3 L1086.5,400.4 L1087.6,400.4 L1088.7,400.4 L1089.7,400.4 L1090.8,400.4 L1091.8,400.5 L1092.9,400.5 L1093.9,400.5 L1095.0,400.5 L1096.0,400.5 L1097.1,400.4 L1098.2,400.4 L1099.2,400.4 L1100.3,400.4 L1101.3,400.3 L1102.4,400.3 L1103.4,400.3 L1104.5,400.2 L1105.6,400.2 L1106.6,400.2 L1107.7,400.1 L1108.7,400.1 L1109.8,400.0 L1110.8,400.0 L1111.9,399.9 L1112.9,399.8 L1114.0,399.8 L1115.1,399.7 L1116.1,399.7 L1117.2,399.6 L1118.2,399.6 L1119.3,399.5 L1120.3,399.4 L1121.4,399.4 L1122.4,399.3 L1123.5,399.3 L1124.6,399.2 L1125.6,399.2 L1126.7,399.1 L1127.7,399.0 L1128.8,399.0 L1129.8,398.9 L1130.9,398.9 L1132.0,398.8 L1133.0,398.8 L1134.1,398.7 L1135.1,398.6 L1136.2,398.6 L1137.2,398.5 L1138.3,398.5 L1139.3,398.4 L1140.4,398.3 L1141.5,398.3 L1142.5,398.2 L1143.6,398.2 L1144.6,398.1 L1145.7,398.0 L1146.7,398.0 L1147.8,397.9 L1148.8,397.8 L1149.9,397.8 L1151.0,397.7 L1152.0,397.6 L1153.1,397.6 L1154.1,397.5 L1155.2,397.4 L1156.2,397.3 L1157.3,397.3 L1158.4,397.2 L1159.4,397.1 L1160.5,397.0 L1161.5,396.9 L1162.6,396.9 L1163.6,396.8 L1164.7,396.7 L1165.7,396.6 L1166.8,396.5 L1167.9,396.5 L1168.9,396.4 L1170.0,396.3 L1171.0,396.2 L1172.1,396.1 L1173.1,396.0 L1174.2,396.0 L1175.2,395.9 L1176.3,395.8 L1177.4,395.7 L1178.4,395.6 L1179.5,395.5 L1180.5,395.4 L1181.6,395.4 L1182.6,395.3 L1183.7,395.2 L1184.8,395.1 L1185.8,395.0 L1186.9,395.0 L1187.9,394.9 L1189.0,394.8 L1190.0,394.7 L1191.1,394.7 L1192.1,394.6 L1193.2,394.5 L1194.3,394.4 L1195.3,394.4 L1196.4,394.3 L1197.4,394.2 L1198.5,394.2 L1199.5,394.1 L1200.6,394.1 L1201.6,394.0 L1202.7,393.9 L1203.8,393.9 L1204.8,393.8 L1205.9,393.8 L1206.9,393.7 L1208.0,393.7 L1209.0,393.6 L1210.1,393.6 L1211.2,393.5 L1212.2,393.5 L1213.3,393.4 L1214.3,393.4 L1215.4,393.3 L1216.4,393.3 L1217.5,393.2 L1218.5,393.2 L1219.6,393.2 L1220.7,393.1 L1221.7,393.1 L1222.8,393.0 L1223.8,393.0 L1224.9,393.0 L1225.9,392.9 L1227.0,392.9 L1228.0,392.8 L1229.1,392.8 L1230.2,392.8 L1231.2,392.7 L1232.3,392.7 L1233.3,392.7 L1234.4,392.6 L1235.4,392.6 L1236.5,392.6 L1237.6,392.5 L1238.6,392.5 L1239.7,392.5 L1240.7,392.5 L1241.8,392.4 L1242.8,392.4 L1243.9,392.4 L1244.9,392.3 L1246.0,392.3 L1247.1,392.3 L1248.1,392.3 L1249.2,392.2 L1250.2,392.2 L1251.3,392.2 L1252.3,392.2 L1253.4,392.1 L1254.4,392.1 L1255.5,392.1 L1256.6,392.1 L1257.6,392.0 L1258.7,392.0 L1259.7,392.0 L1260.8,392.0 L1261.8,392.0 L1262.9,392.0 L1264.0,392.0 L1265.0,391.9 L1266.1,391.9 L1267.1,391.9 L1268.2,391.9 L1269.2,391.9 L1270.3,391.9 L1271.3,391.9 L1272.4,391.9 L1273.5,391.9 L1274.5,391.9 L1275.6,391.9 L1276.6,391.9 L1277.7,391.9 L1278.7,391.9 L1279.8,391.9 L1280.8,391.9 L1281.9,391.9 L1283.0,391.9 L1284.0,392.0 L1285.1,392.0 L1286.1,392.0 L1287.2,392.0 L1288.2,392.0 L1289.3,392.0 L1290.4,392.0 L1291.4,392.1 L1292.5,392.1 L1293.5,392.1 L1294.6,392.1 L1295.6,392.1 L1296.7,392.2 L1297.7,392.2 L1298.8,392.2 L1299.9,392.2 L1300.9,392.3 L1302.0,392.3 L1303.0,392.3 L1304.1,392.3 L1305.1,392.4 L1306.2,392.4 L1307.2,392.4 L1308.3,392.4 L1309.4,392.5 L1310.4,392.5 L1311.5,392.5 L1312.5,392.5 L1313.6,392.5 L1314.6,392.6 L1315.7,392.6 L1316.8,392.6 L1317.8,392.6 L1318.9,392.7 L1319.9,392.7 L1321.0,392.7 L1322.0,392.7 L1323.1,392.7 L1324.1,392.8 L1325.2,392.8 L1326.3,392.8 L1327.3,392.8 L1328.4,392.8 L1329.4,392.9 L1330.5,392.9 L1331.5,392.9 L1332.6,392.9 L1333.6,392.9 L1334.7,393.0 L1335.8,393.0 L1336.8,393.0 L1337.9,393.0 L1338.9,393.0 L1340.0,393.0 L1341.0,393.0 L1342.1,393.1 L1343.2,393.1 L1344.2,393.1 L1345.3,393.1 L1346.3,393.1 L1347.4,393.1 L1348.4,393.1 L1349.5,393.2 L1350.5,393.2 L1351.6,393.2 L1352.7,393.2 L1353.7,393.2 L1354.8,393.2 L1355.8,393.2 L1356.9,393.2 L1357.9,393.2 L1359.0,393.3 L1360.0,393.3 L1361.1,393.3 L1362.2,393.3 L1363.2,393.3 L1364.3,393.3 L1365.3,393.3 L1366.4,393.3" fill="none" stroke="#00ff00" stroke-width="9" stroke-linejoin="round" clip-path="url(#ci)"/>
<g font-family="Liberation Serif" font-size="58" fill="#262626" stroke="#262626" stroke-width="0.5"><text x="454.00" y="616" text-anchor="middle">0</text><text x="718.00" y="616" text-anchor="middle">10</text><text x="982.00" y="616" text-anchor="middle">20</text><text x="1246.00" y="616" text-anchor="middle">30</text><text x="437.5" y="502.60" text-anchor="end">&#8722;1</text><text x="437.5" y="413.35" text-anchor="end">0</text><text x="437.5" y="324.10" text-anchor="end">1</text><text x="437.5" y="234.85" text-anchor="end">2</text></g>
<path d="M341,586.8 L436,522.4" stroke="#000" stroke-width="2.2" fill="none"/>
<path d="M459.2,505.4 L417,515.2 L417,516.6 L434.2,521.6 L433,540.8 L434,540.8 Z" fill="#000" stroke="#000" stroke-width="0.6" stroke-linejoin="round"/>
<rect x="263" y="73" width="1134.5" height="77.6" fill="#fff" stroke="#111111" stroke-width="2"/>
<path d="M274,111.5 H392" stroke="#ff0000" stroke-width="9" stroke-dasharray="32 31"/>
<text x="401" y="126" font-family="Liberation Serif" font-size="56" fill="#000" stroke="#000" stroke-width="0.7"><tspan font-style="italic">e</tspan><tspan font-size="40" font-style="italic" dy="8">v</tspan><tspan font-size="40" dx="1.5">,1</tspan></text>
<path d="M501,111.5 H619" stroke="#0000ff" stroke-width="9"/>
<text x="628" y="126" font-family="Liberation Serif" font-size="56" fill="#000" stroke="#000" stroke-width="0.7"><tspan font-style="italic">e</tspan><tspan font-size="40" font-style="italic" dy="8">v</tspan><tspan font-size="40" dx="1.5">,2</tspan></text>
<path d="M728,111.5 H846" stroke="#000000" stroke-width="9" stroke-dasharray="32 7 16.5 7"/>
<text x="855" y="126" font-family="Liberation Serif" font-size="56" fill="#000" stroke="#000" stroke-width="0.7"><tspan font-style="italic">e</tspan><tspan font-size="40" font-style="italic" dy="8">v</tspan><tspan font-size="40" dx="1.5">,3</tspan></text>
<path d="M955,111.5 H1073" stroke="#ff00ff" stroke-width="9" stroke-dasharray="9 6.6"/>
<text x="1082" y="126" font-family="Liberation Serif" font-size="56" fill="#000" stroke="#000" stroke-width="0.7"><tspan font-style="italic">e</tspan><tspan font-size="40" font-style="italic" dy="8">v</tspan><tspan font-size="40" dx="1.5">,4</tspan></text>
<path d="M1182,111.5 H1300" stroke="#00ff00" stroke-width="9"/>
<text x="1309" y="126" font-family="Liberation Serif" font-size="56" fill="#000" stroke="#000" stroke-width="0.7"><tspan font-style="italic">e</tspan><tspan font-size="40" font-style="italic" dy="8">v</tspan><tspan font-size="40" dx="1.5">,5</tspan></text>
</svg></body></html>
